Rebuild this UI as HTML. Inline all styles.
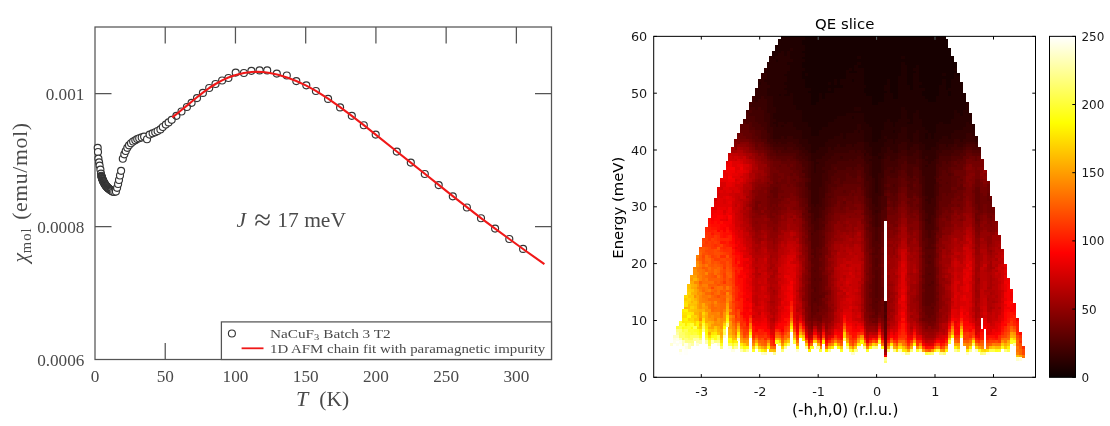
<!DOCTYPE html>
<html lang="en">
<head>
<meta charset="utf-8">
<title>Susceptibility fit and QE slice</title>
<style>
html,body{margin:0;padding:0;background:#fff;}
body{width:1110px;height:426px;overflow:hidden;}
svg{display:block;}
text{white-space:pre;}
</style>
</head>
<body>
<svg width="1110" height="426" viewBox="0 0 1110 426">
<rect width="1110" height="426" fill="#fff"/>
<g id="chi-plot">
<rect x="95.0" y="27.0" width="456.5" height="332.5" fill="#fff" stroke="#555" stroke-width="1.25"/>
<path d="M165.23 359.5v-16.5M165.23 27.0v16.5M235.46 359.5v-16.5M235.46 27.0v16.5M305.69 359.5v-16.5M305.69 27.0v16.5M375.92 359.5v-16.5M375.92 27.0v16.5M446.15 359.5v-16.5M446.15 27.0v16.5M516.38 359.5v-16.5M516.38 27.0v16.5M95.0 226.5h16.5M551.5 226.5h-16.5M95.0 93.5h16.5M551.5 93.5h-16.5" stroke="#555" stroke-width="1.25" fill="none"/>
<g fill="#fff" stroke="#333" stroke-width="1.15">
<circle cx="97.7" cy="147.8" r="3.5"/>
<circle cx="98" cy="152" r="3.5"/>
<circle cx="98.4" cy="158.6" r="3.5"/>
<circle cx="99.1" cy="162.4" r="3.5"/>
<circle cx="99.6" cy="165.6" r="3.5"/>
<circle cx="100.4" cy="169.6" r="3.5"/>
<circle cx="101" cy="173.6" r="3.5"/>
<circle cx="101.3" cy="175.8" r="3.5"/>
<circle cx="101.48" cy="176.36" r="3.5"/>
<circle cx="101.66" cy="176.92" r="3.5"/>
<circle cx="101.84" cy="177.48" r="3.5"/>
<circle cx="102.02" cy="178.04" r="3.5"/>
<circle cx="102.2" cy="178.6" r="3.5"/>
<circle cx="102.42" cy="179.16" r="3.5"/>
<circle cx="102.64" cy="179.72" r="3.5"/>
<circle cx="102.86" cy="180.28" r="3.5"/>
<circle cx="103.08" cy="180.84" r="3.5"/>
<circle cx="103.3" cy="181.4" r="3.5"/>
<circle cx="103.56" cy="181.88" r="3.5"/>
<circle cx="103.82" cy="182.36" r="3.5"/>
<circle cx="104.08" cy="182.84" r="3.5"/>
<circle cx="104.34" cy="183.32" r="3.5"/>
<circle cx="104.6" cy="183.8" r="3.5"/>
<circle cx="104.88" cy="184.22" r="3.5"/>
<circle cx="105.16" cy="184.64" r="3.5"/>
<circle cx="105.44" cy="185.06" r="3.5"/>
<circle cx="105.72" cy="185.48" r="3.5"/>
<circle cx="106" cy="185.9" r="3.5"/>
<circle cx="106.32" cy="186.26" r="3.5"/>
<circle cx="106.64" cy="186.62" r="3.5"/>
<circle cx="106.96" cy="186.98" r="3.5"/>
<circle cx="107.28" cy="187.34" r="3.5"/>
<circle cx="107.6" cy="187.7" r="3.5"/>
<circle cx="107.92" cy="187.98" r="3.5"/>
<circle cx="108.24" cy="188.26" r="3.5"/>
<circle cx="108.56" cy="188.54" r="3.5"/>
<circle cx="108.88" cy="188.82" r="3.5"/>
<circle cx="109.2" cy="189.1" r="3.5"/>
<circle cx="109.73" cy="189.5" r="3.5"/>
<circle cx="110.27" cy="189.9" r="3.5"/>
<circle cx="110.8" cy="190.3" r="3.5"/>
<circle cx="111.4" cy="190.63" r="3.5"/>
<circle cx="112" cy="190.97" r="3.5"/>
<circle cx="112.8" cy="191.8" r="3.5"/>
<circle cx="114.3" cy="192" r="3.5"/>
<circle cx="115.9" cy="191.5" r="3.5"/>
<circle cx="117.1" cy="187.8" r="3.5"/>
<circle cx="118.1" cy="184" r="3.5"/>
<circle cx="119" cy="180" r="3.5"/>
<circle cx="120" cy="175.5" r="3.5"/>
<circle cx="121.1" cy="170.8" r="3.5"/>
<circle cx="122.8" cy="158.7" r="3.5"/>
<circle cx="124.3" cy="154.3" r="3.5"/>
<circle cx="125.7" cy="151" r="3.5"/>
<circle cx="127.3" cy="147.8" r="3.5"/>
<circle cx="129" cy="145.3" r="3.5"/>
<circle cx="131" cy="143.2" r="3.5"/>
<circle cx="133.1" cy="141.5" r="3.5"/>
<circle cx="135.3" cy="140.2" r="3.5"/>
<circle cx="137.2" cy="139.1" r="3.5"/>
<circle cx="139.2" cy="138.2" r="3.5"/>
<circle cx="141.7" cy="137.4" r="3.5"/>
<circle cx="144.1" cy="136.6" r="3.5"/>
<circle cx="147" cy="139.2" r="3.5"/>
<circle cx="149.6" cy="134.6" r="3.5"/>
<circle cx="152.6" cy="133.3" r="3.5"/>
<circle cx="155.2" cy="132.2" r="3.5"/>
<circle cx="157.6" cy="131" r="3.5"/>
<circle cx="160.4" cy="129.4" r="3.5"/>
<circle cx="162.8" cy="127" r="3.5"/>
<circle cx="165.8" cy="124.6" r="3.5"/>
<circle cx="168.6" cy="122.4" r="3.5"/>
<circle cx="171.7" cy="119.8" r="3.5"/>
</g>
<g fill="none" stroke="#333" stroke-width="1.15">
<circle cx="176.4" cy="115.8" r="3.5"/>
<circle cx="181.5" cy="111.5" r="3.5"/>
<circle cx="186.9" cy="107" r="3.5"/>
<circle cx="191.6" cy="102.8" r="3.5"/>
<circle cx="197" cy="98.1" r="3.5"/>
<circle cx="202.9" cy="92.9" r="3.5"/>
<circle cx="209.2" cy="88" r="3.5"/>
<circle cx="215.5" cy="84" r="3.5"/>
<circle cx="222.1" cy="80.5" r="3.5"/>
<circle cx="228.4" cy="78" r="3.5"/>
<circle cx="235.7" cy="72.6" r="3.5"/>
<circle cx="243.9" cy="73" r="3.5"/>
<circle cx="251.4" cy="70.8" r="3.5"/>
<circle cx="259.6" cy="70.4" r="3.5"/>
<circle cx="267.2" cy="70.4" r="3.5"/>
<circle cx="276.8" cy="73.6" r="3.5"/>
<circle cx="286.8" cy="75.5" r="3.5"/>
<circle cx="296.3" cy="81.1" r="3.5"/>
<circle cx="306.3" cy="85.3" r="3.5"/>
<circle cx="315.9" cy="91" r="3.5"/>
<circle cx="328.1" cy="98.9" r="3.5"/>
<circle cx="340.1" cy="107.4" r="3.5"/>
<circle cx="351.8" cy="115.8" r="3.5"/>
<circle cx="363.8" cy="125.2" r="3.5"/>
<circle cx="375.7" cy="134.6" r="3.5"/>
<circle cx="396.8" cy="151.6" r="3.5"/>
<circle cx="410.8" cy="162.6" r="3.5"/>
<circle cx="424.8" cy="174" r="3.5"/>
<circle cx="438.7" cy="185.1" r="3.5"/>
<circle cx="452.8" cy="196.3" r="3.5"/>
<circle cx="466.9" cy="207.5" r="3.5"/>
<circle cx="481" cy="218.2" r="3.5"/>
<circle cx="495.1" cy="228.6" r="3.5"/>
<circle cx="509.3" cy="239" r="3.5"/>
<circle cx="523.1" cy="248.9" r="3.5"/>
</g>
<polyline fill="none" stroke="#f01818" stroke-width="2.1" stroke-linejoin="round" points="172.3,117.4 176.4,114.2 181.5,110 186.9,105.6 191.6,101.7 197,97.3 202.9,92.6 209.2,88 215.5,84 222.1,80.4 228.4,77.5 235.7,75 243.9,73 251.4,72 257.5,71.7 263,72 270,73 278,74.8 287,77.5 296.3,81 306.3,85.6 315.9,90.9 328.1,98.6 340.1,107.1 351.8,115.9 363.8,125.2 375.7,134.6 396.8,151.5 410.8,162.6 424.8,173.8 438.7,184.9 452.8,196.1 466.9,207.2 481,218.1 495.1,228.6 509.3,239 523.1,249 544.4,264.2"/>
<rect x="221.4" y="321.9" width="330.1" height="37.60000000000002" fill="#fff" stroke="#555" stroke-width="1.25"/>
<circle cx="231.9" cy="333.5" r="3.5" fill="#fff" stroke="#333" stroke-width="1.1"/>
<path d="M241.6 348.3h21.9" stroke="#f01818" stroke-width="1.8"/>
<g font-family="'Liberation Serif', serif" fill="#4a4a4a">
<text transform="translate(270 338.4) scale(1.175 1)" font-size="13">NaCuF<tspan font-size="9" dy="2">3</tspan><tspan dy="-2"> Batch 3 T2</tspan></text>
<text transform="translate(270 353.1) scale(1.146 1)" font-size="13">1D AFM chain fit with paramagnetic impurity</text>
<text x="95" y="381.5" font-size="17.2" text-anchor="middle">0</text>
<text x="165.23" y="381.5" font-size="17.2" text-anchor="middle">50</text>
<text x="235.46" y="381.5" font-size="17.2" text-anchor="middle">100</text>
<text x="305.69" y="381.5" font-size="17.2" text-anchor="middle">150</text>
<text x="375.92" y="381.5" font-size="17.2" text-anchor="middle">200</text>
<text x="446.15" y="381.5" font-size="17.2" text-anchor="middle">250</text>
<text x="516.38" y="381.5" font-size="17.2" text-anchor="middle">300</text>
<text x="84.4" y="365.8" font-size="17.2" text-anchor="end">0.0006</text>
<text x="84.4" y="232.8" font-size="17.2" text-anchor="end">0.0008</text>
<text x="84.4" y="99.8" font-size="17.2" text-anchor="end">0.001</text>
<text y="406" font-size="21.5"><tspan x="296" font-size="22" font-style="italic">T</tspan><tspan x="313.9"> (K)</tspan></text>
<text transform="translate(27.2 0) rotate(-90)" font-size="21.8"><tspan x="-262.6" font-size="21.5" font-style="italic">χ</tspan><tspan x="-253.2" dy="3.6" font-size="14.5" letter-spacing="1.1">mol</tspan><tspan x="-225.9" dy="-3.6" letter-spacing="0.6"> (emu/mol)</tspan></text>
<text y="226.5" font-size="21.5"><tspan x="236.4" font-style="italic">J</tspan><tspan x="246.6" dy="3.6" font-size="30.5"> ≈</tspan><tspan x="271.9" dy="-3.6"> 17 meV</tspan></text>
</g>
</g>
<g id="qe-slice">
<rect x="653.7" y="36.35" width="381.8" height="340.95" fill="#fff"/>
<g shape-rendering="crispEdges">
<path fill="#170000" d="M810.4 101.7H816.6V104.8H810.4zM872.0 101.7H878.1V104.8H872.0zM810.4 98.9H819.5V102.0H810.4zM872.0 98.9H884.0V102.0H872.0zM927.6 98.9H936.7V102.0H927.6zM810.4 96.0H819.5V99.2H810.4zM822.1 96.0H825.4V99.2H822.1zM872.0 96.0H884.0V99.2H872.0zM892.5 96.0H898.6V99.2H892.5zM924.7 96.0H936.7V99.2H924.7zM810.4 93.2H819.5V96.3H810.4zM822.1 93.2H825.4V96.3H822.1zM866.1 93.2H884.0V96.3H866.1zM892.5 93.2H898.6V96.3H892.5zM921.8 93.2H939.6V96.3H921.8zM948.1 93.2H951.4V96.3H948.1zM807.5 90.3H834.2V93.5H807.5zM863.2 90.3H886.9V93.5H863.2zM889.5 90.3H898.6V93.5H889.5zM921.8 90.3H939.6V93.5H921.8zM948.1 90.3H951.4V93.5H948.1zM810.4 87.5H828.3V90.6H810.4zM830.9 87.5H834.2V90.6H830.9zM863.2 87.5H884.0V90.6H863.2zM889.5 87.5H898.6V90.6H889.5zM910.0 87.5H913.3V90.6H910.0zM924.7 87.5H939.6V90.6H924.7zM945.2 87.5H948.4V90.6H945.2zM804.6 84.7H843.0V87.8H804.6zM866.1 84.7H884.0V87.8H866.1zM889.5 84.7H898.6V87.8H889.5zM910.0 84.7H913.3V87.8H910.0zM918.8 84.7H939.6V87.8H918.8zM945.2 84.7H951.4V87.8H945.2zM804.6 81.8H828.3V85.0H804.6zM830.9 81.8H834.2V85.0H830.9zM836.8 81.8H840.0V85.0H836.8zM863.2 81.8H886.9V85.0H863.2zM889.5 81.8H898.6V85.0H889.5zM907.1 81.8H913.3V85.0H907.1zM921.8 81.8H942.6V85.0H921.8zM945.2 81.8H951.4V85.0H945.2zM804.6 79.0H834.2V82.1H804.6zM836.8 79.0H840.0V82.1H836.8zM851.4 79.0H854.7V82.1H851.4zM863.2 79.0H886.9V82.1H863.2zM889.5 79.0H898.6V82.1H889.5zM907.1 79.0H913.3V82.1H907.1zM918.8 79.0H942.6V82.1H918.8zM945.2 79.0H951.4V82.1H945.2zM801.6 76.1H845.9V79.3H801.6zM863.2 76.1H898.6V79.3H863.2zM907.1 76.1H913.3V79.3H907.1zM918.8 76.1H954.3V79.3H918.8zM801.6 73.3H804.9V76.4H801.6zM807.5 73.3H845.9V76.4H807.5zM863.2 73.3H901.5V76.4H863.2zM907.1 73.3H913.3V76.4H907.1zM918.8 73.3H942.6V76.4H918.8zM945.2 73.3H954.3V76.4H945.2zM956.9 73.3H960.2V76.4H956.9zM801.6 70.4H845.9V73.6H801.6zM848.5 70.4H857.6V73.6H848.5zM863.2 70.4H901.5V73.6H863.2zM907.1 70.4H916.2V73.6H907.1zM918.8 70.4H957.2V73.6H918.8zM804.6 67.6H848.8V70.7H804.6zM851.4 67.6H854.7V70.7H851.4zM863.2 67.6H901.5V70.7H863.2zM907.1 67.6H913.3V70.7H907.1zM918.8 67.6H954.3V70.7H918.8zM801.6 64.8H854.7V67.9H801.6zM857.3 64.8H901.5V67.9H857.3zM907.1 64.8H916.2V67.9H907.1zM918.8 64.8H957.2V67.9H918.8zM801.6 61.9H857.6V65.1H801.6zM860.2 61.9H901.5V65.1H860.2zM904.2 61.9H957.2V65.1H904.2zM804.6 59.1H954.3V62.2H804.6zM801.6 56.2H857.6V59.4H801.6zM860.2 56.2H901.5V59.4H860.2zM904.2 56.2H954.3V59.4H904.2zM804.6 53.4H951.4V56.5H804.6zM801.6 50.6H951.4V53.7H801.6zM804.6 47.7H951.4V50.9H804.6zM804.6 44.9H948.4V48.0H804.6zM801.6 42.0H948.4V45.2H801.6zM801.6 39.2H948.4V42.3H801.6zM804.6 36.4H945.5V39.5H804.6z"/>
<path fill="#200000" d="M872.0 138.6H878.1V141.8H872.0zM872.0 135.8H881.0V138.9H872.0zM924.7 135.8H927.9V138.9H924.7zM930.6 135.8H933.8V138.9H930.6zM810.4 133.0H819.5V136.1H810.4zM872.0 133.0H881.0V136.1H872.0zM924.7 133.0H927.9V136.1H924.7zM930.6 133.0H933.8V136.1H930.6zM810.4 130.1H819.5V133.3H810.4zM872.0 130.1H881.0V133.3H872.0zM892.5 130.1H895.7V133.3H892.5zM927.6 130.1H936.7V133.3H927.6zM810.4 127.3H822.4V130.4H810.4zM872.0 127.3H884.0V130.4H872.0zM924.7 127.3H936.7V130.4H924.7zM807.5 124.4H828.3V127.6H807.5zM869.0 124.4H884.0V127.6H869.0zM892.5 124.4H895.7V127.6H892.5zM921.8 124.4H936.7V127.6H921.8zM807.5 121.6H828.3V124.7H807.5zM866.1 121.6H884.0V124.7H866.1zM892.5 121.6H895.7V124.7H892.5zM907.1 121.6H913.3V124.7H907.1zM921.8 121.6H939.6V124.7H921.8zM942.3 121.6H951.4V124.7H942.3zM801.6 118.7H834.2V121.9H801.6zM863.2 118.7H886.9V121.9H863.2zM889.5 118.7H898.6V121.9H889.5zM910.0 118.7H913.3V121.9H910.0zM921.8 118.7H951.4V121.9H921.8zM801.6 115.9H837.1V119.0H801.6zM851.4 115.9H854.7V119.0H851.4zM863.2 115.9H901.5V119.0H863.2zM907.1 115.9H913.3V119.0H907.1zM918.8 115.9H954.3V119.0H918.8zM801.6 113.1H845.9V116.2H801.6zM863.2 113.1H901.5V116.2H863.2zM907.1 113.1H913.3V116.2H907.1zM918.8 113.1H954.3V116.2H918.8zM959.9 113.1H963.1V116.2H959.9zM801.6 110.2H901.5V113.4H801.6zM907.1 110.2H916.2V113.4H907.1zM918.8 110.2H954.3V113.4H918.8zM956.9 110.2H963.1V113.4H956.9zM795.8 107.4H854.7V110.5H795.8zM860.2 107.4H901.5V110.5H860.2zM904.2 107.4H966.0V110.5H904.2zM795.8 104.5H966.0V107.7H795.8zM792.8 101.7H810.7V104.8H792.8zM816.3 101.7H872.2V104.8H816.3zM877.8 101.7H966.0V104.8H877.8zM792.8 98.9H810.7V102.0H792.8zM819.2 98.9H872.2V102.0H819.2zM883.7 98.9H927.9V102.0H883.7zM936.4 98.9H966.0V102.0H936.4zM792.8 96.0H810.7V99.2H792.8zM819.2 96.0H822.4V99.2H819.2zM825.1 96.0H872.2V99.2H825.1zM883.7 96.0H892.8V99.2H883.7zM898.3 96.0H925.0V99.2H898.3zM936.4 96.0H966.0V99.2H936.4zM778.2 93.2H781.4V96.3H778.2zM784.1 93.2H790.2V96.3H784.1zM792.8 93.2H810.7V96.3H792.8zM819.2 93.2H822.4V96.3H819.2zM825.1 93.2H866.4V96.3H825.1zM883.7 93.2H892.8V96.3H883.7zM898.3 93.2H922.1V96.3H898.3zM939.3 93.2H948.4V96.3H939.3zM951.1 93.2H966.0V96.3H951.1zM787.0 90.3H807.8V93.5H787.0zM833.9 90.3H863.5V93.5H833.9zM886.6 90.3H889.8V93.5H886.6zM898.3 90.3H922.1V93.5H898.3zM939.3 90.3H948.4V93.5H939.3zM951.1 90.3H963.1V93.5H951.1zM784.1 87.5H810.7V90.6H784.1zM828.0 87.5H831.2V90.6H828.0zM833.9 87.5H863.5V90.6H833.9zM883.7 87.5H889.8V90.6H883.7zM898.3 87.5H910.3V90.6H898.3zM913.0 87.5H925.0V90.6H913.0zM939.3 87.5H945.5V90.6H939.3zM948.1 87.5H963.1V90.6H948.1zM787.0 84.7H804.9V87.8H787.0zM842.7 84.7H866.4V87.8H842.7zM883.7 84.7H889.8V87.8H883.7zM898.3 84.7H910.3V87.8H898.3zM913.0 84.7H919.1V87.8H913.0zM939.3 84.7H945.5V87.8H939.3zM951.1 84.7H963.1V87.8H951.1zM784.1 81.8H804.9V85.0H784.1zM828.0 81.8H831.2V85.0H828.0zM833.9 81.8H837.1V85.0H833.9zM839.7 81.8H863.5V85.0H839.7zM886.6 81.8H889.8V85.0H886.6zM898.3 81.8H907.4V85.0H898.3zM913.0 81.8H922.1V85.0H913.0zM942.3 81.8H945.5V85.0H942.3zM951.1 81.8H963.1V85.0H951.1zM787.0 79.0H804.9V82.1H787.0zM833.9 79.0H837.1V82.1H833.9zM839.7 79.0H851.7V82.1H839.7zM854.4 79.0H863.5V82.1H854.4zM886.6 79.0H889.8V82.1H886.6zM898.3 79.0H907.4V82.1H898.3zM913.0 79.0H919.1V82.1H913.0zM942.3 79.0H945.5V82.1H942.3zM951.1 79.0H960.2V82.1H951.1zM787.0 76.1H801.9V79.3H787.0zM845.6 76.1H863.5V79.3H845.6zM898.3 76.1H907.4V79.3H898.3zM913.0 76.1H919.1V79.3H913.0zM954.0 76.1H960.2V79.3H954.0zM784.1 73.3H801.9V76.4H784.1zM804.6 73.3H807.8V76.4H804.6zM845.6 73.3H863.5V76.4H845.6zM901.2 73.3H907.4V76.4H901.2zM913.0 73.3H919.1V76.4H913.0zM942.3 73.3H945.5V76.4H942.3zM954.0 73.3H957.2V76.4H954.0zM787.0 70.4H801.9V73.6H787.0zM845.6 70.4H848.8V73.6H845.6zM857.3 70.4H863.5V73.6H857.3zM901.2 70.4H907.4V73.6H901.2zM915.9 70.4H919.1V73.6H915.9zM789.9 67.6H804.9V70.7H789.9zM848.5 67.6H851.7V70.7H848.5zM854.4 67.6H863.5V70.7H854.4zM901.2 67.6H907.4V70.7H901.2zM913.0 67.6H919.1V70.7H913.0zM954.0 67.6H957.2V70.7H954.0zM789.9 64.8H801.9V67.9H789.9zM854.4 64.8H857.6V67.9H854.4zM901.2 64.8H907.4V67.9H901.2zM915.9 64.8H919.1V67.9H915.9zM787.0 61.9H801.9V65.1H787.0zM857.3 61.9H860.5V65.1H857.3zM901.2 61.9H904.5V65.1H901.2zM775.3 59.1H778.5V62.2H775.3zM792.8 59.1H804.9V62.2H792.8zM772.3 56.2H775.6V59.4H772.3zM789.9 56.2H801.9V59.4H789.9zM857.3 56.2H860.5V59.4H857.3zM901.2 56.2H904.5V59.4H901.2zM772.3 53.4H778.5V56.5H772.3zM784.1 53.4H787.3V56.5H784.1zM789.9 53.4H804.9V56.5H789.9zM772.3 50.6H781.4V53.7H772.3zM784.1 50.6H787.3V53.7H784.1zM789.9 50.6H801.9V53.7H789.9zM775.3 47.7H790.2V50.9H775.3zM792.8 47.7H804.9V50.9H792.8zM775.3 44.9H804.9V48.0H775.3zM778.2 42.0H801.9V45.2H778.2zM778.2 39.2H801.9V42.3H778.2zM781.1 36.4H804.9V39.5H781.1z"/>
<path fill="#280000" d="M877.8 155.7H881.0V158.8H877.8zM872.0 152.8H878.1V156.0H872.0zM810.4 150.0H816.6V153.1H810.4zM872.0 150.0H881.0V153.1H872.0zM810.4 147.2H819.5V150.3H810.4zM872.0 147.2H881.0V150.3H872.0zM924.7 147.2H930.9V150.3H924.7zM810.4 144.3H825.4V147.5H810.4zM869.0 144.3H884.0V147.5H869.0zM924.7 144.3H936.7V147.5H924.7zM807.5 141.5H825.4V144.6H807.5zM869.0 141.5H884.0V144.6H869.0zM892.5 141.5H895.7V144.6H892.5zM921.8 141.5H936.7V144.6H921.8zM807.5 138.6H828.3V141.8H807.5zM863.2 138.6H872.2V141.8H863.2zM877.8 138.6H886.9V141.8H877.8zM892.5 138.6H895.7V141.8H892.5zM910.0 138.6H913.3V141.8H910.0zM918.8 138.6H939.6V141.8H918.8zM801.6 135.8H834.2V138.9H801.6zM842.7 135.8H845.9V138.9H842.7zM863.2 135.8H872.2V138.9H863.2zM880.7 135.8H884.0V138.9H880.7zM886.6 135.8H898.6V138.9H886.6zM907.1 135.8H913.3V138.9H907.1zM918.8 135.8H925.0V138.9H918.8zM927.6 135.8H930.9V138.9H927.6zM933.5 135.8H942.6V138.9H933.5zM948.1 135.8H951.4V138.9H948.1zM801.6 133.0H810.7V136.1H801.6zM819.2 133.0H840.0V136.1H819.2zM842.7 133.0H845.9V136.1H842.7zM863.2 133.0H872.2V136.1H863.2zM880.7 133.0H898.6V136.1H880.7zM907.1 133.0H913.3V136.1H907.1zM918.8 133.0H925.0V136.1H918.8zM927.6 133.0H930.9V136.1H927.6zM933.5 133.0H951.4V136.1H933.5zM801.6 130.1H810.7V133.3H801.6zM819.2 130.1H854.7V133.3H819.2zM857.3 130.1H860.5V133.3H857.3zM863.2 130.1H872.2V133.3H863.2zM880.7 130.1H892.8V133.3H880.7zM895.4 130.1H901.5V133.3H895.4zM907.1 130.1H916.2V133.3H907.1zM918.8 130.1H927.9V133.3H918.8zM936.4 130.1H954.3V133.3H936.4zM795.8 127.3H810.7V130.4H795.8zM822.1 127.3H857.6V130.4H822.1zM860.2 127.3H872.2V130.4H860.2zM883.7 127.3H901.5V130.4H883.7zM907.1 127.3H925.0V130.4H907.1zM936.4 127.3H963.1V130.4H936.4zM971.6 127.3H974.8V130.4H971.6zM775.3 124.4H778.5V127.6H775.3zM781.1 124.4H784.4V127.6H781.1zM792.8 124.4H807.8V127.6H792.8zM828.0 124.4H857.6V127.6H828.0zM860.2 124.4H869.3V127.6H860.2zM883.7 124.4H892.8V127.6H883.7zM895.4 124.4H922.1V127.6H895.4zM936.4 124.4H966.0V127.6H936.4zM971.6 124.4H974.8V127.6H971.6zM772.3 121.6H778.5V124.7H772.3zM784.1 121.6H787.3V124.7H784.1zM792.8 121.6H807.8V124.7H792.8zM828.0 121.6H866.4V124.7H828.0zM883.7 121.6H892.8V124.7H883.7zM895.4 121.6H907.4V124.7H895.4zM913.0 121.6H922.1V124.7H913.0zM939.3 121.6H942.6V124.7H939.3zM951.1 121.6H966.0V124.7H951.1zM968.6 121.6H971.9V124.7H968.6zM775.3 118.7H801.9V121.9H775.3zM833.9 118.7H863.5V121.9H833.9zM886.6 118.7H889.8V121.9H886.6zM898.3 118.7H910.3V121.9H898.3zM913.0 118.7H922.1V121.9H913.0zM951.1 118.7H971.9V121.9H951.1zM772.3 115.9H801.9V119.0H772.3zM836.8 115.9H851.7V119.0H836.8zM854.4 115.9H863.5V119.0H854.4zM901.2 115.9H907.4V119.0H901.2zM913.0 115.9H919.1V119.0H913.0zM954.0 115.9H971.9V119.0H954.0zM772.3 113.1H801.9V116.2H772.3zM845.6 113.1H863.5V116.2H845.6zM901.2 113.1H907.4V116.2H901.2zM913.0 113.1H919.1V116.2H913.0zM954.0 113.1H960.2V116.2H954.0zM962.8 113.1H971.9V116.2H962.8zM775.3 110.2H801.9V113.4H775.3zM901.2 110.2H907.4V113.4H901.2zM915.9 110.2H919.1V113.4H915.9zM954.0 110.2H957.2V113.4H954.0zM962.8 110.2H968.9V113.4H962.8zM775.3 107.4H796.1V110.5H775.3zM854.4 107.4H860.5V110.5H854.4zM901.2 107.4H904.5V110.5H901.2zM965.7 107.4H968.9V110.5H965.7zM772.3 104.5H796.1V107.7H772.3zM965.7 104.5H968.9V107.7H965.7zM772.3 101.7H793.1V104.8H772.3zM965.7 101.7H968.9V104.8H965.7zM772.3 98.9H793.1V102.0H772.3zM772.3 96.0H793.1V99.2H772.3zM766.5 93.2H778.5V96.3H766.5zM781.1 93.2H784.4V96.3H781.1zM789.9 93.2H793.1V96.3H789.9zM766.5 90.3H787.3V93.5H766.5zM766.5 87.5H784.4V90.6H766.5zM769.4 84.7H787.3V87.8H769.4zM757.7 81.8H760.9V85.0H757.7zM766.5 81.8H784.4V85.0H766.5zM763.5 79.0H787.3V82.1H763.5zM766.5 76.1H787.3V79.3H766.5zM766.5 73.3H784.4V76.4H766.5zM763.5 70.4H787.3V73.6H763.5zM766.5 67.6H790.2V70.7H766.5zM766.5 64.8H790.2V67.9H766.5zM766.5 61.9H787.3V65.1H766.5zM769.4 59.1H775.6V62.2H769.4zM778.2 59.1H793.1V62.2H778.2zM769.4 56.2H772.6V59.4H769.4zM775.3 56.2H790.2V59.4H775.3zM778.2 53.4H784.4V56.5H778.2zM787.0 53.4H790.2V56.5H787.0zM781.1 50.6H784.4V53.7H781.1zM787.0 50.6H790.2V53.7H787.0zM789.9 47.7H793.1V50.9H789.9z"/>
<path fill="#300000" d="M874.9 189.8H878.1V192.9H874.9zM874.9 186.9H878.1V190.1H874.9zM874.9 184.1H878.1V187.2H874.9zM874.9 181.3H878.1V184.4H874.9zM874.9 178.4H878.1V181.6H874.9zM872.0 175.6H878.1V178.7H872.0zM872.0 172.7H878.1V175.9H872.0zM813.4 169.9H816.6V173.0H813.4zM872.0 169.9H881.0V173.0H872.0zM813.4 167.0H816.6V170.2H813.4zM872.0 167.0H881.0V170.2H872.0zM813.4 164.2H816.6V167.3H813.4zM872.0 164.2H881.0V167.3H872.0zM924.7 164.2H927.9V167.3H924.7zM813.4 161.4H819.5V164.5H813.4zM872.0 161.4H881.0V164.5H872.0zM927.6 161.4H930.9V164.5H927.6zM810.4 158.5H816.6V161.7H810.4zM869.0 158.5H881.0V161.7H869.0zM924.7 158.5H933.8V161.7H924.7zM810.4 155.7H822.4V158.8H810.4zM872.0 155.7H878.1V158.8H872.0zM880.7 155.7H884.0V158.8H880.7zM921.8 155.7H925.0V158.8H921.8zM927.6 155.7H936.7V158.8H927.6zM810.4 152.8H825.4V156.0H810.4zM863.2 152.8H866.4V156.0H863.2zM869.0 152.8H872.2V156.0H869.0zM877.8 152.8H884.0V156.0H877.8zM921.8 152.8H936.7V156.0H921.8zM807.5 150.0H810.7V153.1H807.5zM816.3 150.0H828.3V153.1H816.3zM866.1 150.0H872.2V153.1H866.1zM880.7 150.0H886.9V153.1H880.7zM892.5 150.0H898.6V153.1H892.5zM921.8 150.0H936.7V153.1H921.8zM804.6 147.2H810.7V150.3H804.6zM819.2 147.2H828.3V150.3H819.2zM830.9 147.2H834.2V150.3H830.9zM863.2 147.2H872.2V150.3H863.2zM880.7 147.2H886.9V150.3H880.7zM889.5 147.2H898.6V150.3H889.5zM907.1 147.2H910.3V150.3H907.1zM918.8 147.2H925.0V150.3H918.8zM930.6 147.2H939.6V150.3H930.6zM801.6 144.3H810.7V147.5H801.6zM825.1 144.3H837.1V147.5H825.1zM839.7 144.3H845.9V147.5H839.7zM851.4 144.3H854.7V147.5H851.4zM863.2 144.3H869.3V147.5H863.2zM883.7 144.3H898.6V147.5H883.7zM907.1 144.3H913.3V147.5H907.1zM918.8 144.3H925.0V147.5H918.8zM936.4 144.3H939.6V147.5H936.4zM945.2 144.3H948.4V147.5H945.2zM798.7 141.5H807.8V144.6H798.7zM825.1 141.5H857.6V144.6H825.1zM863.2 141.5H869.3V144.6H863.2zM883.7 141.5H892.8V144.6H883.7zM895.4 141.5H901.5V144.6H895.4zM907.1 141.5H922.1V144.6H907.1zM936.4 141.5H954.3V144.6H936.4zM798.7 138.6H807.8V141.8H798.7zM828.0 138.6H863.5V141.8H828.0zM886.6 138.6H892.8V141.8H886.6zM895.4 138.6H910.3V141.8H895.4zM913.0 138.6H919.1V141.8H913.0zM939.3 138.6H954.3V141.8H939.3zM959.9 138.6H963.1V141.8H959.9zM974.5 138.6H977.7V141.8H974.5zM772.3 135.8H781.4V138.9H772.3zM784.1 135.8H787.3V138.9H784.1zM792.8 135.8H801.9V138.9H792.8zM833.9 135.8H843.0V138.9H833.9zM845.6 135.8H863.5V138.9H845.6zM883.7 135.8H886.9V138.9H883.7zM898.3 135.8H907.4V138.9H898.3zM913.0 135.8H919.1V138.9H913.0zM942.3 135.8H948.4V138.9H942.3zM951.1 135.8H966.0V138.9H951.1zM974.5 135.8H977.7V138.9H974.5zM772.3 133.0H801.9V136.1H772.3zM839.7 133.0H843.0V136.1H839.7zM845.6 133.0H863.5V136.1H845.6zM898.3 133.0H907.4V136.1H898.3zM913.0 133.0H919.1V136.1H913.0zM951.1 133.0H966.0V136.1H951.1zM971.6 133.0H974.8V136.1H971.6zM772.3 130.1H801.9V133.3H772.3zM854.4 130.1H857.6V133.3H854.4zM860.2 130.1H863.5V133.3H860.2zM901.2 130.1H907.4V133.3H901.2zM915.9 130.1H919.1V133.3H915.9zM954.0 130.1H974.8V133.3H954.0zM772.3 127.3H796.1V130.4H772.3zM857.3 127.3H860.5V130.4H857.3zM901.2 127.3H907.4V130.4H901.2zM962.8 127.3H971.9V130.4H962.8zM769.4 124.4H775.6V127.6H769.4zM778.2 124.4H781.4V127.6H778.2zM784.1 124.4H793.1V127.6H784.1zM857.3 124.4H860.5V127.6H857.3zM965.7 124.4H971.9V127.6H965.7zM769.4 121.6H772.6V124.7H769.4zM778.2 121.6H784.4V124.7H778.2zM787.0 121.6H793.1V124.7H787.0zM965.7 121.6H968.9V124.7H965.7zM769.4 118.7H775.6V121.9H769.4zM769.4 115.9H772.6V119.0H769.4zM769.4 113.1H772.6V116.2H769.4zM766.5 110.2H775.6V113.4H766.5zM766.5 107.4H775.6V110.5H766.5zM766.5 104.5H772.6V107.7H766.5zM766.5 101.7H772.6V104.8H766.5zM754.8 98.9H758.0V102.0H754.8zM766.5 98.9H772.6V102.0H766.5zM754.8 96.0H760.9V99.2H754.8zM763.5 96.0H772.6V99.2H763.5zM754.8 93.2H766.8V96.3H754.8zM754.8 90.3H766.8V93.5H754.8zM754.8 87.5H766.8V90.6H754.8zM757.7 84.7H769.7V87.8H757.7zM760.6 81.8H766.8V85.0H760.6zM757.7 79.0H763.8V82.1H757.7zM760.6 76.1H766.8V79.3H760.6zM760.6 73.3H766.8V76.4H760.6zM763.5 67.6H766.8V70.7H763.5z"/>
<path fill="#390000" d="M874.9 209.7H878.1V212.8H874.9zM813.4 204.0H816.6V207.1H813.4zM874.9 204.0H878.1V207.1H874.9zM810.4 201.1H819.5V204.3H810.4zM872.0 201.1H878.1V204.3H872.0zM927.6 201.1H930.9V204.3H927.6zM810.4 198.3H819.5V201.4H810.4zM872.0 198.3H878.1V201.4H872.0zM924.7 198.3H930.9V201.4H924.7zM810.4 195.5H819.5V198.6H810.4zM872.0 195.5H878.1V198.6H872.0zM927.6 195.5H933.8V198.6H927.6zM810.4 192.6H819.5V195.8H810.4zM872.0 192.6H881.0V195.8H872.0zM924.7 192.6H933.8V195.8H924.7zM810.4 189.8H819.5V192.9H810.4zM872.0 189.8H875.2V192.9H872.0zM877.8 189.8H881.0V192.9H877.8zM924.7 189.8H933.8V192.9H924.7zM810.4 186.9H819.5V190.1H810.4zM872.0 186.9H875.2V190.1H872.0zM877.8 186.9H881.0V190.1H877.8zM924.7 186.9H933.8V190.1H924.7zM810.4 184.1H822.4V187.2H810.4zM872.0 184.1H875.2V187.2H872.0zM877.8 184.1H881.0V187.2H877.8zM924.7 184.1H933.8V187.2H924.7zM810.4 181.3H822.4V184.4H810.4zM872.0 181.3H875.2V184.4H872.0zM877.8 181.3H881.0V184.4H877.8zM924.7 181.3H936.7V184.4H924.7zM810.4 178.4H822.4V181.6H810.4zM872.0 178.4H875.2V181.6H872.0zM877.8 178.4H881.0V181.6H877.8zM924.7 178.4H936.7V181.6H924.7zM810.4 175.6H822.4V178.7H810.4zM877.8 175.6H884.0V178.7H877.8zM924.7 175.6H933.8V178.7H924.7zM810.4 172.7H822.4V175.9H810.4zM869.0 172.7H872.2V175.9H869.0zM877.8 172.7H884.0V175.9H877.8zM921.8 172.7H936.7V175.9H921.8zM810.4 169.9H813.6V173.0H810.4zM816.3 169.9H825.4V173.0H816.3zM869.0 169.9H872.2V173.0H869.0zM880.7 169.9H884.0V173.0H880.7zM921.8 169.9H936.7V173.0H921.8zM810.4 167.0H813.6V170.2H810.4zM816.3 167.0H822.4V170.2H816.3zM869.0 167.0H872.2V170.2H869.0zM880.7 167.0H884.0V170.2H880.7zM921.8 167.0H936.7V170.2H921.8zM810.4 164.2H813.6V167.3H810.4zM816.3 164.2H825.4V167.3H816.3zM869.0 164.2H872.2V167.3H869.0zM880.7 164.2H884.0V167.3H880.7zM921.8 164.2H925.0V167.3H921.8zM927.6 164.2H936.7V167.3H927.6zM810.4 161.4H813.6V164.5H810.4zM819.2 161.4H825.4V164.5H819.2zM866.1 161.4H872.2V164.5H866.1zM880.7 161.4H884.0V164.5H880.7zM921.8 161.4H927.9V164.5H921.8zM930.6 161.4H936.7V164.5H930.6zM807.5 158.5H810.7V161.7H807.5zM816.3 158.5H828.3V161.7H816.3zM863.2 158.5H869.3V161.7H863.2zM880.7 158.5H884.0V161.7H880.7zM889.5 158.5H895.7V161.7H889.5zM921.8 158.5H925.0V161.7H921.8zM933.5 158.5H936.7V161.7H933.5zM807.5 155.7H810.7V158.8H807.5zM822.1 155.7H831.2V158.8H822.1zM839.7 155.7H843.0V158.8H839.7zM863.2 155.7H872.2V158.8H863.2zM883.7 155.7H886.9V158.8H883.7zM889.5 155.7H898.6V158.8H889.5zM918.8 155.7H922.1V158.8H918.8zM924.7 155.7H927.9V158.8H924.7zM936.4 155.7H939.6V158.8H936.4zM804.6 152.8H810.7V156.0H804.6zM825.1 152.8H834.2V156.0H825.1zM866.1 152.8H869.3V156.0H866.1zM883.7 152.8H898.6V156.0H883.7zM907.1 152.8H913.3V156.0H907.1zM918.8 152.8H922.1V156.0H918.8zM936.4 152.8H939.6V156.0H936.4zM801.6 150.0H807.8V153.1H801.6zM828.0 150.0H848.8V153.1H828.0zM854.4 150.0H857.6V153.1H854.4zM860.2 150.0H866.4V153.1H860.2zM886.6 150.0H892.8V153.1H886.6zM898.3 150.0H901.5V153.1H898.3zM907.1 150.0H916.2V153.1H907.1zM918.8 150.0H922.1V153.1H918.8zM936.4 150.0H942.6V153.1H936.4zM798.7 147.2H804.9V150.3H798.7zM828.0 147.2H831.2V150.3H828.0zM833.9 147.2H863.5V150.3H833.9zM886.6 147.2H889.8V150.3H886.6zM898.3 147.2H907.4V150.3H898.3zM910.0 147.2H919.1V150.3H910.0zM939.3 147.2H951.4V150.3H939.3zM795.8 144.3H801.9V147.5H795.8zM836.8 144.3H840.0V147.5H836.8zM845.6 144.3H851.7V147.5H845.6zM854.4 144.3H863.5V147.5H854.4zM898.3 144.3H907.4V147.5H898.3zM913.0 144.3H919.1V147.5H913.0zM939.3 144.3H945.5V147.5H939.3zM948.1 144.3H954.3V147.5H948.1zM956.9 144.3H963.1V147.5H956.9zM775.3 141.5H778.5V144.6H775.3zM781.1 141.5H787.3V144.6H781.1zM792.8 141.5H799.0V144.6H792.8zM857.3 141.5H863.5V144.6H857.3zM901.2 141.5H907.4V144.6H901.2zM954.0 141.5H966.0V144.6H954.0zM974.5 141.5H977.7V144.6H974.5zM772.3 138.6H799.0V141.8H772.3zM954.0 138.6H960.2V141.8H954.0zM962.8 138.6H974.8V141.8H962.8zM769.4 135.8H772.6V138.9H769.4zM781.1 135.8H784.4V138.9H781.1zM787.0 135.8H793.1V138.9H787.0zM965.7 135.8H974.8V138.9H965.7zM769.4 133.0H772.6V136.1H769.4zM965.7 133.0H971.9V136.1H965.7zM766.5 130.1H772.6V133.3H766.5zM766.5 127.3H772.6V130.4H766.5zM766.5 124.4H769.7V127.6H766.5zM766.5 121.6H769.7V124.7H766.5zM763.5 118.7H769.7V121.9H763.5zM763.5 115.9H769.7V119.0H763.5zM763.5 113.1H769.7V116.2H763.5zM763.5 110.2H766.8V113.4H763.5zM754.8 107.4H758.0V110.5H754.8zM760.6 107.4H766.8V110.5H760.6zM748.9 104.5H766.8V107.7H748.9zM751.8 101.7H766.8V104.8H751.8zM751.8 98.9H755.0V102.0H751.8zM757.7 98.9H766.8V102.0H757.7zM751.8 96.0H755.0V99.2H751.8zM760.6 96.0H763.8V99.2H760.6z"/>
<path fill="#410000" d="M874.9 223.9H878.1V227.0H874.9zM874.9 221.0H878.1V224.2H874.9zM927.6 221.0H930.9V224.2H927.6zM813.4 218.2H816.6V221.3H813.4zM874.9 218.2H878.1V221.3H874.9zM924.7 218.2H930.9V221.3H924.7zM813.4 215.3H819.5V218.5H813.4zM874.9 215.3H878.1V218.5H874.9zM927.6 215.3H930.9V218.5H927.6zM813.4 212.5H819.5V215.6H813.4zM872.0 212.5H878.1V215.6H872.0zM927.6 212.5H933.8V215.6H927.6zM810.4 209.7H819.5V212.8H810.4zM872.0 209.7H875.2V212.8H872.0zM877.8 209.7H881.0V212.8H877.8zM924.7 209.7H933.8V212.8H924.7zM810.4 206.8H819.5V210.0H810.4zM872.0 206.8H881.0V210.0H872.0zM924.7 206.8H933.8V210.0H924.7zM810.4 204.0H813.6V207.1H810.4zM816.3 204.0H822.4V207.1H816.3zM872.0 204.0H875.2V207.1H872.0zM877.8 204.0H881.0V207.1H877.8zM924.7 204.0H936.7V207.1H924.7zM819.2 201.1H822.4V204.3H819.2zM877.8 201.1H881.0V204.3H877.8zM924.7 201.1H927.9V204.3H924.7zM930.6 201.1H936.7V204.3H930.6zM819.2 198.3H822.4V201.4H819.2zM877.8 198.3H881.0V201.4H877.8zM930.6 198.3H936.7V201.4H930.6zM819.2 195.5H825.4V198.6H819.2zM869.0 195.5H872.2V198.6H869.0zM877.8 195.5H881.0V198.6H877.8zM924.7 195.5H927.9V198.6H924.7zM933.5 195.5H936.7V198.6H933.5zM819.2 192.6H825.4V195.8H819.2zM869.0 192.6H872.2V195.8H869.0zM880.7 192.6H884.0V195.8H880.7zM921.8 192.6H925.0V195.8H921.8zM933.5 192.6H936.7V195.8H933.5zM819.2 189.8H825.4V192.9H819.2zM869.0 189.8H872.2V192.9H869.0zM880.7 189.8H884.0V192.9H880.7zM921.8 189.8H925.0V192.9H921.8zM933.5 189.8H936.7V192.9H933.5zM807.5 186.9H810.7V190.1H807.5zM819.2 186.9H825.4V190.1H819.2zM869.0 186.9H872.2V190.1H869.0zM880.7 186.9H884.0V190.1H880.7zM921.8 186.9H925.0V190.1H921.8zM933.5 186.9H936.7V190.1H933.5zM807.5 184.1H810.7V187.2H807.5zM822.1 184.1H825.4V187.2H822.1zM869.0 184.1H872.2V187.2H869.0zM880.7 184.1H884.0V187.2H880.7zM921.8 184.1H925.0V187.2H921.8zM933.5 184.1H936.7V187.2H933.5zM807.5 181.3H810.7V184.4H807.5zM822.1 181.3H825.4V184.4H822.1zM869.0 181.3H872.2V184.4H869.0zM880.7 181.3H884.0V184.4H880.7zM921.8 181.3H925.0V184.4H921.8zM822.1 178.4H828.3V181.6H822.1zM866.1 178.4H872.2V181.6H866.1zM880.7 178.4H884.0V181.6H880.7zM921.8 178.4H925.0V181.6H921.8zM807.5 175.6H810.7V178.7H807.5zM822.1 175.6H828.3V178.7H822.1zM866.1 175.6H872.2V178.7H866.1zM921.8 175.6H925.0V178.7H921.8zM933.5 175.6H936.7V178.7H933.5zM807.5 172.7H810.7V175.9H807.5zM822.1 172.7H828.3V175.9H822.1zM866.1 172.7H869.3V175.9H866.1zM807.5 169.9H810.7V173.0H807.5zM825.1 169.9H828.3V173.0H825.1zM863.2 169.9H869.3V173.0H863.2zM889.5 169.9H895.7V173.0H889.5zM807.5 167.0H810.7V170.2H807.5zM822.1 167.0H831.2V170.2H822.1zM863.2 167.0H869.3V170.2H863.2zM883.7 167.0H886.9V170.2H883.7zM892.5 167.0H895.7V170.2H892.5zM918.8 167.0H922.1V170.2H918.8zM807.5 164.2H810.7V167.3H807.5zM825.1 164.2H831.2V167.3H825.1zM863.2 164.2H869.3V167.3H863.2zM883.7 164.2H898.6V167.3H883.7zM918.8 164.2H922.1V167.3H918.8zM807.5 161.4H810.7V164.5H807.5zM825.1 161.4H837.1V164.5H825.1zM863.2 161.4H866.4V164.5H863.2zM883.7 161.4H898.6V164.5H883.7zM907.1 161.4H916.2V164.5H907.1zM918.8 161.4H922.1V164.5H918.8zM936.4 161.4H939.6V164.5H936.4zM804.6 158.5H807.8V161.7H804.6zM828.0 158.5H848.8V161.7H828.0zM851.4 158.5H854.7V161.7H851.4zM883.7 158.5H889.8V161.7H883.7zM895.4 158.5H898.6V161.7H895.4zM907.1 158.5H916.2V161.7H907.1zM918.8 158.5H922.1V161.7H918.8zM936.4 158.5H939.6V161.7H936.4zM801.6 155.7H807.8V158.8H801.6zM830.9 155.7H840.0V158.8H830.9zM842.7 155.7H857.6V158.8H842.7zM860.2 155.7H863.5V158.8H860.2zM886.6 155.7H889.8V158.8H886.6zM898.3 155.7H901.5V158.8H898.3zM907.1 155.7H919.1V158.8H907.1zM798.7 152.8H804.9V156.0H798.7zM833.9 152.8H863.5V156.0H833.9zM898.3 152.8H907.4V156.0H898.3zM913.0 152.8H919.1V156.0H913.0zM939.3 152.8H951.4V156.0H939.3zM798.7 150.0H801.9V153.1H798.7zM848.5 150.0H854.7V153.1H848.5zM857.3 150.0H860.5V153.1H857.3zM901.2 150.0H907.4V153.1H901.2zM915.9 150.0H919.1V153.1H915.9zM942.3 150.0H954.3V153.1H942.3zM784.1 147.2H787.3V150.3H784.1zM792.8 147.2H799.0V150.3H792.8zM951.1 147.2H963.1V150.3H951.1zM772.3 144.3H796.1V147.5H772.3zM954.0 144.3H957.2V147.5H954.0zM962.8 144.3H966.0V147.5H962.8zM974.5 144.3H977.7V147.5H974.5zM769.4 141.5H775.6V144.6H769.4zM778.2 141.5H781.4V144.6H778.2zM787.0 141.5H793.1V144.6H787.0zM965.7 141.5H974.8V144.6H965.7zM766.5 138.6H772.6V141.8H766.5zM766.5 135.8H769.7V138.9H766.5zM766.5 133.0H769.7V136.1H766.5zM763.5 127.3H766.8V130.4H763.5zM760.6 124.4H766.8V127.6H760.6zM757.7 121.6H766.8V124.7H757.7zM754.8 118.7H763.8V121.9H754.8zM754.8 115.9H763.8V119.0H754.8zM748.9 113.1H763.8V116.2H748.9zM746.0 110.2H749.2V113.4H746.0zM751.8 110.2H763.8V113.4H751.8zM748.9 107.4H755.0V110.5H748.9zM757.7 107.4H760.9V110.5H757.7zM748.9 101.7H752.1V104.8H748.9z"/>
<path fill="#490000" d="M883.7 314.8H886.9V317.9H883.7zM883.7 309.1H886.9V312.3H883.7zM883.7 306.3H886.9V309.4H883.7zM883.7 303.4H886.9V306.6H883.7zM883.7 300.6H886.9V303.7H883.7zM874.9 238.1H878.1V241.2H874.9zM874.9 235.2H878.1V238.4H874.9zM927.6 235.2H930.9V238.4H927.6zM810.4 232.4H813.6V235.5H810.4zM874.9 232.4H878.1V235.5H874.9zM927.6 232.4H930.9V235.5H927.6zM813.4 229.6H816.6V232.7H813.4zM874.9 229.6H878.1V232.7H874.9zM927.6 229.6H930.9V232.7H927.6zM813.4 226.7H819.5V229.9H813.4zM874.9 226.7H878.1V229.9H874.9zM924.7 226.7H933.8V229.9H924.7zM813.4 223.9H819.5V227.0H813.4zM872.0 223.9H875.2V227.0H872.0zM877.8 223.9H881.0V227.0H877.8zM924.7 223.9H933.8V227.0H924.7zM810.4 221.0H819.5V224.2H810.4zM872.0 221.0H875.2V224.2H872.0zM877.8 221.0H881.0V224.2H877.8zM924.7 221.0H927.9V224.2H924.7zM930.6 221.0H933.8V224.2H930.6zM810.4 218.2H813.6V221.3H810.4zM816.3 218.2H819.5V221.3H816.3zM872.0 218.2H875.2V221.3H872.0zM877.8 218.2H881.0V221.3H877.8zM930.6 218.2H933.8V221.3H930.6zM810.4 215.3H813.6V218.5H810.4zM819.2 215.3H822.4V218.5H819.2zM872.0 215.3H875.2V218.5H872.0zM877.8 215.3H881.0V218.5H877.8zM924.7 215.3H927.9V218.5H924.7zM930.6 215.3H936.7V218.5H930.6zM810.4 212.5H813.6V215.6H810.4zM819.2 212.5H822.4V215.6H819.2zM877.8 212.5H881.0V215.6H877.8zM924.7 212.5H927.9V215.6H924.7zM933.5 212.5H936.7V215.6H933.5zM807.5 209.7H810.7V212.8H807.5zM819.2 209.7H822.4V212.8H819.2zM933.5 209.7H936.7V212.8H933.5zM819.2 206.8H825.4V210.0H819.2zM869.0 206.8H872.2V210.0H869.0zM880.7 206.8H884.0V210.0H880.7zM921.8 206.8H925.0V210.0H921.8zM933.5 206.8H936.7V210.0H933.5zM807.5 204.0H810.7V207.1H807.5zM822.1 204.0H825.4V207.1H822.1zM869.0 204.0H872.2V207.1H869.0zM880.7 204.0H886.9V207.1H880.7zM921.8 204.0H925.0V207.1H921.8zM807.5 201.1H810.7V204.3H807.5zM822.1 201.1H825.4V204.3H822.1zM869.0 201.1H872.2V204.3H869.0zM880.7 201.1H886.9V204.3H880.7zM921.8 201.1H925.0V204.3H921.8zM807.5 198.3H810.7V201.4H807.5zM822.1 198.3H825.4V201.4H822.1zM869.0 198.3H872.2V201.4H869.0zM880.7 198.3H886.9V201.4H880.7zM921.8 198.3H925.0V201.4H921.8zM807.5 195.5H810.7V198.6H807.5zM866.1 195.5H869.3V198.6H866.1zM880.7 195.5H886.9V198.6H880.7zM921.8 195.5H925.0V198.6H921.8zM807.5 192.6H810.7V195.8H807.5zM866.1 192.6H869.3V195.8H866.1zM936.4 192.6H939.6V195.8H936.4zM807.5 189.8H810.7V192.9H807.5zM825.1 189.8H828.3V192.9H825.1zM866.1 189.8H869.3V192.9H866.1zM936.4 189.8H939.6V192.9H936.4zM825.1 186.9H828.3V190.1H825.1zM866.1 186.9H869.3V190.1H866.1zM883.7 186.9H886.9V190.1H883.7zM936.4 186.9H939.6V190.1H936.4zM804.6 184.1H807.8V187.2H804.6zM825.1 184.1H828.3V187.2H825.1zM863.2 184.1H869.3V187.2H863.2zM892.5 184.1H895.7V187.2H892.5zM936.4 184.1H939.6V187.2H936.4zM804.6 181.3H807.8V184.4H804.6zM825.1 181.3H831.2V184.4H825.1zM863.2 181.3H869.3V184.4H863.2zM883.7 181.3H886.9V184.4H883.7zM918.8 181.3H922.1V184.4H918.8zM936.4 181.3H939.6V184.4H936.4zM807.5 178.4H810.7V181.6H807.5zM828.0 178.4H831.2V181.6H828.0zM863.2 178.4H866.4V181.6H863.2zM883.7 178.4H886.9V181.6H883.7zM918.8 178.4H922.1V181.6H918.8zM804.6 175.6H807.8V178.7H804.6zM828.0 175.6H831.2V178.7H828.0zM863.2 175.6H866.4V178.7H863.2zM883.7 175.6H886.9V178.7H883.7zM889.5 175.6H898.6V178.7H889.5zM910.0 175.6H913.3V178.7H910.0zM918.8 175.6H922.1V178.7H918.8zM936.4 175.6H939.6V178.7H936.4zM804.6 172.7H807.8V175.9H804.6zM828.0 172.7H834.2V175.9H828.0zM863.2 172.7H866.4V175.9H863.2zM883.7 172.7H898.6V175.9H883.7zM907.1 172.7H913.3V175.9H907.1zM918.8 172.7H922.1V175.9H918.8zM936.4 172.7H939.6V175.9H936.4zM801.6 169.9H807.8V173.0H801.6zM828.0 169.9H837.1V173.0H828.0zM883.7 169.9H889.8V173.0H883.7zM895.4 169.9H898.6V173.0H895.4zM907.1 169.9H913.3V173.0H907.1zM918.8 169.9H922.1V173.0H918.8zM936.4 169.9H939.6V173.0H936.4zM804.6 167.0H807.8V170.2H804.6zM830.9 167.0H834.2V170.2H830.9zM836.8 167.0H845.9V170.2H836.8zM851.4 167.0H854.7V170.2H851.4zM886.6 167.0H892.8V170.2H886.6zM895.4 167.0H901.5V170.2H895.4zM907.1 167.0H913.3V170.2H907.1zM936.4 167.0H939.6V170.2H936.4zM801.6 164.2H807.8V167.3H801.6zM830.9 164.2H857.6V167.3H830.9zM860.2 164.2H863.5V167.3H860.2zM898.3 164.2H901.5V167.3H898.3zM907.1 164.2H919.1V167.3H907.1zM936.4 164.2H942.6V167.3H936.4zM801.6 161.4H807.8V164.5H801.6zM836.8 161.4H863.5V164.5H836.8zM898.3 161.4H904.5V164.5H898.3zM915.9 161.4H919.1V164.5H915.9zM939.3 161.4H942.6V164.5H939.3zM945.2 161.4H948.4V164.5H945.2zM798.7 158.5H804.9V161.7H798.7zM848.5 158.5H851.7V161.7H848.5zM854.4 158.5H863.5V161.7H854.4zM898.3 158.5H907.4V161.7H898.3zM915.9 158.5H919.1V161.7H915.9zM939.3 158.5H951.4V161.7H939.3zM795.8 155.7H801.9V158.8H795.8zM857.3 155.7H860.5V158.8H857.3zM901.2 155.7H907.4V158.8H901.2zM939.3 155.7H951.4V158.8H939.3zM795.8 152.8H799.0V156.0H795.8zM951.1 152.8H960.2V156.0H951.1zM775.3 150.0H778.5V153.1H775.3zM781.1 150.0H799.0V153.1H781.1zM954.0 150.0H963.1V153.1H954.0zM772.3 147.2H784.4V150.3H772.3zM787.0 147.2H793.1V150.3H787.0zM962.8 147.2H966.0V150.3H962.8zM971.6 147.2H980.7V150.3H971.6zM769.4 144.3H772.6V147.5H769.4zM965.7 144.3H974.8V147.5H965.7zM766.5 141.5H769.7V144.6H766.5zM760.6 135.8H766.8V138.9H760.6zM760.6 133.0H766.8V136.1H760.6zM760.6 130.1H766.8V133.3H760.6zM754.8 127.3H763.8V130.4H754.8zM751.8 124.4H760.9V127.6H751.8zM746.0 121.6H749.2V124.7H746.0zM751.8 121.6H758.0V124.7H751.8zM743.0 118.7H755.0V121.9H743.0zM746.0 115.9H755.0V119.0H746.0zM746.0 113.1H749.2V116.2H746.0zM748.9 110.2H752.1V113.4H748.9z"/>
<path fill="#520000" d="M883.7 317.6H886.9V320.8H883.7zM883.7 312.0H886.9V315.1H883.7zM874.9 300.6H878.1V303.7H874.9zM813.4 297.7H816.6V300.9H813.4zM874.9 294.9H878.1V298.0H874.9zM874.9 292.1H878.1V295.2H874.9zM813.4 289.2H816.6V292.4H813.4zM874.9 289.2H878.1V292.4H874.9zM813.4 286.4H816.6V289.5H813.4zM874.9 286.4H878.1V289.5H874.9zM874.9 283.5H878.1V286.7H874.9zM927.6 283.5H930.9V286.7H927.6zM874.9 280.7H878.1V283.8H874.9zM930.6 280.7H933.8V283.8H930.6zM813.4 277.9H816.6V281.0H813.4zM874.9 277.9H878.1V281.0H874.9zM874.9 275.0H878.1V278.2H874.9zM874.9 272.2H878.1V275.3H874.9zM927.6 272.2H930.9V275.3H927.6zM813.4 269.3H816.6V272.5H813.4zM874.9 269.3H878.1V272.5H874.9zM874.9 263.6H878.1V266.8H874.9zM874.9 260.8H878.1V263.9H874.9zM927.6 260.8H930.9V263.9H927.6zM874.9 258.0H878.1V261.1H874.9zM813.4 255.1H816.6V258.3H813.4zM927.6 255.1H930.9V258.3H927.6zM810.4 252.3H816.6V255.4H810.4zM872.0 252.3H878.1V255.4H872.0zM813.4 249.4H816.6V252.6H813.4zM874.9 249.4H878.1V252.6H874.9zM810.4 246.6H816.6V249.7H810.4zM874.9 246.6H881.0V249.7H874.9zM924.7 246.6H933.8V249.7H924.7zM810.4 243.8H819.5V246.9H810.4zM872.0 243.8H878.1V246.9H872.0zM927.6 243.8H930.9V246.9H927.6zM810.4 240.9H819.5V244.1H810.4zM872.0 240.9H881.0V244.1H872.0zM927.6 240.9H933.8V244.1H927.6zM810.4 238.1H819.5V241.2H810.4zM872.0 238.1H875.2V241.2H872.0zM877.8 238.1H881.0V241.2H877.8zM927.6 238.1H933.8V241.2H927.6zM810.4 235.2H819.5V238.4H810.4zM872.0 235.2H875.2V238.4H872.0zM877.8 235.2H881.0V238.4H877.8zM924.7 235.2H927.9V238.4H924.7zM930.6 235.2H933.8V238.4H930.6zM813.4 232.4H819.5V235.5H813.4zM872.0 232.4H875.2V235.5H872.0zM877.8 232.4H881.0V235.5H877.8zM924.7 232.4H927.9V235.5H924.7zM930.6 232.4H936.7V235.5H930.6zM810.4 229.6H813.6V232.7H810.4zM816.3 229.6H819.5V232.7H816.3zM872.0 229.6H875.2V232.7H872.0zM877.8 229.6H881.0V232.7H877.8zM924.7 229.6H927.9V232.7H924.7zM930.6 229.6H933.8V232.7H930.6zM810.4 226.7H813.6V229.9H810.4zM819.2 226.7H822.4V229.9H819.2zM872.0 226.7H875.2V229.9H872.0zM877.8 226.7H881.0V229.9H877.8zM933.5 226.7H936.7V229.9H933.5zM810.4 223.9H813.6V227.0H810.4zM819.2 223.9H825.4V227.0H819.2zM933.5 223.9H936.7V227.0H933.5zM819.2 221.0H822.4V224.2H819.2zM869.0 221.0H872.2V224.2H869.0zM933.5 221.0H936.7V224.2H933.5zM819.2 218.2H825.4V221.3H819.2zM880.7 218.2H884.0V221.3H880.7zM921.8 218.2H925.0V221.3H921.8zM933.5 218.2H936.7V221.3H933.5zM807.5 215.3H810.7V218.5H807.5zM822.1 215.3H825.4V218.5H822.1zM869.0 215.3H872.2V218.5H869.0zM880.7 215.3H886.9V218.5H880.7zM921.8 215.3H925.0V218.5H921.8zM822.1 212.5H825.4V215.6H822.1zM869.0 212.5H872.2V215.6H869.0zM880.7 212.5H886.9V215.6H880.7zM921.8 212.5H925.0V215.6H921.8zM822.1 209.7H825.4V212.8H822.1zM869.0 209.7H872.2V212.8H869.0zM880.7 209.7H886.9V212.8H880.7zM921.8 209.7H925.0V212.8H921.8zM807.5 206.8H810.7V210.0H807.5zM883.7 206.8H886.9V210.0H883.7zM936.4 206.8H939.6V210.0H936.4zM825.1 204.0H828.3V207.1H825.1zM866.1 204.0H869.3V207.1H866.1zM936.4 204.0H939.6V207.1H936.4zM825.1 201.1H828.3V204.3H825.1zM866.1 201.1H869.3V204.3H866.1zM936.4 201.1H939.6V204.3H936.4zM825.1 198.3H828.3V201.4H825.1zM866.1 198.3H869.3V201.4H866.1zM936.4 198.3H939.6V201.4H936.4zM804.6 195.5H807.8V198.6H804.6zM825.1 195.5H831.2V198.6H825.1zM918.8 195.5H922.1V198.6H918.8zM936.4 195.5H939.6V198.6H936.4zM804.6 192.6H807.8V195.8H804.6zM825.1 192.6H828.3V195.8H825.1zM863.2 192.6H866.4V195.8H863.2zM892.5 192.6H895.7V195.8H892.5zM918.8 192.6H922.1V195.8H918.8zM804.6 189.8H807.8V192.9H804.6zM828.0 189.8H831.2V192.9H828.0zM863.2 189.8H866.4V192.9H863.2zM883.7 189.8H886.9V192.9H883.7zM889.5 189.8H898.6V192.9H889.5zM918.8 189.8H922.1V192.9H918.8zM804.6 186.9H807.8V190.1H804.6zM828.0 186.9H831.2V190.1H828.0zM863.2 186.9H866.4V190.1H863.2zM886.6 186.9H898.6V190.1H886.6zM910.0 186.9H913.3V190.1H910.0zM918.8 186.9H922.1V190.1H918.8zM828.0 184.1H837.1V187.2H828.0zM883.7 184.1H886.9V187.2H883.7zM889.5 184.1H892.8V187.2H889.5zM895.4 184.1H898.6V187.2H895.4zM907.1 184.1H913.3V187.2H907.1zM918.8 184.1H922.1V187.2H918.8zM939.3 184.1H942.6V187.2H939.3zM830.9 181.3H834.2V184.4H830.9zM839.7 181.3H843.0V184.4H839.7zM886.6 181.3H898.6V184.4H886.6zM910.0 181.3H913.3V184.4H910.0zM945.2 181.3H948.4V184.4H945.2zM804.6 178.4H807.8V181.6H804.6zM830.9 178.4H837.1V181.6H830.9zM839.7 178.4H845.9V181.6H839.7zM886.6 178.4H898.6V181.6H886.6zM907.1 178.4H916.2V181.6H907.1zM936.4 178.4H942.6V181.6H936.4zM801.6 175.6H804.9V178.7H801.6zM830.9 175.6H845.9V178.7H830.9zM851.4 175.6H857.6V178.7H851.4zM860.2 175.6H863.5V178.7H860.2zM886.6 175.6H889.8V178.7H886.6zM907.1 175.6H910.3V178.7H907.1zM915.9 175.6H919.1V178.7H915.9zM833.9 172.7H845.9V175.9H833.9zM848.5 172.7H857.6V175.9H848.5zM860.2 172.7H863.5V175.9H860.2zM898.3 172.7H901.5V175.9H898.3zM913.0 172.7H919.1V175.9H913.0zM939.3 172.7H942.6V175.9H939.3zM948.1 172.7H951.4V175.9H948.1zM836.8 169.9H857.6V173.0H836.8zM860.2 169.9H863.5V173.0H860.2zM898.3 169.9H901.5V173.0H898.3zM904.2 169.9H907.4V173.0H904.2zM913.0 169.9H919.1V173.0H913.0zM939.3 169.9H942.6V173.0H939.3zM945.2 169.9H948.4V173.0H945.2zM801.6 167.0H804.9V170.2H801.6zM833.9 167.0H837.1V170.2H833.9zM845.6 167.0H851.7V170.2H845.6zM854.4 167.0H863.5V170.2H854.4zM901.2 167.0H907.4V170.2H901.2zM913.0 167.0H919.1V170.2H913.0zM939.3 167.0H948.4V170.2H939.3zM857.3 164.2H860.5V167.3H857.3zM901.2 164.2H907.4V167.3H901.2zM942.3 164.2H951.4V167.3H942.3zM798.7 161.4H801.9V164.5H798.7zM904.2 161.4H907.4V164.5H904.2zM942.3 161.4H945.5V164.5H942.3zM948.1 161.4H951.4V164.5H948.1zM795.8 158.5H799.0V161.7H795.8zM951.1 158.5H957.2V161.7H951.1zM792.8 155.7H796.1V158.8H792.8zM951.1 155.7H963.1V158.8H951.1zM775.3 152.8H796.1V156.0H775.3zM959.9 152.8H966.0V156.0H959.9zM772.3 150.0H775.6V153.1H772.3zM778.2 150.0H781.4V153.1H778.2zM962.8 150.0H966.0V153.1H962.8zM971.6 150.0H980.7V153.1H971.6zM769.4 147.2H772.6V150.3H769.4zM965.7 147.2H971.9V150.3H965.7zM766.5 144.3H769.7V147.5H766.5zM763.5 141.5H766.8V144.6H763.5zM760.6 138.6H766.8V141.8H760.6zM757.7 135.8H760.9V138.9H757.7zM754.8 133.0H760.9V136.1H754.8zM754.8 130.1H760.9V133.3H754.8zM748.9 127.3H755.0V130.4H748.9zM748.9 124.4H752.1V127.6H748.9zM743.0 121.6H746.3V124.7H743.0zM748.9 121.6H752.1V124.7H748.9z"/>
<path fill="#5a0000" d="M883.7 326.2H886.9V329.3H883.7zM883.7 323.3H886.9V326.5H883.7zM883.7 320.5H886.9V323.6H883.7zM874.9 312.0H878.1V315.1H874.9zM810.4 309.1H813.6V312.3H810.4zM816.3 309.1H819.5V312.3H816.3zM874.9 309.1H878.1V312.3H874.9zM810.4 306.3H813.6V309.4H810.4zM872.0 306.3H878.1V309.4H872.0zM930.6 306.3H933.8V309.4H930.6zM810.4 303.4H813.6V306.6H810.4zM816.3 303.4H819.5V306.6H816.3zM872.0 303.4H878.1V306.6H872.0zM924.7 303.4H930.9V306.6H924.7zM810.4 300.6H819.5V303.7H810.4zM872.0 300.6H875.2V303.7H872.0zM924.7 300.6H933.8V303.7H924.7zM810.4 297.7H813.6V300.9H810.4zM816.3 297.7H819.5V300.9H816.3zM872.0 297.7H881.0V300.9H872.0zM924.7 297.7H933.8V300.9H924.7zM810.4 294.9H822.4V298.0H810.4zM872.0 294.9H875.2V298.0H872.0zM877.8 294.9H881.0V298.0H877.8zM924.7 294.9H933.8V298.0H924.7zM810.4 292.1H819.5V295.2H810.4zM872.0 292.1H875.2V295.2H872.0zM877.8 292.1H881.0V295.2H877.8zM924.7 292.1H933.8V295.2H924.7zM816.3 289.2H819.5V292.4H816.3zM872.0 289.2H875.2V292.4H872.0zM877.8 289.2H881.0V292.4H877.8zM924.7 289.2H933.8V292.4H924.7zM810.4 286.4H813.6V289.5H810.4zM816.3 286.4H819.5V289.5H816.3zM872.0 286.4H875.2V289.5H872.0zM877.8 286.4H881.0V289.5H877.8zM924.7 286.4H933.8V289.5H924.7zM810.4 283.5H819.5V286.7H810.4zM872.0 283.5H875.2V286.7H872.0zM877.8 283.5H881.0V286.7H877.8zM924.7 283.5H927.9V286.7H924.7zM930.6 283.5H933.8V286.7H930.6zM810.4 280.7H819.5V283.8H810.4zM872.0 280.7H875.2V283.8H872.0zM877.8 280.7H881.0V283.8H877.8zM924.7 280.7H930.9V283.8H924.7zM810.4 277.9H813.6V281.0H810.4zM816.3 277.9H822.4V281.0H816.3zM872.0 277.9H875.2V281.0H872.0zM877.8 277.9H881.0V281.0H877.8zM924.7 277.9H933.8V281.0H924.7zM810.4 275.0H819.5V278.2H810.4zM877.8 275.0H881.0V278.2H877.8zM924.7 275.0H933.8V278.2H924.7zM810.4 272.2H819.5V275.3H810.4zM872.0 272.2H875.2V275.3H872.0zM877.8 272.2H881.0V275.3H877.8zM924.7 272.2H927.9V275.3H924.7zM930.6 272.2H933.8V275.3H930.6zM810.4 269.3H813.6V272.5H810.4zM816.3 269.3H819.5V272.5H816.3zM872.0 269.3H875.2V272.5H872.0zM877.8 269.3H881.0V272.5H877.8zM924.7 269.3H933.8V272.5H924.7zM810.4 266.5H819.5V269.6H810.4zM872.0 266.5H881.0V269.6H872.0zM924.7 266.5H933.8V269.6H924.7zM813.4 263.6H819.5V266.8H813.4zM872.0 263.6H875.2V266.8H872.0zM927.6 263.6H933.8V266.8H927.6zM810.4 260.8H819.5V263.9H810.4zM872.0 260.8H875.2V263.9H872.0zM877.8 260.8H881.0V263.9H877.8zM924.7 260.8H927.9V263.9H924.7zM930.6 260.8H933.8V263.9H930.6zM810.4 258.0H819.5V261.1H810.4zM872.0 258.0H875.2V261.1H872.0zM877.8 258.0H881.0V261.1H877.8zM924.7 258.0H933.8V261.1H924.7zM816.3 255.1H819.5V258.3H816.3zM872.0 255.1H881.0V258.3H872.0zM924.7 255.1H927.9V258.3H924.7zM930.6 255.1H933.8V258.3H930.6zM816.3 252.3H822.4V255.4H816.3zM877.8 252.3H881.0V255.4H877.8zM924.7 252.3H933.8V255.4H924.7zM810.4 249.4H813.6V252.6H810.4zM816.3 249.4H819.5V252.6H816.3zM872.0 249.4H875.2V252.6H872.0zM877.8 249.4H881.0V252.6H877.8zM924.7 249.4H933.8V252.6H924.7zM816.3 246.6H822.4V249.7H816.3zM872.0 246.6H875.2V249.7H872.0zM933.5 246.6H936.7V249.7H933.5zM819.2 243.8H822.4V246.9H819.2zM877.8 243.8H881.0V246.9H877.8zM924.7 243.8H927.9V246.9H924.7zM930.6 243.8H933.8V246.9H930.6zM819.2 240.9H822.4V244.1H819.2zM924.7 240.9H927.9V244.1H924.7zM933.5 240.9H936.7V244.1H933.5zM819.2 238.1H822.4V241.2H819.2zM921.8 238.1H927.9V241.2H921.8zM933.5 238.1H936.7V241.2H933.5zM819.2 235.2H825.4V238.4H819.2zM921.8 235.2H925.0V238.4H921.8zM933.5 235.2H936.7V238.4H933.5zM819.2 232.4H822.4V235.5H819.2zM921.8 232.4H925.0V235.5H921.8zM807.5 229.6H810.7V232.7H807.5zM819.2 229.6H822.4V232.7H819.2zM869.0 229.6H872.2V232.7H869.0zM880.7 229.6H884.0V232.7H880.7zM921.8 229.6H925.0V232.7H921.8zM933.5 229.6H936.7V232.7H933.5zM822.1 226.7H825.4V229.9H822.1zM869.0 226.7H872.2V229.9H869.0zM880.7 226.7H884.0V229.9H880.7zM921.8 226.7H925.0V229.9H921.8zM936.4 226.7H939.6V229.9H936.4zM807.5 223.9H810.7V227.0H807.5zM869.0 223.9H872.2V227.0H869.0zM880.7 223.9H884.0V227.0H880.7zM921.8 223.9H925.0V227.0H921.8zM807.5 221.0H810.7V224.2H807.5zM822.1 221.0H825.4V224.2H822.1zM880.7 221.0H884.0V224.2H880.7zM921.8 221.0H925.0V224.2H921.8zM807.5 218.2H810.7V221.3H807.5zM869.0 218.2H872.2V221.3H869.0zM883.7 218.2H886.9V221.3H883.7zM936.4 215.3H939.6V218.5H936.4zM807.5 212.5H810.7V215.6H807.5zM825.1 212.5H828.3V215.6H825.1zM866.1 212.5H869.3V215.6H866.1zM936.4 212.5H939.6V215.6H936.4zM825.1 209.7H828.3V212.8H825.1zM866.1 209.7H869.3V212.8H866.1zM918.8 209.7H922.1V212.8H918.8zM936.4 209.7H939.6V212.8H936.4zM804.6 206.8H807.8V210.0H804.6zM825.1 206.8H828.3V210.0H825.1zM866.1 206.8H869.3V210.0H866.1zM918.8 206.8H922.1V210.0H918.8zM828.0 204.0H831.2V207.1H828.0zM892.5 204.0H895.7V207.1H892.5zM918.8 204.0H922.1V207.1H918.8zM804.6 201.1H807.8V204.3H804.6zM828.0 201.1H831.2V204.3H828.0zM863.2 201.1H866.4V204.3H863.2zM892.5 201.1H895.7V204.3H892.5zM918.8 201.1H922.1V204.3H918.8zM804.6 198.3H807.8V201.4H804.6zM828.0 198.3H831.2V201.4H828.0zM863.2 198.3H866.4V201.4H863.2zM889.5 198.3H898.6V201.4H889.5zM918.8 198.3H922.1V201.4H918.8zM939.3 198.3H942.6V201.4H939.3zM801.6 195.5H804.9V198.6H801.6zM830.9 195.5H834.2V198.6H830.9zM863.2 195.5H866.4V198.6H863.2zM886.6 195.5H898.6V198.6H886.6zM907.1 195.5H913.3V198.6H907.1zM939.3 195.5H942.6V198.6H939.3zM801.6 192.6H804.9V195.8H801.6zM828.0 192.6H834.2V195.8H828.0zM883.7 192.6H886.9V195.8H883.7zM889.5 192.6H892.8V195.8H889.5zM895.4 192.6H898.6V195.8H895.4zM907.1 192.6H913.3V195.8H907.1zM915.9 192.6H919.1V195.8H915.9zM939.3 192.6H942.6V195.8H939.3zM945.2 192.6H948.4V195.8H945.2zM801.6 189.8H804.9V192.9H801.6zM830.9 189.8H834.2V192.9H830.9zM842.7 189.8H845.9V192.9H842.7zM886.6 189.8H889.8V192.9H886.6zM907.1 189.8H919.1V192.9H907.1zM939.3 189.8H951.4V192.9H939.3zM801.6 186.9H804.9V190.1H801.6zM830.9 186.9H837.1V190.1H830.9zM860.2 186.9H863.5V190.1H860.2zM907.1 186.9H910.3V190.1H907.1zM913.0 186.9H919.1V190.1H913.0zM939.3 186.9H951.4V190.1H939.3zM798.7 184.1H804.9V187.2H798.7zM836.8 184.1H843.0V187.2H836.8zM860.2 184.1H863.5V187.2H860.2zM886.6 184.1H889.8V187.2H886.6zM898.3 184.1H901.5V187.2H898.3zM915.9 184.1H919.1V187.2H915.9zM942.3 184.1H951.4V187.2H942.3zM798.7 181.3H804.9V184.4H798.7zM833.9 181.3H840.0V184.4H833.9zM842.7 181.3H863.5V184.4H842.7zM898.3 181.3H901.5V184.4H898.3zM907.1 181.3H910.3V184.4H907.1zM913.0 181.3H919.1V184.4H913.0zM939.3 181.3H945.5V184.4H939.3zM948.1 181.3H951.4V184.4H948.1zM801.6 178.4H804.9V181.6H801.6zM836.8 178.4H840.0V181.6H836.8zM845.6 178.4H857.6V181.6H845.6zM860.2 178.4H863.5V181.6H860.2zM898.3 178.4H901.5V181.6H898.3zM904.2 178.4H907.4V181.6H904.2zM915.9 178.4H919.1V181.6H915.9zM942.3 178.4H951.4V181.6H942.3zM798.7 175.6H801.9V178.7H798.7zM845.6 175.6H851.7V178.7H845.6zM898.3 175.6H907.4V178.7H898.3zM913.0 175.6H916.2V178.7H913.0zM939.3 175.6H951.4V178.7H939.3zM798.7 172.7H804.9V175.9H798.7zM845.6 172.7H848.8V175.9H845.6zM857.3 172.7H860.5V175.9H857.3zM901.2 172.7H907.4V175.9H901.2zM942.3 172.7H948.4V175.9H942.3zM951.1 172.7H954.3V175.9H951.1zM798.7 169.9H801.9V173.0H798.7zM857.3 169.9H860.5V173.0H857.3zM901.2 169.9H904.5V173.0H901.2zM942.3 169.9H945.5V173.0H942.3zM948.1 169.9H951.4V173.0H948.1zM795.8 167.0H801.9V170.2H795.8zM948.1 167.0H951.4V170.2H948.1zM795.8 164.2H801.9V167.3H795.8zM951.1 164.2H957.2V167.3H951.1zM795.8 161.4H799.0V164.5H795.8zM951.1 161.4H954.3V164.5H951.1zM956.9 161.4H960.2V164.5H956.9zM781.1 158.5H787.3V161.7H781.1zM789.9 158.5H796.1V161.7H789.9zM956.9 158.5H963.1V161.7H956.9zM775.3 155.7H793.1V158.8H775.3zM769.4 152.8H775.6V156.0H769.4zM971.6 152.8H980.7V156.0H971.6zM769.4 150.0H772.6V153.1H769.4zM965.7 150.0H971.9V153.1H965.7zM766.5 147.2H769.7V150.3H766.5zM763.5 144.3H766.8V147.5H763.5zM754.8 138.6H760.9V141.8H754.8zM751.8 135.8H758.0V138.9H751.8zM751.8 133.0H755.0V136.1H751.8zM748.9 130.1H755.0V133.3H748.9zM740.1 127.3H749.2V130.4H740.1zM740.1 124.4H749.2V127.6H740.1z"/>
<path fill="#620000" d="M883.7 331.8H886.9V335.0H883.7zM883.7 329.0H886.9V332.1H883.7zM810.4 314.8H813.6V317.9H810.4zM872.0 314.8H878.1V317.9H872.0zM927.6 314.8H930.9V317.9H927.6zM810.4 312.0H816.6V315.1H810.4zM924.7 312.0H933.8V315.1H924.7zM813.4 309.1H816.6V312.3H813.4zM872.0 309.1H875.2V312.3H872.0zM877.8 309.1H881.0V312.3H877.8zM924.7 309.1H933.8V312.3H924.7zM813.4 306.3H819.5V309.4H813.4zM877.8 306.3H881.0V309.4H877.8zM924.7 306.3H930.9V309.4H924.7zM813.4 303.4H816.6V306.6H813.4zM819.2 303.4H822.4V306.6H819.2zM869.0 303.4H872.2V306.6H869.0zM877.8 303.4H884.0V306.6H877.8zM921.8 303.4H925.0V306.6H921.8zM930.6 303.4H936.7V306.6H930.6zM819.2 300.6H822.4V303.7H819.2zM877.8 300.6H881.0V303.7H877.8zM921.8 300.6H925.0V303.7H921.8zM933.5 300.6H936.7V303.7H933.5zM819.2 297.7H822.4V300.9H819.2zM921.8 297.7H925.0V300.9H921.8zM933.5 297.7H936.7V300.9H933.5zM822.1 294.9H825.4V298.0H822.1zM869.0 294.9H872.2V298.0H869.0zM880.7 294.9H884.0V298.0H880.7zM921.8 294.9H925.0V298.0H921.8zM933.5 294.9H936.7V298.0H933.5zM819.2 292.1H825.4V295.2H819.2zM869.0 292.1H872.2V295.2H869.0zM880.7 292.1H884.0V295.2H880.7zM921.8 292.1H925.0V295.2H921.8zM933.5 292.1H936.7V295.2H933.5zM810.4 289.2H813.6V292.4H810.4zM819.2 289.2H822.4V292.4H819.2zM880.7 289.2H884.0V292.4H880.7zM933.5 289.2H936.7V292.4H933.5zM819.2 286.4H822.4V289.5H819.2zM869.0 286.4H872.2V289.5H869.0zM880.7 286.4H884.0V289.5H880.7zM921.8 286.4H925.0V289.5H921.8zM933.5 286.4H936.7V289.5H933.5zM819.2 283.5H822.4V286.7H819.2zM869.0 283.5H872.2V286.7H869.0zM921.8 283.5H925.0V286.7H921.8zM933.5 283.5H936.7V286.7H933.5zM819.2 280.7H822.4V283.8H819.2zM933.5 280.7H936.7V283.8H933.5zM933.5 277.9H936.7V281.0H933.5zM819.2 275.0H822.4V278.2H819.2zM872.0 275.0H875.2V278.2H872.0zM921.8 275.0H925.0V278.2H921.8zM933.5 275.0H936.7V278.2H933.5zM819.2 272.2H822.4V275.3H819.2zM933.5 272.2H936.7V275.3H933.5zM819.2 269.3H822.4V272.5H819.2zM933.5 269.3H936.7V272.5H933.5zM933.5 266.5H936.7V269.6H933.5zM810.4 263.6H813.6V266.8H810.4zM819.2 263.6H822.4V266.8H819.2zM877.8 263.6H881.0V266.8H877.8zM924.7 263.6H927.9V266.8H924.7zM819.2 260.8H822.4V263.9H819.2zM810.4 255.1H813.6V258.3H810.4zM819.2 255.1H822.4V258.3H819.2zM921.8 255.1H925.0V258.3H921.8zM933.5 255.1H936.7V258.3H933.5zM869.0 252.3H872.2V255.4H869.0zM880.7 252.3H884.0V255.4H880.7zM933.5 252.3H936.7V255.4H933.5zM819.2 249.4H822.4V252.6H819.2zM921.8 249.4H925.0V252.6H921.8zM933.5 249.4H936.7V252.6H933.5zM869.0 246.6H872.2V249.7H869.0zM921.8 246.6H925.0V249.7H921.8zM822.1 243.8H825.4V246.9H822.1zM869.0 243.8H872.2V246.9H869.0zM880.7 243.8H884.0V246.9H880.7zM921.8 243.8H925.0V246.9H921.8zM933.5 243.8H936.7V246.9H933.5zM822.1 240.9H825.4V244.1H822.1zM869.0 240.9H872.2V244.1H869.0zM880.7 240.9H884.0V244.1H880.7zM921.8 240.9H925.0V244.1H921.8zM807.5 238.1H810.7V241.2H807.5zM822.1 238.1H825.4V241.2H822.1zM869.0 238.1H872.2V241.2H869.0zM880.7 238.1H884.0V241.2H880.7zM807.5 235.2H810.7V238.4H807.5zM869.0 235.2H872.2V238.4H869.0zM880.7 235.2H884.0V238.4H880.7zM807.5 232.4H810.7V235.5H807.5zM822.1 232.4H825.4V235.5H822.1zM869.0 232.4H872.2V235.5H869.0zM880.7 232.4H884.0V235.5H880.7zM822.1 229.6H825.4V232.7H822.1zM936.4 229.6H939.6V232.7H936.4zM807.5 226.7H810.7V229.9H807.5zM866.1 226.7H869.3V229.9H866.1zM936.4 223.9H939.6V227.0H936.4zM825.1 221.0H828.3V224.2H825.1zM866.1 221.0H869.3V224.2H866.1zM936.4 221.0H939.6V224.2H936.4zM804.6 218.2H807.8V221.3H804.6zM825.1 218.2H828.3V221.3H825.1zM866.1 218.2H869.3V221.3H866.1zM918.8 218.2H922.1V221.3H918.8zM936.4 218.2H939.6V221.3H936.4zM804.6 215.3H807.8V218.5H804.6zM825.1 215.3H828.3V218.5H825.1zM866.1 215.3H869.3V218.5H866.1zM918.8 215.3H922.1V218.5H918.8zM801.6 212.5H807.8V215.6H801.6zM863.2 212.5H866.4V215.6H863.2zM918.8 212.5H922.1V215.6H918.8zM939.3 212.5H942.6V215.6H939.3zM804.6 209.7H807.8V212.8H804.6zM828.0 209.7H831.2V212.8H828.0zM863.2 209.7H866.4V212.8H863.2zM939.3 209.7H942.6V212.8H939.3zM828.0 206.8H831.2V210.0H828.0zM863.2 206.8H866.4V210.0H863.2zM892.5 206.8H895.7V210.0H892.5zM939.3 206.8H942.6V210.0H939.3zM977.4 206.8H980.7V210.0H977.4zM801.6 204.0H807.8V207.1H801.6zM830.9 204.0H834.2V207.1H830.9zM863.2 204.0H866.4V207.1H863.2zM886.6 204.0H892.8V207.1H886.6zM895.4 204.0H898.6V207.1H895.4zM910.0 204.0H913.3V207.1H910.0zM915.9 204.0H919.1V207.1H915.9zM939.3 204.0H948.4V207.1H939.3zM977.4 204.0H980.7V207.1H977.4zM801.6 201.1H804.9V204.3H801.6zM830.9 201.1H837.1V204.3H830.9zM842.7 201.1H845.9V204.3H842.7zM889.5 201.1H892.8V204.3H889.5zM895.4 201.1H898.6V204.3H895.4zM907.1 201.1H913.3V204.3H907.1zM939.3 201.1H951.4V204.3H939.3zM974.5 201.1H980.7V204.3H974.5zM989.2 201.1H992.4V204.3H989.2zM801.6 198.3H804.9V201.4H801.6zM830.9 198.3H837.1V201.4H830.9zM886.6 198.3H889.8V201.4H886.6zM910.0 198.3H916.2V201.4H910.0zM942.3 198.3H951.4V201.4H942.3zM974.5 198.3H980.7V201.4H974.5zM986.2 198.3H992.4V201.4H986.2zM772.3 195.5H778.5V198.6H772.3zM798.7 195.5H801.9V198.6H798.7zM833.9 195.5H837.1V198.6H833.9zM915.9 195.5H919.1V198.6H915.9zM942.3 195.5H954.3V198.6H942.3zM974.5 195.5H980.7V198.6H974.5zM986.2 195.5H989.5V198.6H986.2zM772.3 192.6H778.5V195.8H772.3zM798.7 192.6H801.9V195.8H798.7zM833.9 192.6H848.8V195.8H833.9zM851.4 192.6H854.7V195.8H851.4zM860.2 192.6H863.5V195.8H860.2zM886.6 192.6H889.8V195.8H886.6zM913.0 192.6H916.2V195.8H913.0zM942.3 192.6H945.5V195.8H942.3zM948.1 192.6H954.3V195.8H948.1zM974.5 192.6H980.7V195.8H974.5zM986.2 192.6H989.5V195.8H986.2zM769.4 189.8H778.5V192.9H769.4zM798.7 189.8H801.9V192.9H798.7zM833.9 189.8H843.0V192.9H833.9zM845.6 189.8H851.7V192.9H845.6zM854.4 189.8H857.6V192.9H854.4zM860.2 189.8H863.5V192.9H860.2zM898.3 189.8H901.5V192.9H898.3zM951.1 189.8H957.2V192.9H951.1zM974.5 189.8H980.7V192.9H974.5zM772.3 186.9H778.5V190.1H772.3zM798.7 186.9H801.9V190.1H798.7zM836.8 186.9H857.6V190.1H836.8zM898.3 186.9H901.5V190.1H898.3zM956.9 186.9H963.1V190.1H956.9zM974.5 186.9H980.7V190.1H974.5zM795.8 184.1H799.0V187.2H795.8zM842.7 184.1H860.5V187.2H842.7zM901.2 184.1H907.4V187.2H901.2zM913.0 184.1H916.2V187.2H913.0zM951.1 184.1H957.2V187.2H951.1zM959.9 184.1H963.1V187.2H959.9zM775.3 181.3H778.5V184.4H775.3zM795.8 181.3H799.0V184.4H795.8zM901.2 181.3H907.4V184.4H901.2zM951.1 181.3H957.2V184.4H951.1zM792.8 178.4H796.1V181.6H792.8zM798.7 178.4H801.9V181.6H798.7zM857.3 178.4H860.5V181.6H857.3zM901.2 178.4H904.5V181.6H901.2zM951.1 178.4H957.2V181.6H951.1zM959.9 178.4H963.1V181.6H959.9zM857.3 175.6H860.5V178.7H857.3zM951.1 175.6H960.2V178.7H951.1zM789.9 172.7H793.1V175.9H789.9zM795.8 172.7H799.0V175.9H795.8zM792.8 169.9H799.0V173.0H792.8zM951.1 169.9H954.3V173.0H951.1zM789.9 167.0H796.1V170.2H789.9zM951.1 167.0H963.1V170.2H951.1zM778.2 164.2H781.4V167.3H778.2zM787.0 164.2H790.2V167.3H787.0zM792.8 164.2H796.1V167.3H792.8zM956.9 164.2H963.1V167.3H956.9zM781.1 161.4H796.1V164.5H781.1zM954.0 161.4H957.2V164.5H954.0zM959.9 161.4H966.0V164.5H959.9zM772.3 158.5H781.4V161.7H772.3zM787.0 158.5H790.2V161.7H787.0zM962.8 158.5H966.0V161.7H962.8zM974.5 158.5H977.7V161.7H974.5zM769.4 155.7H775.6V158.8H769.4zM962.8 155.7H968.9V158.8H962.8zM974.5 155.7H977.7V158.8H974.5zM766.5 152.8H769.7V156.0H766.5zM965.7 152.8H971.9V156.0H965.7zM766.5 150.0H769.7V153.1H766.5zM763.5 147.2H766.8V150.3H763.5zM754.8 144.3H758.0V147.5H754.8zM760.6 144.3H763.8V147.5H760.6zM754.8 141.5H763.8V144.6H754.8zM751.8 138.6H755.0V141.8H751.8zM746.0 135.8H752.1V138.9H746.0zM743.0 133.0H752.1V136.1H743.0zM740.1 130.1H749.2V133.3H740.1z"/>
<path fill="#6b0000" d="M883.7 334.7H886.9V337.8H883.7zM872.0 320.5H878.1V323.6H872.0zM927.6 320.5H930.9V323.6H927.6zM810.4 317.6H813.6V320.8H810.4zM816.3 317.6H822.4V320.8H816.3zM874.9 317.6H878.1V320.8H874.9zM921.8 317.6H936.7V320.8H921.8zM813.4 314.8H822.4V317.9H813.4zM869.0 314.8H872.2V317.9H869.0zM880.7 314.8H884.0V317.9H880.7zM924.7 314.8H927.9V317.9H924.7zM930.6 314.8H936.7V317.9H930.6zM816.3 312.0H819.5V315.1H816.3zM872.0 312.0H875.2V315.1H872.0zM877.8 312.0H884.0V315.1H877.8zM933.5 312.0H936.7V315.1H933.5zM819.2 309.1H822.4V312.3H819.2zM869.0 309.1H872.2V312.3H869.0zM880.7 309.1H884.0V312.3H880.7zM921.8 309.1H925.0V312.3H921.8zM933.5 309.1H936.7V312.3H933.5zM819.2 306.3H825.4V309.4H819.2zM869.0 306.3H872.2V309.4H869.0zM880.7 306.3H884.0V309.4H880.7zM921.8 306.3H925.0V309.4H921.8zM933.5 306.3H936.7V309.4H933.5zM807.5 303.4H810.7V306.6H807.5zM822.1 303.4H825.4V306.6H822.1zM807.5 300.6H810.7V303.7H807.5zM822.1 300.6H825.4V303.7H822.1zM869.0 300.6H872.2V303.7H869.0zM880.7 300.6H884.0V303.7H880.7zM807.5 297.7H810.7V300.9H807.5zM869.0 297.7H872.2V300.9H869.0zM880.7 297.7H884.0V300.9H880.7zM936.4 297.7H939.6V300.9H936.4zM807.5 294.9H810.7V298.0H807.5zM807.5 292.1H810.7V295.2H807.5zM825.1 292.1H828.3V295.2H825.1zM936.4 292.1H939.6V295.2H936.4zM807.5 289.2H810.7V292.4H807.5zM822.1 289.2H825.4V292.4H822.1zM869.0 289.2H872.2V292.4H869.0zM921.8 289.2H925.0V292.4H921.8zM807.5 286.4H810.7V289.5H807.5zM822.1 286.4H825.4V289.5H822.1zM807.5 283.5H810.7V286.7H807.5zM822.1 283.5H825.4V286.7H822.1zM880.7 283.5H884.0V286.7H880.7zM936.4 283.5H939.6V286.7H936.4zM822.1 280.7H825.4V283.8H822.1zM869.0 280.7H872.2V283.8H869.0zM880.7 280.7H884.0V283.8H880.7zM921.8 280.7H925.0V283.8H921.8zM807.5 277.9H810.7V281.0H807.5zM822.1 277.9H825.4V281.0H822.1zM869.0 277.9H872.2V281.0H869.0zM880.7 277.9H884.0V281.0H880.7zM921.8 277.9H925.0V281.0H921.8zM822.1 275.0H825.4V278.2H822.1zM869.0 275.0H872.2V278.2H869.0zM869.0 272.2H872.2V275.3H869.0zM880.7 272.2H884.0V275.3H880.7zM921.8 272.2H925.0V275.3H921.8zM807.5 269.3H810.7V272.5H807.5zM822.1 269.3H825.4V272.5H822.1zM869.0 269.3H872.2V272.5H869.0zM880.7 269.3H884.0V272.5H880.7zM921.8 269.3H925.0V272.5H921.8zM819.2 266.5H825.4V269.6H819.2zM869.0 266.5H872.2V269.6H869.0zM880.7 266.5H884.0V269.6H880.7zM921.8 266.5H925.0V269.6H921.8zM822.1 263.6H825.4V266.8H822.1zM921.8 263.6H925.0V266.8H921.8zM933.5 263.6H936.7V266.8H933.5zM822.1 260.8H825.4V263.9H822.1zM869.0 260.8H872.2V263.9H869.0zM880.7 260.8H884.0V263.9H880.7zM921.8 260.8H925.0V263.9H921.8zM933.5 260.8H936.7V263.9H933.5zM807.5 258.0H810.7V261.1H807.5zM819.2 258.0H825.4V261.1H819.2zM869.0 258.0H872.2V261.1H869.0zM880.7 258.0H884.0V261.1H880.7zM921.8 258.0H925.0V261.1H921.8zM933.5 258.0H936.7V261.1H933.5zM807.5 255.1H810.7V258.3H807.5zM822.1 255.1H825.4V258.3H822.1zM869.0 255.1H872.2V258.3H869.0zM880.7 255.1H884.0V258.3H880.7zM807.5 252.3H810.7V255.4H807.5zM822.1 252.3H825.4V255.4H822.1zM921.8 252.3H925.0V255.4H921.8zM807.5 249.4H810.7V252.6H807.5zM822.1 249.4H825.4V252.6H822.1zM869.0 249.4H872.2V252.6H869.0zM880.7 249.4H884.0V252.6H880.7zM807.5 246.6H810.7V249.7H807.5zM822.1 246.6H825.4V249.7H822.1zM880.7 246.6H884.0V249.7H880.7zM807.5 243.8H810.7V246.9H807.5zM807.5 240.9H810.7V244.1H807.5zM936.4 238.1H939.6V241.2H936.4zM866.1 235.2H869.3V238.4H866.1zM866.1 232.4H869.3V235.5H866.1zM936.4 232.4H939.6V235.5H936.4zM825.1 229.6H828.3V232.7H825.1zM866.1 229.6H869.3V232.7H866.1zM804.6 226.7H807.8V229.9H804.6zM825.1 226.7H828.3V229.9H825.1zM918.8 226.7H922.1V229.9H918.8zM804.6 223.9H807.8V227.0H804.6zM825.1 223.9H828.3V227.0H825.1zM866.1 223.9H869.3V227.0H866.1zM918.8 223.9H922.1V227.0H918.8zM804.6 221.0H807.8V224.2H804.6zM918.8 221.0H922.1V224.2H918.8zM828.0 218.2H831.2V221.3H828.0zM863.2 218.2H866.4V221.3H863.2zM974.5 218.2H980.7V221.3H974.5zM801.6 215.3H804.9V218.5H801.6zM828.0 215.3H831.2V218.5H828.0zM863.2 215.3H866.4V218.5H863.2zM939.3 215.3H942.6V218.5H939.3zM945.2 215.3H948.4V218.5H945.2zM974.5 215.3H977.7V218.5H974.5zM989.2 215.3H992.4V218.5H989.2zM828.0 212.5H834.2V215.6H828.0zM886.6 212.5H895.7V215.6H886.6zM974.5 212.5H980.7V215.6H974.5zM801.6 209.7H804.9V212.8H801.6zM830.9 209.7H834.2V212.8H830.9zM886.6 209.7H898.6V212.8H886.6zM910.0 209.7H913.3V212.8H910.0zM942.3 209.7H945.5V212.8H942.3zM948.1 209.7H951.4V212.8H948.1zM977.4 209.7H983.6V212.8H977.4zM986.2 209.7H995.3V212.8H986.2zM772.3 206.8H775.6V210.0H772.3zM801.6 206.8H804.9V210.0H801.6zM830.9 206.8H834.2V210.0H830.9zM839.7 206.8H843.0V210.0H839.7zM889.5 206.8H892.8V210.0H889.5zM895.4 206.8H898.6V210.0H895.4zM910.0 206.8H919.1V210.0H910.0zM942.3 206.8H951.4V210.0H942.3zM974.5 206.8H977.7V210.0H974.5zM980.4 206.8H983.6V210.0H980.4zM986.2 206.8H992.4V210.0H986.2zM769.4 204.0H772.6V207.1H769.4zM775.3 204.0H778.5V207.1H775.3zM798.7 204.0H801.9V207.1H798.7zM833.9 204.0H837.1V207.1H833.9zM839.7 204.0H845.9V207.1H839.7zM907.1 204.0H910.3V207.1H907.1zM913.0 204.0H916.2V207.1H913.0zM948.1 204.0H954.3V207.1H948.1zM956.9 204.0H960.2V207.1H956.9zM974.5 204.0H977.7V207.1H974.5zM980.4 204.0H983.6V207.1H980.4zM986.2 204.0H992.4V207.1H986.2zM769.4 201.1H778.5V204.3H769.4zM798.7 201.1H801.9V204.3H798.7zM839.7 201.1H843.0V204.3H839.7zM851.4 201.1H854.7V204.3H851.4zM860.2 201.1H863.5V204.3H860.2zM886.6 201.1H889.8V204.3H886.6zM898.3 201.1H901.5V204.3H898.3zM913.0 201.1H919.1V204.3H913.0zM980.4 201.1H989.5V204.3H980.4zM769.4 198.3H781.4V201.4H769.4zM798.7 198.3H801.9V201.4H798.7zM836.8 198.3H843.0V201.4H836.8zM845.6 198.3H854.7V201.4H845.6zM857.3 198.3H863.5V201.4H857.3zM898.3 198.3H901.5V201.4H898.3zM907.1 198.3H910.3V201.4H907.1zM915.9 198.3H919.1V201.4H915.9zM951.1 198.3H954.3V201.4H951.1zM956.9 198.3H963.1V201.4H956.9zM980.4 198.3H986.5V201.4H980.4zM766.5 195.5H772.6V198.6H766.5zM781.1 195.5H784.4V198.6H781.1zM836.8 195.5H854.7V198.6H836.8zM857.3 195.5H863.5V198.6H857.3zM898.3 195.5H901.5V198.6H898.3zM913.0 195.5H916.2V198.6H913.0zM954.0 195.5H957.2V198.6H954.0zM959.9 195.5H963.1V198.6H959.9zM980.4 195.5H986.5V198.6H980.4zM989.2 195.5H992.4V198.6H989.2zM769.4 192.6H772.6V195.8H769.4zM795.8 192.6H799.0V195.8H795.8zM848.5 192.6H851.7V195.8H848.5zM854.4 192.6H860.5V195.8H854.4zM898.3 192.6H901.5V195.8H898.3zM904.2 192.6H907.4V195.8H904.2zM954.0 192.6H963.1V195.8H954.0zM980.4 192.6H983.6V195.8H980.4zM778.2 189.8H784.4V192.9H778.2zM795.8 189.8H799.0V192.9H795.8zM851.4 189.8H854.7V192.9H851.4zM857.3 189.8H860.5V192.9H857.3zM901.2 189.8H907.4V192.9H901.2zM956.9 189.8H963.1V192.9H956.9zM971.6 189.8H974.8V192.9H971.6zM986.2 189.8H989.5V192.9H986.2zM769.4 186.9H772.6V190.1H769.4zM778.2 186.9H781.4V190.1H778.2zM795.8 186.9H799.0V190.1H795.8zM857.3 186.9H860.5V190.1H857.3zM901.2 186.9H907.4V190.1H901.2zM951.1 186.9H957.2V190.1H951.1zM962.8 186.9H966.0V190.1H962.8zM986.2 186.9H989.5V190.1H986.2zM769.4 184.1H781.4V187.2H769.4zM787.0 184.1H790.2V187.2H787.0zM792.8 184.1H796.1V187.2H792.8zM956.9 184.1H960.2V187.2H956.9zM974.5 184.1H980.7V187.2H974.5zM986.2 184.1H989.5V187.2H986.2zM772.3 181.3H775.6V184.4H772.3zM778.2 181.3H787.3V184.4H778.2zM789.9 181.3H796.1V184.4H789.9zM956.9 181.3H963.1V184.4H956.9zM974.5 181.3H980.7V184.4H974.5zM772.3 178.4H778.5V181.6H772.3zM781.1 178.4H787.3V181.6H781.1zM789.9 178.4H793.1V181.6H789.9zM795.8 178.4H799.0V181.6H795.8zM956.9 178.4H960.2V181.6H956.9zM974.5 178.4H980.7V181.6H974.5zM772.3 175.6H781.4V178.7H772.3zM784.1 175.6H787.3V178.7H784.1zM789.9 175.6H799.0V178.7H789.9zM959.9 175.6H963.1V178.7H959.9zM772.3 172.7H778.5V175.9H772.3zM784.1 172.7H790.2V175.9H784.1zM792.8 172.7H796.1V175.9H792.8zM954.0 172.7H966.0V175.9H954.0zM778.2 169.9H793.1V173.0H778.2zM954.0 169.9H966.0V173.0H954.0zM775.3 167.0H790.2V170.2H775.3zM772.3 164.2H778.5V167.3H772.3zM781.1 164.2H787.3V167.3H781.1zM789.9 164.2H793.1V167.3H789.9zM962.8 164.2H966.0V167.3H962.8zM772.3 161.4H781.4V164.5H772.3zM769.4 158.5H772.6V161.7H769.4zM971.6 158.5H974.8V161.7H971.6zM977.4 158.5H980.7V161.7H977.4zM766.5 155.7H769.7V158.8H766.5zM968.6 155.7H974.8V158.8H968.6zM977.4 155.7H980.7V158.8H977.4zM763.5 150.0H766.8V153.1H763.5zM754.8 147.2H763.8V150.3H754.8zM757.7 144.3H760.9V147.5H757.7zM751.8 141.5H755.0V144.6H751.8zM748.9 138.6H752.1V141.8H748.9zM740.1 135.8H746.3V138.9H740.1zM737.2 133.0H743.3V136.1H737.2z"/>
<path fill="#730000" d="M883.7 337.5H886.9V340.7H883.7zM810.4 323.3H813.6V326.5H810.4zM927.6 323.3H933.8V326.5H927.6zM810.4 320.5H813.6V323.6H810.4zM819.2 320.5H822.4V323.6H819.2zM924.7 320.5H927.9V323.6H924.7zM930.6 320.5H936.7V323.6H930.6zM807.5 317.6H810.7V320.8H807.5zM813.4 317.6H816.6V320.8H813.4zM869.0 317.6H875.2V320.8H869.0zM880.7 317.6H884.0V320.8H880.7zM807.5 314.8H810.7V317.9H807.5zM877.8 314.8H881.0V317.9H877.8zM921.8 314.8H925.0V317.9H921.8zM807.5 312.0H810.7V315.1H807.5zM819.2 312.0H825.4V315.1H819.2zM869.0 312.0H872.2V315.1H869.0zM921.8 312.0H925.0V315.1H921.8zM807.5 309.1H810.7V312.3H807.5zM822.1 309.1H828.3V312.3H822.1zM866.1 309.1H869.3V312.3H866.1zM936.4 309.1H939.6V312.3H936.4zM807.5 306.3H810.7V309.4H807.5zM825.1 306.3H828.3V309.4H825.1zM866.1 306.3H869.3V309.4H866.1zM936.4 306.3H939.6V309.4H936.4zM825.1 303.4H828.3V306.6H825.1zM866.1 303.4H869.3V306.6H866.1zM936.4 303.4H939.6V306.6H936.4zM866.1 300.6H869.3V303.7H866.1zM936.4 300.6H939.6V303.7H936.4zM822.1 297.7H828.3V300.9H822.1zM866.1 297.7H869.3V300.9H866.1zM866.1 294.9H869.3V298.0H866.1zM936.4 294.9H939.6V298.0H936.4zM866.1 292.1H869.3V295.2H866.1zM825.1 289.2H828.3V292.4H825.1zM866.1 289.2H869.3V292.4H866.1zM936.4 289.2H939.6V292.4H936.4zM866.1 286.4H869.3V289.5H866.1zM936.4 286.4H939.6V289.5H936.4zM825.1 283.5H828.3V286.7H825.1zM866.1 283.5H869.3V286.7H866.1zM807.5 280.7H810.7V283.8H807.5zM825.1 280.7H828.3V283.8H825.1zM866.1 280.7H869.3V283.8H866.1zM936.4 280.7H939.6V283.8H936.4zM825.1 277.9H828.3V281.0H825.1zM936.4 277.9H939.6V281.0H936.4zM807.5 275.0H810.7V278.2H807.5zM825.1 275.0H828.3V278.2H825.1zM880.7 275.0H884.0V278.2H880.7zM807.5 272.2H810.7V275.3H807.5zM822.1 272.2H825.4V275.3H822.1zM866.1 272.2H869.3V275.3H866.1zM936.4 272.2H939.6V275.3H936.4zM936.4 269.3H939.6V272.5H936.4zM807.5 266.5H810.7V269.6H807.5zM936.4 266.5H939.6V269.6H936.4zM807.5 263.6H810.7V266.8H807.5zM869.0 263.6H872.2V266.8H869.0zM880.7 263.6H884.0V266.8H880.7zM807.5 260.8H810.7V263.9H807.5zM936.4 255.1H939.6V258.3H936.4zM825.1 252.3H828.3V255.4H825.1zM936.4 252.3H939.6V255.4H936.4zM825.1 249.4H828.3V252.6H825.1zM866.1 249.4H869.3V252.6H866.1zM825.1 246.6H828.3V249.7H825.1zM866.1 246.6H869.3V249.7H866.1zM936.4 246.6H939.6V249.7H936.4zM866.1 243.8H869.3V246.9H866.1zM918.8 243.8H922.1V246.9H918.8zM804.6 240.9H807.8V244.1H804.6zM825.1 240.9H828.3V244.1H825.1zM866.1 240.9H869.3V244.1H866.1zM918.8 240.9H922.1V244.1H918.8zM936.4 240.9H939.6V244.1H936.4zM804.6 238.1H807.8V241.2H804.6zM825.1 238.1H828.3V241.2H825.1zM866.1 238.1H869.3V241.2H866.1zM918.8 238.1H922.1V241.2H918.8zM825.1 235.2H828.3V238.4H825.1zM918.8 235.2H922.1V238.4H918.8zM936.4 235.2H942.6V238.4H936.4zM804.6 232.4H807.8V235.5H804.6zM825.1 232.4H828.3V235.5H825.1zM918.8 232.4H922.1V235.5H918.8zM939.3 232.4H942.6V235.5H939.3zM804.6 229.6H807.8V232.7H804.6zM828.0 229.6H831.2V232.7H828.0zM918.8 229.6H922.1V232.7H918.8zM939.3 229.6H942.6V232.7H939.3zM828.0 226.7H831.2V229.9H828.0zM863.2 226.7H866.4V229.9H863.2zM939.3 226.7H942.6V229.9H939.3zM801.6 223.9H804.9V227.0H801.6zM828.0 223.9H831.2V227.0H828.0zM863.2 223.9H866.4V227.0H863.2zM892.5 223.9H898.6V227.0H892.5zM939.3 223.9H945.5V227.0H939.3zM977.4 223.9H980.7V227.0H977.4zM828.0 221.0H831.2V224.2H828.0zM863.2 221.0H866.4V224.2H863.2zM889.5 221.0H895.7V224.2H889.5zM939.3 221.0H945.5V224.2H939.3zM974.5 221.0H980.7V224.2H974.5zM801.6 218.2H804.9V221.3H801.6zM830.9 218.2H834.2V221.3H830.9zM886.6 218.2H898.6V221.3H886.6zM939.3 218.2H942.6V221.3H939.3zM945.2 218.2H951.4V221.3H945.2zM989.2 218.2H992.4V221.3H989.2zM769.4 215.3H775.6V218.5H769.4zM830.9 215.3H834.2V218.5H830.9zM886.6 215.3H898.6V218.5H886.6zM910.0 215.3H916.2V218.5H910.0zM942.3 215.3H945.5V218.5H942.3zM948.1 215.3H951.4V218.5H948.1zM977.4 215.3H980.7V218.5H977.4zM986.2 215.3H989.5V218.5H986.2zM769.4 212.5H772.6V215.6H769.4zM775.3 212.5H778.5V215.6H775.3zM860.2 212.5H863.5V215.6H860.2zM895.4 212.5H898.6V215.6H895.4zM907.1 212.5H913.3V215.6H907.1zM915.9 212.5H919.1V215.6H915.9zM942.3 212.5H951.4V215.6H942.3zM980.4 212.5H983.6V215.6H980.4zM986.2 212.5H995.3V215.6H986.2zM769.4 209.7H778.5V212.8H769.4zM833.9 209.7H845.9V212.8H833.9zM907.1 209.7H910.3V212.8H907.1zM913.0 209.7H919.1V212.8H913.0zM945.2 209.7H948.4V212.8H945.2zM951.1 209.7H954.3V212.8H951.1zM974.5 209.7H977.7V212.8H974.5zM983.3 209.7H986.5V212.8H983.3zM754.8 206.8H758.0V210.0H754.8zM766.5 206.8H772.6V210.0H766.5zM775.3 206.8H781.4V210.0H775.3zM798.7 206.8H801.9V210.0H798.7zM833.9 206.8H840.0V210.0H833.9zM842.7 206.8H845.9V210.0H842.7zM848.5 206.8H857.6V210.0H848.5zM860.2 206.8H863.5V210.0H860.2zM886.6 206.8H889.8V210.0H886.6zM907.1 206.8H910.3V210.0H907.1zM959.9 206.8H963.1V210.0H959.9zM983.3 206.8H986.5V210.0H983.3zM992.1 206.8H995.3V210.0H992.1zM754.8 204.0H758.0V207.1H754.8zM766.5 204.0H769.7V207.1H766.5zM772.3 204.0H775.6V207.1H772.3zM836.8 204.0H840.0V207.1H836.8zM845.6 204.0H854.7V207.1H845.6zM860.2 204.0H863.5V207.1H860.2zM898.3 204.0H901.5V207.1H898.3zM954.0 204.0H957.2V207.1H954.0zM959.9 204.0H963.1V207.1H959.9zM971.6 204.0H974.8V207.1H971.6zM983.3 204.0H986.5V207.1H983.3zM754.8 201.1H760.9V204.3H754.8zM766.5 201.1H769.7V204.3H766.5zM778.2 201.1H781.4V204.3H778.2zM836.8 201.1H840.0V204.3H836.8zM845.6 201.1H851.7V204.3H845.6zM854.4 201.1H860.5V204.3H854.4zM904.2 201.1H907.4V204.3H904.2zM951.1 201.1H963.1V204.3H951.1zM971.6 201.1H974.8V204.3H971.6zM766.5 198.3H769.7V201.4H766.5zM781.1 198.3H784.4V201.4H781.1zM795.8 198.3H799.0V201.4H795.8zM842.7 198.3H845.9V201.4H842.7zM854.4 198.3H857.6V201.4H854.4zM901.2 198.3H907.4V201.4H901.2zM954.0 198.3H957.2V201.4H954.0zM971.6 198.3H974.8V201.4H971.6zM778.2 195.5H781.4V198.6H778.2zM784.1 195.5H790.2V198.6H784.1zM795.8 195.5H799.0V198.6H795.8zM854.4 195.5H857.6V198.6H854.4zM901.2 195.5H907.4V198.6H901.2zM956.9 195.5H960.2V198.6H956.9zM962.8 195.5H966.0V198.6H962.8zM971.6 195.5H974.8V198.6H971.6zM766.5 192.6H769.7V195.8H766.5zM778.2 192.6H790.2V195.8H778.2zM792.8 192.6H796.1V195.8H792.8zM901.2 192.6H904.5V195.8H901.2zM971.6 192.6H974.8V195.8H971.6zM983.3 192.6H986.5V195.8H983.3zM766.5 189.8H769.7V192.9H766.5zM784.1 189.8H796.1V192.9H784.1zM962.8 189.8H966.0V192.9H962.8zM980.4 189.8H986.5V192.9H980.4zM766.5 186.9H769.7V190.1H766.5zM781.1 186.9H796.1V190.1H781.1zM971.6 186.9H974.8V190.1H971.6zM980.4 186.9H986.5V190.1H980.4zM781.1 184.1H787.3V187.2H781.1zM789.9 184.1H793.1V187.2H789.9zM971.6 184.1H974.8V187.2H971.6zM980.4 184.1H983.6V187.2H980.4zM766.5 181.3H769.7V184.4H766.5zM787.0 181.3H790.2V184.4H787.0zM962.8 181.3H966.0V184.4H962.8zM980.4 181.3H983.6V184.4H980.4zM769.4 178.4H772.6V181.6H769.4zM778.2 178.4H781.4V181.6H778.2zM787.0 178.4H790.2V181.6H787.0zM962.8 178.4H966.0V181.6H962.8zM769.4 175.6H772.6V178.7H769.4zM781.1 175.6H784.4V178.7H781.1zM787.0 175.6H790.2V178.7H787.0zM962.8 175.6H966.0V178.7H962.8zM974.5 175.6H980.7V178.7H974.5zM769.4 172.7H772.6V175.9H769.4zM778.2 172.7H784.4V175.9H778.2zM974.5 172.7H980.7V175.9H974.5zM769.4 169.9H778.5V173.0H769.4zM974.5 169.9H980.7V173.0H974.5zM769.4 167.0H775.6V170.2H769.4zM962.8 167.0H966.0V170.2H962.8zM974.5 167.0H977.7V170.2H974.5zM769.4 164.2H772.6V167.3H769.4zM971.6 164.2H980.7V167.3H971.6zM769.4 161.4H772.6V164.5H769.4zM965.7 161.4H980.7V164.5H965.7zM766.5 158.5H769.7V161.7H766.5zM965.7 158.5H971.9V161.7H965.7zM763.5 152.8H766.8V156.0H763.5zM757.7 150.0H763.8V153.1H757.7zM751.8 144.3H755.0V147.5H751.8zM748.9 141.5H752.1V144.6H748.9zM740.1 138.6H749.2V141.8H740.1zM737.2 135.8H740.4V138.9H737.2z"/>
<path fill="#7c0000" d="M883.7 340.4H886.9V343.5H883.7zM810.4 326.2H813.6V329.3H810.4zM924.7 326.2H927.9V329.3H924.7zM930.6 326.2H933.8V329.3H930.6zM816.3 323.3H819.5V326.5H816.3zM874.9 323.3H878.1V326.5H874.9zM924.7 323.3H927.9V326.5H924.7zM933.5 323.3H936.7V326.5H933.5zM816.3 320.5H819.5V323.6H816.3zM869.0 320.5H872.2V323.6H869.0zM880.7 320.5H884.0V323.6H880.7zM921.8 320.5H925.0V323.6H921.8zM918.8 317.6H922.1V320.8H918.8zM822.1 314.8H828.3V317.9H822.1zM866.1 314.8H869.3V317.9H866.1zM936.4 314.8H939.6V317.9H936.4zM825.1 312.0H828.3V315.1H825.1zM866.1 312.0H869.3V315.1H866.1zM918.8 312.0H922.1V315.1H918.8zM936.4 312.0H939.6V315.1H936.4zM804.6 309.1H807.8V312.3H804.6zM804.6 306.3H807.8V309.4H804.6zM918.8 306.3H922.1V309.4H918.8zM918.8 303.4H922.1V306.6H918.8zM825.1 300.6H828.3V303.7H825.1zM918.8 300.6H922.1V303.7H918.8zM804.6 297.7H807.8V300.9H804.6zM918.8 297.7H922.1V300.9H918.8zM804.6 294.9H807.8V298.0H804.6zM825.1 294.9H828.3V298.0H825.1zM918.8 294.9H922.1V298.0H918.8zM804.6 292.1H807.8V295.2H804.6zM828.0 292.1H831.2V295.2H828.0zM918.8 292.1H922.1V295.2H918.8zM804.6 289.2H807.8V292.4H804.6zM828.0 289.2H831.2V292.4H828.0zM918.8 289.2H922.1V292.4H918.8zM804.6 286.4H807.8V289.5H804.6zM825.1 286.4H828.3V289.5H825.1zM918.8 286.4H922.1V289.5H918.8zM804.6 283.5H807.8V286.7H804.6zM918.8 283.5H922.1V286.7H918.8zM918.8 280.7H922.1V283.8H918.8zM804.6 277.9H807.8V281.0H804.6zM866.1 277.9H869.3V281.0H866.1zM804.6 275.0H807.8V278.2H804.6zM866.1 275.0H869.3V278.2H866.1zM918.8 275.0H922.1V278.2H918.8zM936.4 275.0H939.6V278.2H936.4zM825.1 272.2H828.3V275.3H825.1zM825.1 269.3H828.3V272.5H825.1zM866.1 269.3H869.3V272.5H866.1zM918.8 269.3H922.1V272.5H918.8zM804.6 266.5H807.8V269.6H804.6zM866.1 266.5H869.3V269.6H866.1zM825.1 263.6H828.3V266.8H825.1zM866.1 263.6H869.3V266.8H866.1zM936.4 263.6H939.6V266.8H936.4zM825.1 260.8H828.3V263.9H825.1zM866.1 260.8H869.3V263.9H866.1zM936.4 260.8H939.6V263.9H936.4zM825.1 258.0H828.3V261.1H825.1zM866.1 258.0H869.3V261.1H866.1zM936.4 258.0H939.6V261.1H936.4zM866.1 255.1H869.3V258.3H866.1zM918.8 255.1H922.1V258.3H918.8zM866.1 252.3H869.3V255.4H866.1zM804.6 249.4H807.8V252.6H804.6zM918.8 249.4H922.1V252.6H918.8zM936.4 249.4H939.6V252.6H936.4zM804.6 243.8H807.8V246.9H804.6zM825.1 243.8H828.3V246.9H825.1zM936.4 243.8H939.6V246.9H936.4zM828.0 238.1H831.2V241.2H828.0zM863.2 238.1H866.4V241.2H863.2zM801.6 235.2H807.8V238.4H801.6zM828.0 235.2H831.2V238.4H828.0zM863.2 235.2H866.4V238.4H863.2zM828.0 232.4H831.2V235.5H828.0zM863.2 232.4H866.4V235.5H863.2zM892.5 232.4H895.7V235.5H892.5zM942.3 232.4H945.5V235.5H942.3zM977.4 232.4H980.7V235.5H977.4zM801.6 229.6H804.9V232.7H801.6zM830.9 229.6H834.2V232.7H830.9zM863.2 229.6H866.4V232.7H863.2zM892.5 229.6H898.6V232.7H892.5zM974.5 229.6H980.7V232.7H974.5zM989.2 229.6H992.4V232.7H989.2zM772.3 226.7H775.6V229.9H772.3zM801.6 226.7H804.9V229.9H801.6zM830.9 226.7H834.2V229.9H830.9zM886.6 226.7H895.7V229.9H886.6zM910.0 226.7H913.3V229.9H910.0zM942.3 226.7H945.5V229.9H942.3zM974.5 226.7H980.7V229.9H974.5zM830.9 223.9H834.2V227.0H830.9zM889.5 223.9H892.8V227.0H889.5zM945.2 223.9H951.4V227.0H945.2zM974.5 223.9H977.7V227.0H974.5zM989.2 223.9H992.4V227.0H989.2zM772.3 221.0H778.5V224.2H772.3zM801.6 221.0H804.9V224.2H801.6zM830.9 221.0H837.1V224.2H830.9zM860.2 221.0H863.5V224.2H860.2zM886.6 221.0H889.8V224.2H886.6zM895.4 221.0H898.6V224.2H895.4zM907.1 221.0H913.3V224.2H907.1zM945.2 221.0H951.4V224.2H945.2zM986.2 221.0H992.4V224.2H986.2zM769.4 218.2H778.5V221.3H769.4zM833.9 218.2H840.0V221.3H833.9zM860.2 218.2H863.5V221.3H860.2zM907.1 218.2H919.1V221.3H907.1zM942.3 218.2H945.5V221.3H942.3zM959.9 218.2H963.1V221.3H959.9zM980.4 218.2H983.6V221.3H980.4zM986.2 218.2H989.5V221.3H986.2zM992.1 218.2H995.3V221.3H992.1zM766.5 215.3H769.7V218.5H766.5zM775.3 215.3H778.5V218.5H775.3zM798.7 215.3H801.9V218.5H798.7zM833.9 215.3H840.0V218.5H833.9zM848.5 215.3H851.7V218.5H848.5zM898.3 215.3H901.5V218.5H898.3zM907.1 215.3H910.3V218.5H907.1zM915.9 215.3H919.1V218.5H915.9zM980.4 215.3H983.6V218.5H980.4zM992.1 215.3H995.3V218.5H992.1zM757.7 212.5H763.8V215.6H757.7zM766.5 212.5H769.7V215.6H766.5zM772.3 212.5H775.6V215.6H772.3zM778.2 212.5H781.4V215.6H778.2zM833.9 212.5H845.9V215.6H833.9zM854.4 212.5H857.6V215.6H854.4zM898.3 212.5H901.5V215.6H898.3zM913.0 212.5H916.2V215.6H913.0zM951.1 212.5H954.3V215.6H951.1zM956.9 212.5H960.2V215.6H956.9zM983.3 212.5H986.5V215.6H983.3zM754.8 209.7H760.9V212.8H754.8zM763.5 209.7H769.7V212.8H763.5zM778.2 209.7H781.4V212.8H778.2zM798.7 209.7H801.9V212.8H798.7zM845.6 209.7H854.7V212.8H845.6zM860.2 209.7H863.5V212.8H860.2zM898.3 209.7H901.5V212.8H898.3zM956.9 209.7H963.1V212.8H956.9zM971.6 209.7H974.8V212.8H971.6zM751.8 206.8H755.0V210.0H751.8zM757.7 206.8H763.8V210.0H757.7zM781.1 206.8H787.3V210.0H781.1zM792.8 206.8H799.0V210.0H792.8zM845.6 206.8H848.8V210.0H845.6zM857.3 206.8H860.5V210.0H857.3zM898.3 206.8H901.5V210.0H898.3zM904.2 206.8H907.4V210.0H904.2zM951.1 206.8H960.2V210.0H951.1zM971.6 206.8H974.8V210.0H971.6zM760.6 204.0H766.8V207.1H760.6zM778.2 204.0H784.4V207.1H778.2zM795.8 204.0H799.0V207.1H795.8zM854.4 204.0H860.5V207.1H854.4zM901.2 204.0H907.4V207.1H901.2zM962.8 204.0H966.0V207.1H962.8zM760.6 201.1H766.8V204.3H760.6zM781.1 201.1H790.2V204.3H781.1zM795.8 201.1H799.0V204.3H795.8zM901.2 201.1H904.5V204.3H901.2zM962.8 201.1H966.0V204.3H962.8zM754.8 198.3H766.8V201.4H754.8zM784.1 198.3H787.3V201.4H784.1zM789.9 198.3H796.1V201.4H789.9zM962.8 198.3H966.0V201.4H962.8zM968.6 198.3H971.9V201.4H968.6zM754.8 195.5H766.8V198.6H754.8zM789.9 195.5H796.1V198.6H789.9zM968.6 195.5H971.9V198.6H968.6zM757.7 192.6H766.8V195.8H757.7zM789.9 192.6H793.1V195.8H789.9zM962.8 192.6H971.9V195.8H962.8zM757.7 189.8H763.8V192.9H757.7zM965.7 189.8H971.9V192.9H965.7zM760.6 186.9H766.8V190.1H760.6zM965.7 186.9H971.9V190.1H965.7zM766.5 184.1H769.7V187.2H766.5zM962.8 184.1H968.9V187.2H962.8zM983.3 184.1H986.5V187.2H983.3zM769.4 181.3H772.6V184.4H769.4zM965.7 181.3H968.9V184.4H965.7zM971.6 181.3H974.8V184.4H971.6zM986.2 181.3H989.5V184.4H986.2zM968.6 178.4H974.8V181.6H968.6zM980.4 178.4H983.6V181.6H980.4zM766.5 175.6H769.7V178.7H766.5zM971.6 175.6H974.8V178.7H971.6zM965.7 172.7H968.9V175.9H965.7zM965.7 169.9H974.8V173.0H965.7zM971.6 167.0H974.8V170.2H971.6zM977.4 167.0H980.7V170.2H977.4zM766.5 164.2H769.7V167.3H766.5zM965.7 164.2H968.9V167.3H965.7zM980.4 164.2H983.6V167.3H980.4zM766.5 161.4H769.7V164.5H766.5zM980.4 161.4H983.6V164.5H980.4zM980.4 158.5H983.6V161.7H980.4zM763.5 155.7H766.8V158.8H763.5zM757.7 152.8H760.9V156.0H757.7zM754.8 150.0H758.0V153.1H754.8zM751.8 147.2H755.0V150.3H751.8zM748.9 144.3H752.1V147.5H748.9zM737.2 141.5H740.4V144.6H737.2zM734.2 138.6H740.4V141.8H734.2z"/>
<path fill="#840000" d="M883.7 343.2H886.9V346.3H883.7zM933.5 326.2H936.7V329.3H933.5zM807.5 323.3H810.7V326.5H807.5zM819.2 323.3H822.4V326.5H819.2zM869.0 323.3H875.2V326.5H869.0zM880.7 323.3H884.0V326.5H880.7zM921.8 323.3H925.0V326.5H921.8zM807.5 320.5H810.7V323.6H807.5zM813.4 320.5H816.6V323.6H813.4zM825.1 320.5H828.3V323.6H825.1zM866.1 320.5H869.3V323.6H866.1zM936.4 320.5H939.6V323.6H936.4zM804.6 317.6H807.8V320.8H804.6zM822.1 317.6H828.3V320.8H822.1zM866.1 317.6H869.3V320.8H866.1zM877.8 317.6H881.0V320.8H877.8zM936.4 317.6H939.6V320.8H936.4zM804.6 314.8H807.8V317.9H804.6zM863.2 314.8H866.4V317.9H863.2zM918.8 314.8H922.1V317.9H918.8zM804.6 312.0H807.8V315.1H804.6zM863.2 312.0H866.4V315.1H863.2zM828.0 309.1H831.2V312.3H828.0zM918.8 309.1H922.1V312.3H918.8zM828.0 306.3H831.2V309.4H828.0zM863.2 306.3H866.4V309.4H863.2zM939.3 306.3H942.6V309.4H939.3zM804.6 303.4H807.8V306.6H804.6zM863.2 303.4H866.4V306.6H863.2zM939.3 303.4H942.6V306.6H939.3zM804.6 300.6H807.8V303.7H804.6zM863.2 300.6H866.4V303.7H863.2zM939.3 300.6H942.6V303.7H939.3zM801.6 297.7H804.9V300.9H801.6zM828.0 297.7H831.2V300.9H828.0zM863.2 297.7H866.4V300.9H863.2zM939.3 297.7H942.6V300.9H939.3zM828.0 294.9H831.2V298.0H828.0zM863.2 294.9H866.4V298.0H863.2zM939.3 294.9H942.6V298.0H939.3zM863.2 292.1H866.4V295.2H863.2zM939.3 292.1H942.6V295.2H939.3zM863.2 289.2H866.4V292.4H863.2zM939.3 289.2H942.6V292.4H939.3zM828.0 286.4H831.2V289.5H828.0zM863.2 286.4H866.4V289.5H863.2zM939.3 286.4H942.6V289.5H939.3zM863.2 283.5H866.4V286.7H863.2zM939.3 283.5H942.6V286.7H939.3zM804.6 280.7H807.8V283.8H804.6zM863.2 280.7H866.4V283.8H863.2zM918.8 277.9H922.1V281.0H918.8zM804.6 272.2H807.8V275.3H804.6zM828.0 272.2H831.2V275.3H828.0zM918.8 272.2H922.1V275.3H918.8zM804.6 269.3H807.8V272.5H804.6zM863.2 269.3H866.4V272.5H863.2zM825.1 266.5H828.3V269.6H825.1zM918.8 266.5H922.1V269.6H918.8zM804.6 263.6H807.8V266.8H804.6zM918.8 263.6H922.1V266.8H918.8zM804.6 260.8H807.8V263.9H804.6zM918.8 260.8H922.1V263.9H918.8zM804.6 258.0H807.8V261.1H804.6zM918.8 258.0H922.1V261.1H918.8zM804.6 255.1H807.8V258.3H804.6zM825.1 255.1H831.2V258.3H825.1zM804.6 252.3H807.8V255.4H804.6zM828.0 252.3H831.2V255.4H828.0zM863.2 252.3H866.4V255.4H863.2zM918.8 252.3H922.1V255.4H918.8zM828.0 249.4H831.2V252.6H828.0zM863.2 249.4H866.4V252.6H863.2zM939.3 249.4H942.6V252.6H939.3zM804.6 246.6H807.8V249.7H804.6zM863.2 246.6H866.4V249.7H863.2zM918.8 246.6H922.1V249.7H918.8zM942.3 246.6H945.5V249.7H942.3zM828.0 243.8H831.2V246.9H828.0zM863.2 243.8H866.4V246.9H863.2zM939.3 243.8H942.6V246.9H939.3zM801.6 240.9H804.9V244.1H801.6zM828.0 240.9H831.2V244.1H828.0zM863.2 240.9H866.4V244.1H863.2zM939.3 240.9H942.6V244.1H939.3zM801.6 238.1H804.9V241.2H801.6zM939.3 238.1H942.6V241.2H939.3zM830.9 235.2H834.2V238.4H830.9zM886.6 235.2H895.7V238.4H886.6zM974.5 235.2H980.7V238.4H974.5zM801.6 232.4H804.9V235.5H801.6zM830.9 232.4H834.2V235.5H830.9zM886.6 232.4H892.8V235.5H886.6zM895.4 232.4H898.6V235.5H895.4zM910.0 232.4H913.3V235.5H910.0zM945.2 232.4H951.4V235.5H945.2zM974.5 232.4H977.7V235.5H974.5zM772.3 229.6H778.5V232.7H772.3zM886.6 229.6H892.8V232.7H886.6zM907.1 229.6H913.3V232.7H907.1zM942.3 229.6H951.4V232.7H942.3zM986.2 229.6H989.5V232.7H986.2zM992.1 229.6H995.3V232.7H992.1zM775.3 226.7H778.5V229.9H775.3zM895.4 226.7H898.6V229.9H895.4zM907.1 226.7H910.3V229.9H907.1zM913.0 226.7H919.1V229.9H913.0zM945.2 226.7H951.4V229.9H945.2zM980.4 226.7H983.6V229.9H980.4zM986.2 226.7H995.3V229.9H986.2zM766.5 223.9H778.5V227.0H766.5zM842.7 223.9H845.9V227.0H842.7zM886.6 223.9H889.8V227.0H886.6zM907.1 223.9H919.1V227.0H907.1zM951.1 223.9H954.3V227.0H951.1zM983.3 223.9H989.5V227.0H983.3zM992.1 223.9H995.3V227.0H992.1zM754.8 221.0H758.0V224.2H754.8zM766.5 221.0H772.6V224.2H766.5zM839.7 221.0H843.0V224.2H839.7zM898.3 221.0H901.5V224.2H898.3zM913.0 221.0H919.1V224.2H913.0zM980.4 221.0H983.6V224.2H980.4zM992.1 221.0H998.2V224.2H992.1zM778.2 218.2H781.4V221.3H778.2zM839.7 218.2H845.9V221.3H839.7zM898.3 218.2H901.5V221.3H898.3zM951.1 218.2H954.3V221.3H951.1zM956.9 218.2H960.2V221.3H956.9zM983.3 218.2H986.5V221.3H983.3zM751.8 215.3H760.9V218.5H751.8zM778.2 215.3H781.4V218.5H778.2zM839.7 215.3H848.8V218.5H839.7zM851.4 215.3H863.5V218.5H851.4zM904.2 215.3H907.4V218.5H904.2zM951.1 215.3H957.2V218.5H951.1zM959.9 215.3H963.1V218.5H959.9zM971.6 215.3H974.8V218.5H971.6zM983.3 215.3H986.5V218.5H983.3zM754.8 212.5H758.0V215.6H754.8zM763.5 212.5H766.8V215.6H763.5zM781.1 212.5H784.4V215.6H781.1zM795.8 212.5H801.9V215.6H795.8zM845.6 212.5H854.7V215.6H845.6zM857.3 212.5H860.5V215.6H857.3zM904.2 212.5H907.4V215.6H904.2zM959.9 212.5H963.1V215.6H959.9zM971.6 212.5H974.8V215.6H971.6zM751.8 209.7H755.0V212.8H751.8zM781.1 209.7H787.3V212.8H781.1zM795.8 209.7H799.0V212.8H795.8zM854.4 209.7H860.5V212.8H854.4zM901.2 209.7H907.4V212.8H901.2zM954.0 209.7H957.2V212.8H954.0zM962.8 209.7H966.0V212.8H962.8zM763.5 206.8H766.8V210.0H763.5zM789.9 206.8H793.1V210.0H789.9zM901.2 206.8H904.5V210.0H901.2zM962.8 206.8H966.0V210.0H962.8zM751.8 204.0H755.0V207.1H751.8zM757.7 204.0H760.9V207.1H757.7zM784.1 204.0H796.1V207.1H784.1zM968.6 204.0H971.9V207.1H968.6zM751.8 201.1H755.0V204.3H751.8zM789.9 201.1H796.1V204.3H789.9zM968.6 201.1H971.9V204.3H968.6zM751.8 198.3H755.0V201.4H751.8zM787.0 198.3H790.2V201.4H787.0zM965.7 198.3H968.9V201.4H965.7zM965.7 195.5H968.9V198.6H965.7zM754.8 192.6H758.0V195.8H754.8zM751.8 189.8H758.0V192.9H751.8zM763.5 189.8H766.8V192.9H763.5zM754.8 186.9H760.9V190.1H754.8zM757.7 184.1H766.8V187.2H757.7zM968.6 184.1H971.9V187.2H968.6zM763.5 181.3H766.8V184.4H763.5zM968.6 181.3H971.9V184.4H968.6zM983.3 181.3H986.5V184.4H983.3zM766.5 178.4H769.7V181.6H766.5zM965.7 178.4H968.9V181.6H965.7zM983.3 178.4H986.5V181.6H983.3zM965.7 175.6H971.9V178.7H965.7zM980.4 175.6H983.6V178.7H980.4zM766.5 172.7H769.7V175.9H766.5zM968.6 172.7H974.8V175.9H968.6zM983.3 172.7H986.5V175.9H983.3zM766.5 169.9H769.7V173.0H766.5zM980.4 169.9H983.6V173.0H980.4zM766.5 167.0H769.7V170.2H766.5zM965.7 167.0H971.9V170.2H965.7zM980.4 167.0H983.6V170.2H980.4zM968.6 164.2H971.9V167.3H968.6zM763.5 161.4H766.8V164.5H763.5zM760.6 158.5H766.8V161.7H760.6zM760.6 155.7H763.8V158.8H760.6zM760.6 152.8H763.8V156.0H760.6zM751.8 150.0H755.0V153.1H751.8zM748.9 147.2H752.1V150.3H748.9zM734.2 144.3H737.5V147.5H734.2zM746.0 144.3H749.2V147.5H746.0zM734.2 141.5H737.5V144.6H734.2zM740.1 141.5H749.2V144.6H740.1z"/>
<path fill="#8c0000" d="M883.7 346.0H886.9V349.2H883.7zM810.4 329.0H813.6V332.1H810.4zM924.7 329.0H933.8V332.1H924.7zM807.5 326.2H810.7V329.3H807.5zM816.3 326.2H822.4V329.3H816.3zM825.1 326.2H828.3V329.3H825.1zM874.9 326.2H878.1V329.3H874.9zM880.7 326.2H884.0V329.3H880.7zM921.8 326.2H925.0V329.3H921.8zM927.6 326.2H930.9V329.3H927.6zM936.4 326.2H939.6V329.3H936.4zM813.4 323.3H816.6V326.5H813.4zM825.1 323.3H828.3V326.5H825.1zM866.1 323.3H869.3V326.5H866.1zM936.4 323.3H939.6V326.5H936.4zM804.6 320.5H807.8V323.6H804.6zM822.1 320.5H825.4V323.6H822.1zM828.0 320.5H831.2V323.6H828.0zM877.8 320.5H881.0V323.6H877.8zM918.8 320.5H922.1V323.6H918.8zM828.0 317.6H831.2V320.8H828.0zM863.2 317.6H866.4V320.8H863.2zM828.0 314.8H831.2V317.9H828.0zM939.3 314.8H942.6V317.9H939.3zM828.0 312.0H831.2V315.1H828.0zM939.3 312.0H942.6V315.1H939.3zM830.9 309.1H834.2V312.3H830.9zM863.2 309.1H866.4V312.3H863.2zM828.0 303.4H834.2V306.6H828.0zM942.3 303.4H945.5V306.6H942.3zM828.0 300.6H831.2V303.7H828.0zM886.6 300.6H889.8V303.7H886.6zM942.3 300.6H945.5V303.7H942.3zM915.9 297.7H919.1V300.9H915.9zM801.6 294.9H804.9V298.0H801.6zM886.6 294.9H889.8V298.0H886.6zM915.9 294.9H919.1V298.0H915.9zM886.6 292.1H889.8V295.2H886.6zM942.3 292.1H945.5V295.2H942.3zM801.6 289.2H804.9V292.4H801.6zM886.6 289.2H889.8V292.4H886.6zM942.3 289.2H945.5V292.4H942.3zM801.6 286.4H804.9V289.5H801.6zM942.3 286.4H945.5V289.5H942.3zM828.0 283.5H831.2V286.7H828.0zM801.6 280.7H804.9V283.8H801.6zM828.0 280.7H831.2V283.8H828.0zM939.3 280.7H942.6V283.8H939.3zM801.6 277.9H804.9V281.0H801.6zM828.0 277.9H831.2V281.0H828.0zM863.2 277.9H866.4V281.0H863.2zM939.3 277.9H945.5V281.0H939.3zM801.6 275.0H804.9V278.2H801.6zM828.0 275.0H831.2V278.2H828.0zM863.2 275.0H866.4V278.2H863.2zM939.3 275.0H942.6V278.2H939.3zM801.6 272.2H804.9V275.3H801.6zM863.2 272.2H866.4V275.3H863.2zM939.3 272.2H942.6V275.3H939.3zM828.0 269.3H834.2V272.5H828.0zM939.3 269.3H942.6V272.5H939.3zM863.2 266.5H866.4V269.6H863.2zM939.3 266.5H942.6V269.6H939.3zM828.0 263.6H831.2V266.8H828.0zM863.2 263.6H866.4V266.8H863.2zM939.3 263.6H942.6V266.8H939.3zM828.0 260.8H831.2V263.9H828.0zM863.2 260.8H866.4V263.9H863.2zM863.2 258.0H866.4V261.1H863.2zM939.3 258.0H942.6V261.1H939.3zM863.2 255.1H866.4V258.3H863.2zM939.3 255.1H942.6V258.3H939.3zM801.6 252.3H804.9V255.4H801.6zM892.5 252.3H895.7V255.4H892.5zM939.3 252.3H942.6V255.4H939.3zM801.6 249.4H804.9V252.6H801.6zM892.5 249.4H895.7V252.6H892.5zM989.2 249.4H992.4V252.6H989.2zM801.6 246.6H804.9V249.7H801.6zM828.0 246.6H831.2V249.7H828.0zM892.5 246.6H895.7V249.7H892.5zM939.3 246.6H942.6V249.7H939.3zM974.5 246.6H977.7V249.7H974.5zM801.6 243.8H804.9V246.9H801.6zM886.6 243.8H892.8V246.9H886.6zM895.4 243.8H898.6V246.9H895.4zM942.3 243.8H945.5V246.9H942.3zM977.4 243.8H980.7V246.9H977.4zM986.2 243.8H989.5V246.9H986.2zM772.3 240.9H775.6V244.1H772.3zM830.9 240.9H834.2V244.1H830.9zM892.5 240.9H895.7V244.1H892.5zM907.1 240.9H910.3V244.1H907.1zM974.5 240.9H980.7V244.1H974.5zM986.2 240.9H992.4V244.1H986.2zM772.3 238.1H775.6V241.2H772.3zM830.9 238.1H837.1V241.2H830.9zM886.6 238.1H898.6V241.2H886.6zM907.1 238.1H913.3V241.2H907.1zM915.9 238.1H919.1V241.2H915.9zM942.3 238.1H948.4V241.2H942.3zM974.5 238.1H980.7V241.2H974.5zM986.2 238.1H992.4V241.2H986.2zM769.4 235.2H778.5V238.4H769.4zM895.4 235.2H898.6V238.4H895.4zM910.0 235.2H919.1V238.4H910.0zM942.3 235.2H948.4V238.4H942.3zM986.2 235.2H992.4V238.4H986.2zM769.4 232.4H778.5V235.5H769.4zM833.9 232.4H837.1V235.5H833.9zM907.1 232.4H910.3V235.5H907.1zM915.9 232.4H919.1V235.5H915.9zM989.2 232.4H995.3V235.5H989.2zM754.8 229.6H758.0V232.7H754.8zM769.4 229.6H772.6V232.7H769.4zM798.7 229.6H801.9V232.7H798.7zM833.9 229.6H837.1V232.7H833.9zM839.7 229.6H848.8V232.7H839.7zM851.4 229.6H854.7V232.7H851.4zM898.3 229.6H901.5V232.7H898.3zM913.0 229.6H919.1V232.7H913.0zM951.1 229.6H954.3V232.7H951.1zM980.4 229.6H983.6V232.7H980.4zM995.0 229.6H998.2V232.7H995.0zM754.8 226.7H760.9V229.9H754.8zM766.5 226.7H772.6V229.9H766.5zM798.7 226.7H801.9V229.9H798.7zM833.9 226.7H845.9V229.9H833.9zM851.4 226.7H854.7V229.9H851.4zM860.2 226.7H863.5V229.9H860.2zM951.1 226.7H954.3V229.9H951.1zM983.3 226.7H986.5V229.9H983.3zM995.0 226.7H998.2V229.9H995.0zM751.8 223.9H760.9V227.0H751.8zM778.2 223.9H781.4V227.0H778.2zM798.7 223.9H801.9V227.0H798.7zM833.9 223.9H843.0V227.0H833.9zM845.6 223.9H848.8V227.0H845.6zM851.4 223.9H857.6V227.0H851.4zM860.2 223.9H863.5V227.0H860.2zM898.3 223.9H901.5V227.0H898.3zM956.9 223.9H963.1V227.0H956.9zM971.6 223.9H974.8V227.0H971.6zM980.4 223.9H983.6V227.0H980.4zM995.0 223.9H998.2V227.0H995.0zM751.8 221.0H755.0V224.2H751.8zM757.7 221.0H766.8V224.2H757.7zM778.2 221.0H781.4V224.2H778.2zM798.7 221.0H801.9V224.2H798.7zM836.8 221.0H840.0V224.2H836.8zM842.7 221.0H845.9V224.2H842.7zM848.5 221.0H857.6V224.2H848.5zM951.1 221.0H963.1V224.2H951.1zM971.6 221.0H974.8V224.2H971.6zM983.3 221.0H986.5V224.2H983.3zM751.8 218.2H763.8V221.3H751.8zM766.5 218.2H769.7V221.3H766.5zM781.1 218.2H787.3V221.3H781.1zM792.8 218.2H796.1V221.3H792.8zM798.7 218.2H801.9V221.3H798.7zM845.6 218.2H860.5V221.3H845.6zM954.0 218.2H957.2V221.3H954.0zM962.8 218.2H966.0V221.3H962.8zM971.6 218.2H974.8V221.3H971.6zM760.6 215.3H766.8V218.5H760.6zM784.1 215.3H787.3V218.5H784.1zM789.9 215.3H793.1V218.5H789.9zM795.8 215.3H799.0V218.5H795.8zM901.2 215.3H904.5V218.5H901.2zM956.9 215.3H960.2V218.5H956.9zM962.8 215.3H966.0V218.5H962.8zM751.8 212.5H755.0V215.6H751.8zM784.1 212.5H787.3V215.6H784.1zM792.8 212.5H796.1V215.6H792.8zM901.2 212.5H904.5V215.6H901.2zM954.0 212.5H957.2V215.6H954.0zM760.6 209.7H763.8V212.8H760.6zM787.0 209.7H796.1V212.8H787.0zM965.7 209.7H971.9V212.8H965.7zM787.0 206.8H790.2V210.0H787.0zM965.7 206.8H971.9V210.0H965.7zM748.9 204.0H752.1V207.1H748.9zM965.7 204.0H968.9V207.1H965.7zM965.7 201.1H968.9V204.3H965.7zM751.8 195.5H755.0V198.6H751.8zM751.8 192.6H755.0V195.8H751.8zM754.8 184.1H758.0V187.2H754.8zM754.8 181.3H763.8V184.4H754.8zM757.7 178.4H760.9V181.6H757.7zM763.5 178.4H766.8V181.6H763.5zM763.5 175.6H766.8V178.7H763.5zM983.3 175.6H986.5V178.7H983.3zM980.4 172.7H983.6V175.9H980.4zM763.5 169.9H766.8V173.0H763.5zM763.5 167.0H766.8V170.2H763.5zM760.6 161.4H763.8V164.5H760.6zM757.7 158.5H760.9V161.7H757.7zM754.8 155.7H760.9V158.8H754.8zM754.8 152.8H758.0V156.0H754.8zM748.9 150.0H752.1V153.1H748.9zM734.2 147.2H737.5V150.3H734.2zM740.1 144.3H746.3V147.5H740.1z"/>
<path fill="#950000" d="M883.7 348.9H886.9V352.0H883.7zM927.6 331.8H933.8V335.0H927.6zM819.2 329.0H822.4V332.1H819.2zM874.9 329.0H878.1V332.1H874.9zM921.8 329.0H925.0V332.1H921.8zM933.5 329.0H939.6V332.1H933.5zM866.1 326.2H875.2V329.3H866.1zM804.6 323.3H807.8V326.5H804.6zM918.8 323.3H922.1V326.5H918.8zM939.3 320.5H942.6V323.6H939.3zM830.9 317.6H834.2V320.8H830.9zM886.6 317.6H889.8V320.8H886.6zM939.3 317.6H942.6V320.8H939.3zM830.9 314.8H834.2V317.9H830.9zM945.2 314.8H948.4V317.9H945.2zM830.9 312.0H834.2V315.1H830.9zM886.6 312.0H889.8V315.1H886.6zM942.3 312.0H945.5V315.1H942.3zM886.6 309.1H892.8V312.3H886.6zM915.9 309.1H919.1V312.3H915.9zM939.3 309.1H948.4V312.3H939.3zM801.6 306.3H804.9V309.4H801.6zM830.9 306.3H834.2V309.4H830.9zM886.6 306.3H889.8V309.4H886.6zM915.9 306.3H919.1V309.4H915.9zM942.3 306.3H948.4V309.4H942.3zM801.6 303.4H804.9V306.6H801.6zM886.6 303.4H889.8V306.6H886.6zM915.9 303.4H919.1V306.6H915.9zM945.2 303.4H948.4V306.6H945.2zM801.6 300.6H804.9V303.7H801.6zM830.9 300.6H834.2V303.7H830.9zM889.5 300.6H892.8V303.7H889.5zM913.0 300.6H919.1V303.7H913.0zM830.9 297.7H834.2V300.9H830.9zM886.6 297.7H892.8V300.9H886.6zM913.0 297.7H916.2V300.9H913.0zM942.3 297.7H948.4V300.9H942.3zM830.9 294.9H834.2V298.0H830.9zM942.3 294.9H945.5V298.0H942.3zM801.6 292.1H804.9V295.2H801.6zM830.9 292.1H834.2V295.2H830.9zM889.5 292.1H892.8V295.2H889.5zM915.9 292.1H919.1V295.2H915.9zM830.9 289.2H834.2V292.4H830.9zM915.9 289.2H919.1V292.4H915.9zM974.5 289.2H977.7V292.4H974.5zM915.9 286.4H919.1V289.5H915.9zM801.6 283.5H804.9V286.7H801.6zM830.9 283.5H834.2V286.7H830.9zM886.6 283.5H892.8V286.7H886.6zM915.9 283.5H919.1V286.7H915.9zM942.3 283.5H945.5V286.7H942.3zM942.3 280.7H948.4V283.8H942.3zM830.9 277.9H834.2V281.0H830.9zM977.4 277.9H980.7V281.0H977.4zM886.6 275.0H889.8V278.2H886.6zM830.9 272.2H834.2V275.3H830.9zM942.3 272.2H945.5V275.3H942.3zM801.6 269.3H804.9V272.5H801.6zM828.0 266.5H834.2V269.6H828.0zM942.3 266.5H945.5V269.6H942.3zM801.6 263.6H804.9V266.8H801.6zM801.6 260.8H804.9V263.9H801.6zM830.9 260.8H834.2V263.9H830.9zM939.3 260.8H942.6V263.9H939.3zM828.0 258.0H831.2V261.1H828.0zM801.6 255.1H804.9V258.3H801.6zM830.9 255.1H834.2V258.3H830.9zM889.5 255.1H892.8V258.3H889.5zM895.4 255.1H898.6V258.3H895.4zM886.6 252.3H892.8V255.4H886.6zM945.2 252.3H948.4V255.4H945.2zM974.5 252.3H980.7V255.4H974.5zM989.2 252.3H992.4V255.4H989.2zM830.9 249.4H837.1V252.6H830.9zM886.6 249.4H892.8V252.6H886.6zM910.0 249.4H913.3V252.6H910.0zM915.9 249.4H919.1V252.6H915.9zM945.2 249.4H951.4V252.6H945.2zM974.5 249.4H980.7V252.6H974.5zM986.2 249.4H989.5V252.6H986.2zM772.3 246.6H775.6V249.7H772.3zM830.9 246.6H834.2V249.7H830.9zM886.6 246.6H892.8V249.7H886.6zM895.4 246.6H898.6V249.7H895.4zM910.0 246.6H913.3V249.7H910.0zM945.2 246.6H948.4V249.7H945.2zM977.4 246.6H980.7V249.7H977.4zM986.2 246.6H989.5V249.7H986.2zM772.3 243.8H775.6V246.9H772.3zM830.9 243.8H834.2V246.9H830.9zM892.5 243.8H895.7V246.9H892.5zM907.1 243.8H919.1V246.9H907.1zM945.2 243.8H948.4V246.9H945.2zM974.5 243.8H977.7V246.9H974.5zM989.2 243.8H992.4V246.9H989.2zM775.3 240.9H778.5V244.1H775.3zM798.7 240.9H801.9V244.1H798.7zM860.2 240.9H863.5V244.1H860.2zM886.6 240.9H892.8V244.1H886.6zM895.4 240.9H898.6V244.1H895.4zM910.0 240.9H913.3V244.1H910.0zM915.9 240.9H919.1V244.1H915.9zM942.3 240.9H951.4V244.1H942.3zM757.7 238.1H760.9V241.2H757.7zM766.5 238.1H772.6V241.2H766.5zM775.3 238.1H778.5V241.2H775.3zM798.7 238.1H801.9V241.2H798.7zM836.8 238.1H843.0V241.2H836.8zM898.3 238.1H901.5V241.2H898.3zM948.1 238.1H951.4V241.2H948.1zM983.3 238.1H986.5V241.2H983.3zM754.8 235.2H758.0V238.4H754.8zM766.5 235.2H769.7V238.4H766.5zM798.7 235.2H801.9V238.4H798.7zM833.9 235.2H840.0V238.4H833.9zM851.4 235.2H854.7V238.4H851.4zM860.2 235.2H863.5V238.4H860.2zM907.1 235.2H910.3V238.4H907.1zM948.1 235.2H951.4V238.4H948.1zM980.4 235.2H986.5V238.4H980.4zM754.8 232.4H760.9V235.5H754.8zM766.5 232.4H769.7V235.5H766.5zM778.2 232.4H781.4V235.5H778.2zM798.7 232.4H801.9V235.5H798.7zM836.8 232.4H843.0V235.5H836.8zM845.6 232.4H848.8V235.5H845.6zM851.4 232.4H854.7V235.5H851.4zM860.2 232.4H863.5V235.5H860.2zM898.3 232.4H901.5V235.5H898.3zM913.0 232.4H916.2V235.5H913.0zM951.1 232.4H954.3V235.5H951.1zM980.4 232.4H989.5V235.5H980.4zM757.7 229.6H760.9V232.7H757.7zM766.5 229.6H769.7V232.7H766.5zM778.2 229.6H781.4V232.7H778.2zM836.8 229.6H840.0V232.7H836.8zM848.5 229.6H851.7V232.7H848.5zM854.4 229.6H857.6V232.7H854.4zM860.2 229.6H863.5V232.7H860.2zM959.9 229.6H963.1V232.7H959.9zM983.3 229.6H986.5V232.7H983.3zM751.8 226.7H755.0V229.9H751.8zM760.6 226.7H766.8V229.9H760.6zM778.2 226.7H787.3V229.9H778.2zM845.6 226.7H851.7V229.9H845.6zM857.3 226.7H860.5V229.9H857.3zM898.3 226.7H901.5V229.9H898.3zM954.0 226.7H963.1V229.9H954.0zM971.6 226.7H974.8V229.9H971.6zM760.6 223.9H766.8V227.0H760.6zM781.1 223.9H787.3V227.0H781.1zM795.8 223.9H799.0V227.0H795.8zM848.5 223.9H851.7V227.0H848.5zM857.3 223.9H860.5V227.0H857.3zM904.2 223.9H907.4V227.0H904.2zM954.0 223.9H957.2V227.0H954.0zM781.1 221.0H787.3V224.2H781.1zM792.8 221.0H799.0V224.2H792.8zM845.6 221.0H848.8V224.2H845.6zM857.3 221.0H860.5V224.2H857.3zM901.2 221.0H907.4V224.2H901.2zM763.5 218.2H766.8V221.3H763.5zM795.8 218.2H799.0V221.3H795.8zM901.2 218.2H907.4V221.3H901.2zM748.9 215.3H752.1V218.5H748.9zM781.1 215.3H784.4V218.5H781.1zM787.0 215.3H790.2V218.5H787.0zM968.6 215.3H971.9V218.5H968.6zM748.9 212.5H752.1V215.6H748.9zM787.0 212.5H793.1V215.6H787.0zM962.8 212.5H971.9V215.6H962.8zM748.9 209.7H752.1V212.8H748.9zM748.9 201.1H752.1V204.3H748.9zM751.8 186.9H755.0V190.1H751.8zM751.8 184.1H755.0V187.2H751.8zM751.8 181.3H755.0V184.4H751.8zM754.8 178.4H758.0V181.6H754.8zM760.6 178.4H763.8V181.6H760.6zM757.7 175.6H763.8V178.7H757.7zM757.7 172.7H760.9V175.9H757.7zM763.5 172.7H766.8V175.9H763.5zM983.3 169.9H986.5V173.0H983.3zM757.7 167.0H763.8V170.2H757.7zM757.7 164.2H766.8V167.3H757.7zM757.7 161.4H760.9V164.5H757.7zM754.8 158.5H758.0V161.7H754.8zM751.8 152.8H755.0V156.0H751.8zM746.0 150.0H749.2V153.1H746.0zM743.0 147.2H749.2V150.3H743.0zM737.2 144.3H740.4V147.5H737.2z"/>
<path fill="#9d0000" d="M924.7 334.7H933.8V337.8H924.7zM921.8 331.8H927.9V335.0H921.8zM933.5 331.8H936.7V335.0H933.5zM807.5 329.0H810.7V332.1H807.5zM816.3 329.0H819.5V332.1H816.3zM825.1 329.0H828.3V332.1H825.1zM866.1 329.0H875.2V332.1H866.1zM880.7 329.0H884.0V332.1H880.7zM828.0 323.3H831.2V326.5H828.0zM863.2 323.3H866.4V326.5H863.2zM886.6 323.3H889.8V326.5H886.6zM863.2 320.5H866.4V323.6H863.2zM915.9 320.5H919.1V323.6H915.9zM942.3 320.5H945.5V323.6H942.3zM915.9 317.6H919.1V320.8H915.9zM942.3 317.6H948.4V320.8H942.3zM886.6 314.8H892.8V317.9H886.6zM910.0 314.8H913.3V317.9H910.0zM942.3 314.8H945.5V317.9H942.3zM801.6 312.0H804.9V315.1H801.6zM915.9 312.0H919.1V315.1H915.9zM945.2 312.0H948.4V315.1H945.2zM860.2 309.1H863.5V312.3H860.2zM892.5 309.1H895.7V312.3H892.5zM910.0 309.1H913.3V312.3H910.0zM833.9 306.3H837.1V309.4H833.9zM889.5 306.3H892.8V309.4H889.5zM910.0 306.3H916.2V309.4H910.0zM860.2 303.4H863.5V306.6H860.2zM889.5 303.4H895.7V306.6H889.5zM910.0 303.4H916.2V306.6H910.0zM974.5 303.4H977.7V306.6H974.5zM910.0 300.6H913.3V303.7H910.0zM945.2 300.6H948.4V303.7H945.2zM974.5 300.6H977.7V303.7H974.5zM892.5 297.7H895.7V300.9H892.5zM910.0 297.7H913.3V300.9H910.0zM948.1 297.7H951.4V300.9H948.1zM860.2 294.9H863.5V298.0H860.2zM889.5 294.9H895.7V298.0H889.5zM910.0 294.9H916.2V298.0H910.0zM945.2 294.9H948.4V298.0H945.2zM974.5 294.9H980.7V298.0H974.5zM860.2 292.1H863.5V295.2H860.2zM892.5 292.1H895.7V295.2H892.5zM945.2 292.1H948.4V295.2H945.2zM974.5 292.1H980.7V295.2H974.5zM772.3 289.2H775.6V292.4H772.3zM798.7 289.2H801.9V292.4H798.7zM860.2 289.2H863.5V292.4H860.2zM889.5 289.2H892.8V292.4H889.5zM910.0 289.2H913.3V292.4H910.0zM945.2 289.2H948.4V292.4H945.2zM977.4 289.2H980.7V292.4H977.4zM830.9 286.4H834.2V289.5H830.9zM860.2 286.4H863.5V289.5H860.2zM886.6 286.4H892.8V289.5H886.6zM910.0 286.4H916.2V289.5H910.0zM974.5 286.4H977.7V289.5H974.5zM860.2 283.5H863.5V286.7H860.2zM892.5 283.5H895.7V286.7H892.5zM910.0 283.5H916.2V286.7H910.0zM974.5 283.5H977.7V286.7H974.5zM830.9 280.7H834.2V283.8H830.9zM886.6 280.7H892.8V283.8H886.6zM915.9 280.7H919.1V283.8H915.9zM948.1 280.7H951.4V283.8H948.1zM974.5 280.7H980.7V283.8H974.5zM886.6 277.9H889.8V281.0H886.6zM915.9 277.9H919.1V281.0H915.9zM945.2 277.9H948.4V281.0H945.2zM974.5 277.9H977.7V281.0H974.5zM830.9 275.0H834.2V278.2H830.9zM915.9 275.0H919.1V278.2H915.9zM942.3 275.0H945.5V278.2H942.3zM974.5 275.0H977.7V278.2H974.5zM892.5 272.2H895.7V275.3H892.5zM910.0 272.2H913.3V275.3H910.0zM915.9 272.2H919.1V275.3H915.9zM945.2 272.2H948.4V275.3H945.2zM974.5 272.2H977.7V275.3H974.5zM886.6 269.3H889.8V272.5H886.6zM942.3 269.3H945.5V272.5H942.3zM974.5 269.3H980.7V272.5H974.5zM769.4 266.5H772.6V269.6H769.4zM801.6 266.5H804.9V269.6H801.6zM886.6 266.5H892.8V269.6H886.6zM915.9 266.5H919.1V269.6H915.9zM945.2 266.5H948.4V269.6H945.2zM974.5 266.5H980.7V269.6H974.5zM989.2 266.5H992.4V269.6H989.2zM830.9 263.6H834.2V266.8H830.9zM886.6 263.6H895.7V266.8H886.6zM915.9 263.6H919.1V266.8H915.9zM942.3 263.6H945.5V266.8H942.3zM977.4 263.6H980.7V266.8H977.4zM989.2 263.6H992.4V266.8H989.2zM889.5 260.8H895.7V263.9H889.5zM915.9 260.8H919.1V263.9H915.9zM942.3 260.8H951.4V263.9H942.3zM974.5 260.8H980.7V263.9H974.5zM989.2 260.8H992.4V263.9H989.2zM801.6 258.0H804.9V261.1H801.6zM830.9 258.0H834.2V261.1H830.9zM886.6 258.0H895.7V261.1H886.6zM910.0 258.0H913.3V261.1H910.0zM915.9 258.0H919.1V261.1H915.9zM942.3 258.0H951.4V261.1H942.3zM974.5 258.0H980.7V261.1H974.5zM769.4 255.1H772.6V258.3H769.4zM798.7 255.1H801.9V258.3H798.7zM886.6 255.1H889.8V258.3H886.6zM892.5 255.1H895.7V258.3H892.5zM913.0 255.1H919.1V258.3H913.0zM945.2 255.1H948.4V258.3H945.2zM974.5 255.1H980.7V258.3H974.5zM989.2 255.1H992.4V258.3H989.2zM830.9 252.3H837.1V255.4H830.9zM895.4 252.3H898.6V255.4H895.4zM910.0 252.3H913.3V255.4H910.0zM915.9 252.3H919.1V255.4H915.9zM942.3 252.3H945.5V255.4H942.3zM948.1 252.3H951.4V255.4H948.1zM986.2 252.3H989.5V255.4H986.2zM772.3 249.4H778.5V252.6H772.3zM798.7 249.4H801.9V252.6H798.7zM860.2 249.4H863.5V252.6H860.2zM895.4 249.4H898.6V252.6H895.4zM907.1 249.4H910.3V252.6H907.1zM913.0 249.4H916.2V252.6H913.0zM942.3 249.4H945.5V252.6H942.3zM992.1 249.4H995.3V252.6H992.1zM766.5 246.6H772.6V249.7H766.5zM775.3 246.6H778.5V249.7H775.3zM860.2 246.6H863.5V249.7H860.2zM913.0 246.6H919.1V249.7H913.0zM948.1 246.6H951.4V249.7H948.1zM989.2 246.6H992.4V249.7H989.2zM766.5 243.8H772.6V246.9H766.5zM775.3 243.8H778.5V246.9H775.3zM860.2 243.8H863.5V246.9H860.2zM948.1 243.8H951.4V246.9H948.1zM992.1 243.8H995.3V246.9H992.1zM754.8 240.9H760.9V244.1H754.8zM766.5 240.9H772.6V244.1H766.5zM833.9 240.9H843.0V244.1H833.9zM851.4 240.9H854.7V244.1H851.4zM898.3 240.9H901.5V244.1H898.3zM913.0 240.9H916.2V244.1H913.0zM980.4 240.9H986.5V244.1H980.4zM992.1 240.9H995.3V244.1H992.1zM754.8 238.1H758.0V241.2H754.8zM760.6 238.1H763.8V241.2H760.6zM778.2 238.1H781.4V241.2H778.2zM842.7 238.1H845.9V241.2H842.7zM860.2 238.1H863.5V241.2H860.2zM913.0 238.1H916.2V241.2H913.0zM959.9 238.1H963.1V241.2H959.9zM992.1 238.1H1001.2V241.2H992.1zM751.8 235.2H755.0V238.4H751.8zM757.7 235.2H760.9V238.4H757.7zM839.7 235.2H845.9V238.4H839.7zM848.5 235.2H851.7V238.4H848.5zM898.3 235.2H901.5V238.4H898.3zM951.1 235.2H963.1V238.4H951.1zM992.1 235.2H1001.2V238.4H992.1zM760.6 232.4H763.8V235.5H760.6zM781.1 232.4H784.4V235.5H781.1zM842.7 232.4H845.9V235.5H842.7zM848.5 232.4H851.7V235.5H848.5zM854.4 232.4H857.6V235.5H854.4zM954.0 232.4H966.0V235.5H954.0zM971.6 232.4H974.8V235.5H971.6zM995.0 232.4H998.2V235.5H995.0zM751.8 229.6H755.0V232.7H751.8zM763.5 229.6H766.8V232.7H763.5zM784.1 229.6H787.3V232.7H784.1zM795.8 229.6H799.0V232.7H795.8zM857.3 229.6H860.5V232.7H857.3zM904.2 229.6H907.4V232.7H904.2zM954.0 229.6H960.2V232.7H954.0zM971.6 229.6H974.8V232.7H971.6zM789.9 226.7H799.0V229.9H789.9zM854.4 226.7H857.6V229.9H854.4zM962.8 226.7H966.0V229.9H962.8zM789.9 223.9H796.1V227.0H789.9zM901.2 223.9H904.5V227.0H901.2zM962.8 223.9H968.9V227.0H962.8zM748.9 221.0H752.1V224.2H748.9zM787.0 221.0H793.1V224.2H787.0zM962.8 221.0H971.9V224.2H962.8zM748.9 218.2H752.1V221.3H748.9zM787.0 218.2H793.1V221.3H787.0zM965.7 218.2H971.9V221.3H965.7zM792.8 215.3H796.1V218.5H792.8zM965.7 215.3H968.9V218.5H965.7zM748.9 206.8H752.1V210.0H748.9zM746.0 204.0H749.2V207.1H746.0zM748.9 198.3H752.1V201.4H748.9zM746.0 195.5H752.1V198.6H746.0zM748.9 192.6H752.1V195.8H748.9zM748.9 189.8H752.1V192.9H748.9zM754.8 175.6H758.0V178.7H754.8zM754.8 172.7H758.0V175.9H754.8zM760.6 172.7H763.8V175.9H760.6zM757.7 169.9H763.8V173.0H757.7zM754.8 161.4H758.0V164.5H754.8zM748.9 155.7H755.0V158.8H748.9zM743.0 150.0H746.3V153.1H743.0zM740.1 147.2H743.3V150.3H740.1z"/>
<path fill="#a50000" d="M933.5 334.7H936.7V337.8H933.5zM807.5 331.8H813.6V335.0H807.5zM819.2 331.8H822.4V335.0H819.2zM828.0 326.2H831.2V329.3H828.0zM918.8 326.2H922.1V329.3H918.8zM939.3 326.2H942.6V329.3H939.3zM822.1 323.3H825.4V326.5H822.1zM830.9 323.3H834.2V326.5H830.9zM939.3 323.3H942.6V326.5H939.3zM830.9 320.5H834.2V323.6H830.9zM886.6 320.5H889.8V323.6H886.6zM945.2 320.5H948.4V323.6H945.2zM889.5 317.6H892.8V320.8H889.5zM913.0 317.6H916.2V320.8H913.0zM913.0 314.8H919.1V317.9H913.0zM974.5 314.8H977.7V317.9H974.5zM889.5 312.0H895.7V315.1H889.5zM913.0 312.0H916.2V315.1H913.0zM974.5 312.0H977.7V315.1H974.5zM801.6 309.1H804.9V312.3H801.6zM833.9 309.1H837.1V312.3H833.9zM913.0 309.1H916.2V312.3H913.0zM948.1 309.1H951.4V312.3H948.1zM974.5 309.1H980.7V312.3H974.5zM860.2 306.3H863.5V309.4H860.2zM892.5 306.3H895.7V309.4H892.5zM948.1 306.3H951.4V309.4H948.1zM974.5 306.3H980.7V309.4H974.5zM989.2 306.3H992.4V309.4H989.2zM833.9 303.4H837.1V306.6H833.9zM907.1 303.4H910.3V306.6H907.1zM948.1 303.4H951.4V306.6H948.1zM769.4 300.6H775.6V303.7H769.4zM833.9 300.6H837.1V303.7H833.9zM860.2 300.6H863.5V303.7H860.2zM892.5 300.6H895.7V303.7H892.5zM948.1 300.6H951.4V303.7H948.1zM977.4 300.6H980.7V303.7H977.4zM992.1 300.6H995.3V303.7H992.1zM833.9 297.7H837.1V300.9H833.9zM860.2 297.7H863.5V300.9H860.2zM974.5 297.7H980.7V300.9H974.5zM986.2 297.7H989.5V300.9H986.2zM798.7 294.9H801.9V298.0H798.7zM833.9 294.9H837.1V298.0H833.9zM948.1 294.9H951.4V298.0H948.1zM772.3 292.1H775.6V295.2H772.3zM798.7 292.1H801.9V295.2H798.7zM833.9 292.1H837.1V295.2H833.9zM895.4 292.1H898.6V295.2H895.4zM907.1 292.1H916.2V295.2H907.1zM948.1 292.1H951.4V295.2H948.1zM989.2 292.1H992.4V295.2H989.2zM833.9 289.2H837.1V292.4H833.9zM892.5 289.2H895.7V292.4H892.5zM913.0 289.2H916.2V292.4H913.0zM948.1 289.2H951.4V292.4H948.1zM769.4 286.4H772.6V289.5H769.4zM798.7 286.4H801.9V289.5H798.7zM833.9 286.4H837.1V289.5H833.9zM892.5 286.4H895.7V289.5H892.5zM945.2 286.4H948.4V289.5H945.2zM977.4 286.4H980.7V289.5H977.4zM986.2 286.4H992.4V289.5H986.2zM945.2 283.5H951.4V286.7H945.2zM977.4 283.5H980.7V286.7H977.4zM989.2 283.5H992.4V286.7H989.2zM892.5 280.7H895.7V283.8H892.5zM910.0 280.7H913.3V283.8H910.0zM989.2 280.7H992.4V283.8H989.2zM798.7 277.9H801.9V281.0H798.7zM833.9 277.9H837.1V281.0H833.9zM860.2 277.9H863.5V281.0H860.2zM889.5 277.9H895.7V281.0H889.5zM910.0 277.9H916.2V281.0H910.0zM948.1 277.9H951.4V281.0H948.1zM989.2 277.9H992.4V281.0H989.2zM769.4 275.0H775.6V278.2H769.4zM889.5 275.0H898.6V278.2H889.5zM910.0 275.0H916.2V278.2H910.0zM948.1 275.0H951.4V278.2H948.1zM977.4 275.0H980.7V278.2H977.4zM989.2 275.0H992.4V278.2H989.2zM772.3 272.2H775.6V275.3H772.3zM886.6 272.2H892.8V275.3H886.6zM907.1 272.2H910.3V275.3H907.1zM913.0 272.2H916.2V275.3H913.0zM948.1 272.2H951.4V275.3H948.1zM977.4 272.2H980.7V275.3H977.4zM772.3 269.3H778.5V272.5H772.3zM889.5 269.3H895.7V272.5H889.5zM910.0 269.3H913.3V272.5H910.0zM915.9 269.3H919.1V272.5H915.9zM945.2 269.3H948.4V272.5H945.2zM986.2 269.3H992.4V272.5H986.2zM892.5 266.5H898.6V269.6H892.5zM910.0 266.5H913.3V269.6H910.0zM986.2 266.5H989.5V269.6H986.2zM992.1 266.5H995.3V269.6H992.1zM769.4 263.6H775.6V266.8H769.4zM833.9 263.6H837.1V266.8H833.9zM895.4 263.6H898.6V266.8H895.4zM910.0 263.6H913.3V266.8H910.0zM945.2 263.6H951.4V266.8H945.2zM974.5 263.6H977.7V266.8H974.5zM986.2 263.6H989.5V266.8H986.2zM769.4 260.8H772.6V263.9H769.4zM833.9 260.8H837.1V263.9H833.9zM886.6 260.8H889.8V263.9H886.6zM895.4 260.8H898.6V263.9H895.4zM910.0 260.8H916.2V263.9H910.0zM769.4 258.0H772.6V261.1H769.4zM775.3 258.0H778.5V261.1H775.3zM798.7 258.0H801.9V261.1H798.7zM833.9 258.0H837.1V261.1H833.9zM860.2 258.0H863.5V261.1H860.2zM895.4 258.0H898.6V261.1H895.4zM907.1 258.0H910.3V261.1H907.1zM913.0 258.0H916.2V261.1H913.0zM980.4 258.0H983.6V261.1H980.4zM986.2 258.0H992.4V261.1H986.2zM995.0 258.0H998.2V261.1H995.0zM772.3 255.1H778.5V258.3H772.3zM833.9 255.1H837.1V258.3H833.9zM907.1 255.1H913.3V258.3H907.1zM942.3 255.1H945.5V258.3H942.3zM948.1 255.1H951.4V258.3H948.1zM980.4 255.1H983.6V258.3H980.4zM986.2 255.1H989.5V258.3H986.2zM992.1 255.1H995.3V258.3H992.1zM769.4 252.3H778.5V255.4H769.4zM913.0 252.3H916.2V255.4H913.0zM951.1 252.3H954.3V255.4H951.1zM980.4 252.3H983.6V255.4H980.4zM992.1 252.3H998.2V255.4H992.1zM754.8 249.4H758.0V252.6H754.8zM766.5 249.4H772.6V252.6H766.5zM836.8 249.4H840.0V252.6H836.8zM842.7 249.4H845.9V252.6H842.7zM754.8 246.6H760.9V249.7H754.8zM798.7 246.6H801.9V249.7H798.7zM833.9 246.6H840.0V249.7H833.9zM907.1 246.6H910.3V249.7H907.1zM951.1 246.6H954.3V249.7H951.1zM971.6 246.6H974.8V249.7H971.6zM980.4 246.6H986.5V249.7H980.4zM992.1 246.6H995.3V249.7H992.1zM997.9 246.6H1001.2V249.7H997.9zM757.7 243.8H760.9V246.9H757.7zM798.7 243.8H801.9V246.9H798.7zM833.9 243.8H840.0V246.9H833.9zM842.7 243.8H845.9V246.9H842.7zM848.5 243.8H854.7V246.9H848.5zM898.3 243.8H901.5V246.9H898.3zM951.1 243.8H954.3V246.9H951.1zM959.9 243.8H963.1V246.9H959.9zM980.4 243.8H986.5V246.9H980.4zM995.0 243.8H998.2V246.9H995.0zM778.2 240.9H781.4V244.1H778.2zM842.7 240.9H851.7V244.1H842.7zM854.4 240.9H860.5V244.1H854.4zM951.1 240.9H954.3V244.1H951.1zM956.9 240.9H960.2V244.1H956.9zM971.6 240.9H974.8V244.1H971.6zM995.0 240.9H1001.2V244.1H995.0zM751.8 238.1H755.0V241.2H751.8zM763.5 238.1H766.8V241.2H763.5zM781.1 238.1H784.4V241.2H781.1zM845.6 238.1H848.8V241.2H845.6zM851.4 238.1H857.6V241.2H851.4zM951.1 238.1H954.3V241.2H951.1zM956.9 238.1H960.2V241.2H956.9zM971.6 238.1H974.8V241.2H971.6zM980.4 238.1H983.6V241.2H980.4zM760.6 235.2H763.8V238.4H760.6zM778.2 235.2H784.4V238.4H778.2zM792.8 235.2H799.0V238.4H792.8zM845.6 235.2H848.8V238.4H845.6zM854.4 235.2H860.5V238.4H854.4zM901.2 235.2H907.4V238.4H901.2zM971.6 235.2H974.8V238.4H971.6zM751.8 232.4H755.0V235.5H751.8zM763.5 232.4H766.8V235.5H763.5zM795.8 232.4H799.0V235.5H795.8zM901.2 232.4H907.4V235.5H901.2zM748.9 229.6H752.1V232.7H748.9zM760.6 229.6H763.8V232.7H760.6zM781.1 229.6H784.4V232.7H781.1zM787.0 229.6H790.2V232.7H787.0zM792.8 229.6H796.1V232.7H792.8zM901.2 229.6H904.5V232.7H901.2zM962.8 229.6H966.0V232.7H962.8zM787.0 226.7H790.2V229.9H787.0zM901.2 226.7H907.4V229.9H901.2zM748.9 223.9H752.1V227.0H748.9zM787.0 223.9H790.2V227.0H787.0zM968.6 223.9H971.9V227.0H968.6zM746.0 215.3H749.2V218.5H746.0zM743.0 212.5H749.2V215.6H743.0zM746.0 209.7H749.2V212.8H746.0zM743.0 206.8H746.3V210.0H743.0zM746.0 201.1H749.2V204.3H746.0zM748.9 181.3H752.1V184.4H748.9zM751.8 178.4H755.0V181.6H751.8zM751.8 169.9H758.0V173.0H751.8zM754.8 164.2H758.0V167.3H754.8zM751.8 158.5H755.0V161.7H751.8zM746.0 152.8H752.1V156.0H746.0zM731.3 150.0H737.5V153.1H731.3zM731.3 147.2H734.5V150.3H731.3zM737.2 147.2H740.4V150.3H737.2z"/>
<path fill="#ae0000" d="M883.7 351.7H886.9V354.9H883.7zM924.7 337.5H933.8V340.7H924.7zM819.2 334.7H822.4V337.8H819.2zM921.8 334.7H925.0V337.8H921.8zM825.1 331.8H828.3V335.0H825.1zM866.1 331.8H869.3V335.0H866.1zM936.4 331.8H939.6V335.0H936.4zM918.8 329.0H922.1V332.1H918.8zM939.3 329.0H945.5V332.1H939.3zM804.6 326.2H807.8V329.3H804.6zM863.2 326.2H866.4V329.3H863.2zM886.6 326.2H889.8V329.3H886.6zM910.0 326.2H913.3V329.3H910.0zM877.8 323.3H881.0V326.5H877.8zM915.9 323.3H919.1V326.5H915.9zM889.5 320.5H895.7V323.6H889.5zM910.0 320.5H913.3V323.6H910.0zM772.3 317.6H775.6V320.8H772.3zM892.5 317.6H895.7V320.8H892.5zM910.0 317.6H913.3V320.8H910.0zM974.5 317.6H977.7V320.8H974.5zM801.6 314.8H804.9V317.9H801.6zM833.9 314.8H837.1V317.9H833.9zM860.2 314.8H863.5V317.9H860.2zM892.5 314.8H895.7V317.9H892.5zM977.4 314.8H980.7V317.9H977.4zM772.3 312.0H775.6V315.1H772.3zM860.2 312.0H863.5V315.1H860.2zM910.0 312.0H913.3V315.1H910.0zM948.1 312.0H951.4V315.1H948.1zM977.4 312.0H980.7V315.1H977.4zM769.4 309.1H772.6V312.3H769.4zM907.1 309.1H910.3V312.3H907.1zM986.2 309.1H992.4V312.3H986.2zM772.3 306.3H775.6V309.4H772.3zM907.1 306.3H910.3V309.4H907.1zM986.2 306.3H989.5V309.4H986.2zM992.1 306.3H995.3V309.4H992.1zM769.4 303.4H775.6V306.6H769.4zM977.4 303.4H980.7V306.6H977.4zM986.2 303.4H992.4V306.6H986.2zM895.4 300.6H898.6V303.7H895.4zM907.1 300.6H910.3V303.7H907.1zM986.2 300.6H992.4V303.7H986.2zM995.0 300.6H998.2V303.7H995.0zM769.4 297.7H775.6V300.9H769.4zM798.7 297.7H801.9V300.9H798.7zM895.4 297.7H898.6V300.9H895.4zM907.1 297.7H910.3V300.9H907.1zM989.2 297.7H995.3V300.9H989.2zM769.4 294.9H775.6V298.0H769.4zM907.1 294.9H910.3V298.0H907.1zM986.2 294.9H992.4V298.0H986.2zM995.0 294.9H998.2V298.0H995.0zM769.4 292.1H772.6V295.2H769.4zM775.3 292.1H778.5V295.2H775.3zM992.1 292.1H995.3V295.2H992.1zM769.4 289.2H772.6V292.4H769.4zM775.3 289.2H778.5V292.4H775.3zM836.8 289.2H840.0V292.4H836.8zM907.1 289.2H910.3V292.4H907.1zM983.3 289.2H995.3V292.4H983.3zM772.3 286.4H775.6V289.5H772.3zM948.1 286.4H951.4V289.5H948.1zM769.4 283.5H772.6V286.7H769.4zM798.7 283.5H801.9V286.7H798.7zM833.9 283.5H837.1V286.7H833.9zM895.4 283.5H898.6V286.7H895.4zM907.1 283.5H910.3V286.7H907.1zM986.2 283.5H989.5V286.7H986.2zM992.1 283.5H995.3V286.7H992.1zM769.4 280.7H778.5V283.8H769.4zM798.7 280.7H801.9V283.8H798.7zM833.9 280.7H837.1V283.8H833.9zM860.2 280.7H863.5V283.8H860.2zM895.4 280.7H898.6V283.8H895.4zM907.1 280.7H910.3V283.8H907.1zM913.0 280.7H916.2V283.8H913.0zM986.2 280.7H989.5V283.8H986.2zM766.5 277.9H775.6V281.0H766.5zM895.4 277.9H898.6V281.0H895.4zM986.2 277.9H989.5V281.0H986.2zM992.1 277.9H995.3V281.0H992.1zM798.7 275.0H801.9V278.2H798.7zM833.9 275.0H837.1V278.2H833.9zM860.2 275.0H863.5V278.2H860.2zM907.1 275.0H910.3V278.2H907.1zM945.2 275.0H948.4V278.2H945.2zM986.2 275.0H989.5V278.2H986.2zM757.7 272.2H760.9V275.3H757.7zM775.3 272.2H778.5V275.3H775.3zM833.9 272.2H837.1V275.3H833.9zM860.2 272.2H863.5V275.3H860.2zM986.2 272.2H992.4V275.3H986.2zM766.5 269.3H772.6V272.5H766.5zM798.7 269.3H801.9V272.5H798.7zM833.9 269.3H837.1V272.5H833.9zM860.2 269.3H863.5V272.5H860.2zM895.4 269.3H898.6V272.5H895.4zM907.1 269.3H910.3V272.5H907.1zM983.3 269.3H986.5V272.5H983.3zM995.0 269.3H998.2V272.5H995.0zM754.8 266.5H758.0V269.6H754.8zM766.5 266.5H769.7V269.6H766.5zM772.3 266.5H778.5V269.6H772.3zM860.2 266.5H863.5V269.6H860.2zM907.1 266.5H910.3V269.6H907.1zM913.0 266.5H916.2V269.6H913.0zM948.1 266.5H951.4V269.6H948.1zM860.2 263.6H863.5V266.8H860.2zM907.1 263.6H910.3V266.8H907.1zM913.0 263.6H916.2V266.8H913.0zM980.4 263.6H983.6V266.8H980.4zM995.0 263.6H998.2V266.8H995.0zM766.5 260.8H769.7V263.9H766.5zM772.3 260.8H778.5V263.9H772.3zM798.7 260.8H801.9V263.9H798.7zM907.1 260.8H910.3V263.9H907.1zM980.4 260.8H983.6V263.9H980.4zM986.2 260.8H989.5V263.9H986.2zM754.8 258.0H758.0V261.1H754.8zM766.5 258.0H769.7V261.1H766.5zM772.3 258.0H775.6V261.1H772.3zM898.3 258.0H901.5V261.1H898.3zM992.1 258.0H995.3V261.1H992.1zM836.8 255.1H845.9V258.3H836.8zM860.2 255.1H863.5V258.3H860.2zM898.3 255.1H901.5V258.3H898.3zM956.9 255.1H960.2V258.3H956.9zM754.8 252.3H760.9V255.4H754.8zM766.5 252.3H769.7V255.4H766.5zM798.7 252.3H801.9V255.4H798.7zM839.7 252.3H848.8V255.4H839.7zM854.4 252.3H857.6V255.4H854.4zM860.2 252.3H863.5V255.4H860.2zM907.1 252.3H910.3V255.4H907.1zM971.6 252.3H974.8V255.4H971.6zM983.3 252.3H986.5V255.4H983.3zM757.7 249.4H760.9V252.6H757.7zM839.7 249.4H843.0V252.6H839.7zM851.4 249.4H854.7V252.6H851.4zM951.1 249.4H954.3V252.6H951.1zM956.9 249.4H963.1V252.6H956.9zM980.4 249.4H986.5V252.6H980.4zM995.0 249.4H1001.2V252.6H995.0zM751.8 246.6H755.0V249.7H751.8zM778.2 246.6H781.4V249.7H778.2zM839.7 246.6H845.9V249.7H839.7zM848.5 246.6H854.7V249.7H848.5zM898.3 246.6H901.5V249.7H898.3zM956.9 246.6H963.1V249.7H956.9zM995.0 246.6H998.2V249.7H995.0zM751.8 243.8H758.0V246.9H751.8zM760.6 243.8H766.8V246.9H760.6zM778.2 243.8H781.4V246.9H778.2zM839.7 243.8H843.0V246.9H839.7zM845.6 243.8H848.8V246.9H845.6zM857.3 243.8H860.5V246.9H857.3zM954.0 243.8H960.2V246.9H954.0zM971.6 243.8H974.8V246.9H971.6zM997.9 243.8H1001.2V246.9H997.9zM751.8 240.9H755.0V244.1H751.8zM763.5 240.9H766.8V244.1H763.5zM784.1 240.9H787.3V244.1H784.1zM795.8 240.9H799.0V244.1H795.8zM904.2 240.9H907.4V244.1H904.2zM954.0 240.9H957.2V244.1H954.0zM959.9 240.9H966.0V244.1H959.9zM784.1 238.1H787.3V241.2H784.1zM792.8 238.1H796.1V241.2H792.8zM848.5 238.1H851.7V241.2H848.5zM857.3 238.1H860.5V241.2H857.3zM901.2 238.1H907.4V241.2H901.2zM962.8 238.1H966.0V241.2H962.8zM763.5 235.2H766.8V238.4H763.5zM784.1 235.2H790.2V238.4H784.1zM962.8 235.2H966.0V238.4H962.8zM748.9 232.4H752.1V235.5H748.9zM784.1 232.4H790.2V235.5H784.1zM857.3 232.4H860.5V235.5H857.3zM789.9 229.6H793.1V232.7H789.9zM968.6 229.6H971.9V232.7H968.6zM746.0 226.7H752.1V229.9H746.0zM965.7 226.7H971.9V229.9H965.7zM746.0 221.0H749.2V224.2H746.0zM743.0 218.2H749.2V221.3H743.0zM743.0 215.3H746.3V218.5H743.0zM743.0 209.7H746.3V212.8H743.0zM746.0 206.8H749.2V210.0H746.0zM743.0 204.0H746.3V207.1H743.0zM743.0 201.1H746.3V204.3H743.0zM746.0 198.3H749.2V201.4H746.0zM746.0 192.6H749.2V195.8H746.0zM743.0 189.8H749.2V192.9H743.0zM746.0 186.9H752.1V190.1H746.0zM748.9 184.1H752.1V187.2H748.9zM748.9 175.6H755.0V178.7H748.9zM748.9 172.7H755.0V175.9H748.9zM751.8 167.0H758.0V170.2H751.8zM751.8 164.2H755.0V167.3H751.8zM751.8 161.4H755.0V164.5H751.8zM746.0 155.7H749.2V158.8H746.0zM743.0 152.8H746.3V156.0H743.0zM737.2 150.0H743.3V153.1H737.2z"/>
<path fill="#b60000" d="M807.5 334.7H810.7V337.8H807.5zM828.0 331.8H831.2V335.0H828.0zM872.0 331.8H878.1V335.0H872.0zM880.7 331.8H884.0V335.0H880.7zM918.8 331.8H922.1V335.0H918.8zM942.3 331.8H945.5V335.0H942.3zM828.0 329.0H831.2V332.1H828.0zM813.4 326.2H816.6V329.3H813.4zM830.9 326.2H834.2V329.3H830.9zM915.9 326.2H919.1V329.3H915.9zM942.3 326.2H948.4V329.3H942.3zM889.5 323.3H895.7V326.5H889.5zM910.0 323.3H913.3V326.5H910.0zM942.3 323.3H948.4V326.5H942.3zM772.3 320.5H775.6V323.6H772.3zM833.9 320.5H837.1V323.6H833.9zM913.0 320.5H916.2V323.6H913.0zM769.4 317.6H772.6V320.8H769.4zM801.6 317.6H804.9V320.8H801.6zM833.9 317.6H837.1V320.8H833.9zM860.2 317.6H863.5V320.8H860.2zM907.1 317.6H910.3V320.8H907.1zM772.3 314.8H775.6V317.9H772.3zM907.1 314.8H910.3V317.9H907.1zM948.1 314.8H951.4V317.9H948.1zM769.4 312.0H772.6V315.1H769.4zM833.9 312.0H837.1V315.1H833.9zM895.4 312.0H898.6V315.1H895.4zM907.1 312.0H910.3V315.1H907.1zM989.2 312.0H992.4V315.1H989.2zM772.3 309.1H778.5V312.3H772.3zM795.8 309.1H799.0V312.3H795.8zM895.4 309.1H898.6V312.3H895.4zM971.6 309.1H974.8V312.3H971.6zM769.4 306.3H772.6V309.4H769.4zM798.7 306.3H801.9V309.4H798.7zM836.8 306.3H840.0V309.4H836.8zM895.4 306.3H898.6V309.4H895.4zM971.6 306.3H974.8V309.4H971.6zM997.9 306.3H1001.2V309.4H997.9zM775.3 303.4H778.5V306.6H775.3zM836.8 303.4H840.0V306.6H836.8zM857.3 303.4H860.5V306.6H857.3zM895.4 303.4H898.6V306.6H895.4zM992.1 303.4H995.3V306.6H992.1zM766.5 300.6H769.7V303.7H766.5zM775.3 300.6H778.5V303.7H775.3zM798.7 300.6H801.9V303.7H798.7zM836.8 300.6H840.0V303.7H836.8zM971.6 300.6H974.8V303.7H971.6zM775.3 297.7H778.5V300.9H775.3zM836.8 297.7H840.0V300.9H836.8zM971.6 297.7H974.8V300.9H971.6zM995.0 297.7H998.2V300.9H995.0zM775.3 294.9H778.5V298.0H775.3zM836.8 294.9H843.0V298.0H836.8zM895.4 294.9H898.6V298.0H895.4zM971.6 294.9H974.8V298.0H971.6zM992.1 294.9H995.3V298.0H992.1zM842.7 292.1H845.9V295.2H842.7zM857.3 292.1H860.5V295.2H857.3zM971.6 292.1H974.8V295.2H971.6zM983.3 292.1H989.5V295.2H983.3zM995.0 292.1H998.2V295.2H995.0zM766.5 289.2H769.7V292.4H766.5zM795.8 289.2H799.0V292.4H795.8zM839.7 289.2H843.0V292.4H839.7zM895.4 289.2H898.6V292.4H895.4zM971.6 289.2H974.8V292.4H971.6zM995.0 289.2H998.2V292.4H995.0zM766.5 286.4H769.7V289.5H766.5zM775.3 286.4H778.5V289.5H775.3zM836.8 286.4H840.0V289.5H836.8zM857.3 286.4H860.5V289.5H857.3zM895.4 286.4H898.6V289.5H895.4zM907.1 286.4H910.3V289.5H907.1zM971.6 286.4H974.8V289.5H971.6zM980.4 286.4H983.6V289.5H980.4zM992.1 286.4H998.2V289.5H992.1zM772.3 283.5H778.5V286.7H772.3zM839.7 283.5H843.0V286.7H839.7zM971.6 283.5H974.8V286.7H971.6zM980.4 283.5H983.6V286.7H980.4zM995.0 283.5H998.2V286.7H995.0zM766.5 280.7H769.7V283.8H766.5zM857.3 280.7H860.5V283.8H857.3zM980.4 280.7H983.6V283.8H980.4zM992.1 280.7H998.2V283.8H992.1zM775.3 277.9H778.5V281.0H775.3zM836.8 277.9H840.0V281.0H836.8zM907.1 277.9H910.3V281.0H907.1zM971.6 277.9H974.8V281.0H971.6zM980.4 277.9H986.5V281.0H980.4zM995.0 277.9H998.2V281.0H995.0zM754.8 275.0H758.0V278.2H754.8zM775.3 275.0H778.5V278.2H775.3zM836.8 275.0H840.0V278.2H836.8zM842.7 275.0H845.9V278.2H842.7zM951.1 275.0H954.3V278.2H951.1zM971.6 275.0H974.8V278.2H971.6zM980.4 275.0H986.5V278.2H980.4zM992.1 275.0H995.3V278.2H992.1zM754.8 272.2H758.0V275.3H754.8zM766.5 272.2H772.6V275.3H766.5zM798.7 272.2H801.9V275.3H798.7zM836.8 272.2H840.0V275.3H836.8zM895.4 272.2H898.6V275.3H895.4zM980.4 272.2H986.5V275.3H980.4zM992.1 272.2H995.3V275.3H992.1zM754.8 269.3H758.0V272.5H754.8zM836.8 269.3H840.0V272.5H836.8zM854.4 269.3H857.6V272.5H854.4zM913.0 269.3H916.2V272.5H913.0zM948.1 269.3H954.3V272.5H948.1zM971.6 269.3H974.8V272.5H971.6zM980.4 269.3H983.6V272.5H980.4zM992.1 269.3H995.3V272.5H992.1zM798.7 266.5H801.9V269.6H798.7zM833.9 266.5H837.1V269.6H833.9zM951.1 266.5H954.3V269.6H951.1zM983.3 266.5H986.5V269.6H983.3zM766.5 263.6H769.7V266.8H766.5zM775.3 263.6H778.5V266.8H775.3zM798.7 263.6H801.9V266.8H798.7zM836.8 263.6H840.0V266.8H836.8zM845.6 263.6H848.8V266.8H845.6zM992.1 263.6H995.3V266.8H992.1zM754.8 260.8H758.0V263.9H754.8zM836.8 260.8H843.0V263.9H836.8zM860.2 260.8H863.5V263.9H860.2zM959.9 260.8H963.1V263.9H959.9zM983.3 260.8H986.5V263.9H983.3zM992.1 260.8H1001.2V263.9H992.1zM836.8 258.0H843.0V261.1H836.8zM845.6 258.0H851.7V261.1H845.6zM857.3 258.0H860.5V261.1H857.3zM951.1 258.0H954.3V261.1H951.1zM956.9 258.0H963.1V261.1H956.9zM983.3 258.0H986.5V261.1H983.3zM751.8 255.1H763.8V258.3H751.8zM766.5 255.1H769.7V258.3H766.5zM778.2 255.1H781.4V258.3H778.2zM795.8 255.1H799.0V258.3H795.8zM845.6 255.1H854.7V258.3H845.6zM857.3 255.1H860.5V258.3H857.3zM951.1 255.1H957.2V258.3H951.1zM959.9 255.1H963.1V258.3H959.9zM971.6 255.1H974.8V258.3H971.6zM983.3 255.1H986.5V258.3H983.3zM995.0 255.1H1001.2V258.3H995.0zM751.8 252.3H755.0V255.4H751.8zM760.6 252.3H766.8V255.4H760.6zM778.2 252.3H784.4V255.4H778.2zM836.8 252.3H840.0V255.4H836.8zM851.4 252.3H854.7V255.4H851.4zM857.3 252.3H860.5V255.4H857.3zM898.3 252.3H901.5V255.4H898.3zM959.9 252.3H963.1V255.4H959.9zM997.9 252.3H1001.2V255.4H997.9zM751.8 249.4H755.0V252.6H751.8zM760.6 249.4H763.8V252.6H760.6zM778.2 249.4H784.4V252.6H778.2zM795.8 249.4H799.0V252.6H795.8zM845.6 249.4H851.7V252.6H845.6zM854.4 249.4H860.5V252.6H854.4zM898.3 249.4H901.5V252.6H898.3zM954.0 249.4H957.2V252.6H954.0zM971.6 249.4H974.8V252.6H971.6zM1000.9 249.4H1004.1V252.6H1000.9zM760.6 246.6H766.8V249.7H760.6zM781.1 246.6H784.4V249.7H781.1zM795.8 246.6H799.0V249.7H795.8zM845.6 246.6H848.8V249.7H845.6zM854.4 246.6H860.5V249.7H854.4zM901.2 246.6H907.4V249.7H901.2zM954.0 246.6H957.2V249.7H954.0zM784.1 243.8H787.3V246.9H784.1zM854.4 243.8H857.6V246.9H854.4zM901.2 243.8H907.4V246.9H901.2zM760.6 240.9H763.8V244.1H760.6zM781.1 240.9H784.4V244.1H781.1zM901.2 240.9H904.5V244.1H901.2zM965.7 240.9H968.9V244.1H965.7zM787.0 238.1H793.1V241.2H787.0zM795.8 238.1H799.0V241.2H795.8zM954.0 238.1H957.2V241.2H954.0zM748.9 235.2H752.1V238.4H748.9zM789.9 235.2H793.1V238.4H789.9zM968.6 235.2H971.9V238.4H968.6zM792.8 232.4H796.1V235.5H792.8zM965.7 232.4H971.9V235.5H965.7zM746.0 229.6H749.2V232.7H746.0zM965.7 229.6H968.9V232.7H965.7zM743.0 223.9H749.2V227.0H743.0zM743.0 221.0H746.3V224.2H743.0zM740.1 209.7H743.3V212.8H740.1zM740.1 198.3H746.3V201.4H740.1zM743.0 192.6H746.3V195.8H743.0zM743.0 186.9H746.3V190.1H743.0zM743.0 184.1H749.2V187.2H743.0zM746.0 181.3H749.2V184.4H746.0zM748.9 178.4H752.1V181.6H748.9zM748.9 161.4H752.1V164.5H748.9zM748.9 158.5H752.1V161.7H748.9zM737.2 152.8H743.3V156.0H737.2z"/>
<path fill="#bf0000" d="M924.7 340.4H927.9V343.5H924.7zM921.8 337.5H925.0V340.7H921.8zM933.5 337.5H936.7V340.7H933.5zM810.4 334.7H813.6V337.8H810.4zM825.1 334.7H828.3V337.8H825.1zM866.1 334.7H869.3V337.8H866.1zM936.4 334.7H939.6V337.8H936.4zM816.3 331.8H819.5V335.0H816.3zM869.0 331.8H872.2V335.0H869.0zM939.3 331.8H942.6V335.0H939.3zM804.6 329.0H807.8V332.1H804.6zM886.6 329.0H889.8V332.1H886.6zM910.0 329.0H913.3V332.1H910.0zM915.9 329.0H919.1V332.1H915.9zM945.2 329.0H948.4V332.1H945.2zM822.1 326.2H825.4V329.3H822.1zM889.5 326.2H892.8V329.3H889.5zM913.0 323.3H916.2V326.5H913.0zM974.5 323.3H980.7V326.5H974.5zM769.4 320.5H772.6V323.6H769.4zM836.8 320.5H840.0V323.6H836.8zM895.4 320.5H898.6V323.6H895.4zM907.1 320.5H910.3V323.6H907.1zM974.5 320.5H980.7V323.6H974.5zM989.2 320.5H992.4V323.6H989.2zM836.8 317.6H840.0V320.8H836.8zM948.1 317.6H951.4V320.8H948.1zM977.4 317.6H980.7V320.8H977.4zM986.2 317.6H992.4V320.8H986.2zM836.8 314.8H840.0V317.9H836.8zM971.6 314.8H974.8V317.9H971.6zM980.4 314.8H983.6V317.9H980.4zM986.2 314.8H992.4V317.9H986.2zM995.0 314.8H998.2V317.9H995.0zM775.3 312.0H778.5V315.1H775.3zM836.8 312.0H840.0V315.1H836.8zM986.2 312.0H989.5V315.1H986.2zM995.0 312.0H998.2V315.1H995.0zM766.5 309.1H769.7V312.3H766.5zM798.7 309.1H801.9V312.3H798.7zM836.8 309.1H843.0V312.3H836.8zM851.4 309.1H854.7V312.3H851.4zM857.3 309.1H860.5V312.3H857.3zM980.4 309.1H983.6V312.3H980.4zM992.1 309.1H998.2V312.3H992.1zM766.5 306.3H769.7V309.4H766.5zM775.3 306.3H778.5V309.4H775.3zM795.8 306.3H799.0V309.4H795.8zM857.3 306.3H860.5V309.4H857.3zM995.0 306.3H998.2V309.4H995.0zM754.8 303.4H758.0V306.6H754.8zM766.5 303.4H769.7V306.6H766.5zM795.8 303.4H801.9V306.6H795.8zM854.4 303.4H857.6V306.6H854.4zM971.6 303.4H974.8V306.6H971.6zM980.4 303.4H983.6V306.6H980.4zM995.0 303.4H998.2V306.6H995.0zM754.8 300.6H758.0V303.7H754.8zM854.4 300.6H860.5V303.7H854.4zM951.1 300.6H954.3V303.7H951.1zM980.4 300.6H983.6V303.7H980.4zM997.9 300.6H1001.2V303.7H997.9zM754.8 297.7H758.0V300.9H754.8zM778.2 297.7H781.4V300.9H778.2zM795.8 297.7H799.0V300.9H795.8zM839.7 297.7H843.0V300.9H839.7zM857.3 297.7H860.5V300.9H857.3zM980.4 297.7H983.6V300.9H980.4zM997.9 297.7H1001.2V300.9H997.9zM754.8 294.9H758.0V298.0H754.8zM795.8 294.9H799.0V298.0H795.8zM842.7 294.9H845.9V298.0H842.7zM857.3 294.9H860.5V298.0H857.3zM951.1 294.9H954.3V298.0H951.1zM980.4 294.9H986.5V298.0H980.4zM997.9 294.9H1001.2V298.0H997.9zM766.5 292.1H769.7V295.2H766.5zM836.8 292.1H843.0V295.2H836.8zM854.4 292.1H857.6V295.2H854.4zM951.1 292.1H954.3V295.2H951.1zM980.4 292.1H983.6V295.2H980.4zM997.9 292.1H1001.2V295.2H997.9zM754.8 289.2H758.0V292.4H754.8zM857.3 289.2H860.5V292.4H857.3zM980.4 289.2H983.6V292.4H980.4zM997.9 289.2H1001.2V292.4H997.9zM754.8 286.4H758.0V289.5H754.8zM778.2 286.4H781.4V289.5H778.2zM842.7 286.4H845.9V289.5H842.7zM983.3 286.4H986.5V289.5H983.3zM754.8 283.5H760.9V286.7H754.8zM766.5 283.5H769.7V286.7H766.5zM836.8 283.5H840.0V286.7H836.8zM848.5 283.5H851.7V286.7H848.5zM857.3 283.5H860.5V286.7H857.3zM983.3 283.5H986.5V286.7H983.3zM754.8 280.7H758.0V283.8H754.8zM836.8 280.7H843.0V283.8H836.8zM951.1 280.7H954.3V283.8H951.1zM971.6 280.7H974.8V283.8H971.6zM983.3 280.7H986.5V283.8H983.3zM997.9 280.7H1001.2V283.8H997.9zM754.8 277.9H758.0V281.0H754.8zM778.2 277.9H781.4V281.0H778.2zM842.7 277.9H845.9V281.0H842.7zM904.2 277.9H907.4V281.0H904.2zM951.1 277.9H954.3V281.0H951.1zM757.7 275.0H760.9V278.2H757.7zM766.5 275.0H769.7V278.2H766.5zM795.8 275.0H799.0V278.2H795.8zM839.7 275.0H843.0V278.2H839.7zM854.4 275.0H860.5V278.2H854.4zM898.3 275.0H901.5V278.2H898.3zM956.9 275.0H960.2V278.2H956.9zM995.0 275.0H1001.2V278.2H995.0zM751.8 272.2H755.0V275.3H751.8zM778.2 272.2H781.4V275.3H778.2zM839.7 272.2H843.0V275.3H839.7zM854.4 272.2H857.6V275.3H854.4zM951.1 272.2H954.3V275.3H951.1zM971.6 272.2H974.8V275.3H971.6zM997.9 272.2H1001.2V275.3H997.9zM760.6 269.3H766.8V272.5H760.6zM839.7 269.3H848.8V272.5H839.7zM857.3 269.3H860.5V272.5H857.3zM956.9 269.3H963.1V272.5H956.9zM757.7 266.5H760.9V269.6H757.7zM836.8 266.5H843.0V269.6H836.8zM854.4 266.5H857.6V269.6H854.4zM956.9 266.5H963.1V269.6H956.9zM971.6 266.5H974.8V269.6H971.6zM980.4 266.5H983.6V269.6H980.4zM995.0 266.5H998.2V269.6H995.0zM751.8 263.6H760.9V266.8H751.8zM763.5 263.6H766.8V266.8H763.5zM778.2 263.6H781.4V266.8H778.2zM848.5 263.6H851.7V266.8H848.5zM898.3 263.6H901.5V266.8H898.3zM951.1 263.6H954.3V266.8H951.1zM971.6 263.6H974.8V266.8H971.6zM751.8 260.8H755.0V263.9H751.8zM757.7 260.8H763.8V263.9H757.7zM778.2 260.8H781.4V263.9H778.2zM842.7 260.8H845.9V263.9H842.7zM851.4 260.8H860.5V263.9H851.4zM898.3 260.8H901.5V263.9H898.3zM951.1 260.8H954.3V263.9H951.1zM971.6 260.8H974.8V263.9H971.6zM1000.9 260.8H1004.1V263.9H1000.9zM757.7 258.0H763.8V261.1H757.7zM778.2 258.0H781.4V261.1H778.2zM795.8 258.0H799.0V261.1H795.8zM842.7 258.0H845.9V261.1H842.7zM851.4 258.0H857.6V261.1H851.4zM971.6 258.0H974.8V261.1H971.6zM997.9 258.0H1004.1V261.1H997.9zM763.5 255.1H766.8V258.3H763.5zM854.4 255.1H857.6V258.3H854.4zM962.8 255.1H966.0V258.3H962.8zM748.9 252.3H752.1V255.4H748.9zM784.1 252.3H787.3V255.4H784.1zM795.8 252.3H799.0V255.4H795.8zM848.5 252.3H851.7V255.4H848.5zM904.2 252.3H907.4V255.4H904.2zM954.0 252.3H960.2V255.4H954.0zM1000.9 252.3H1004.1V255.4H1000.9zM763.5 249.4H766.8V252.6H763.5zM784.1 249.4H790.2V252.6H784.1zM962.8 249.4H966.0V252.6H962.8zM748.9 246.6H752.1V249.7H748.9zM784.1 246.6H787.3V249.7H784.1zM968.6 246.6H971.9V249.7H968.6zM781.1 243.8H784.4V246.9H781.1zM792.8 243.8H799.0V246.9H792.8zM962.8 243.8H966.0V246.9H962.8zM968.6 243.8H971.9V246.9H968.6zM748.9 240.9H752.1V244.1H748.9zM787.0 240.9H796.1V244.1H787.0zM746.0 238.1H752.1V241.2H746.0zM968.6 238.1H971.9V241.2H968.6zM746.0 235.2H749.2V238.4H746.0zM965.7 235.2H968.9V238.4H965.7zM789.9 232.4H793.1V235.5H789.9zM743.0 229.6H746.3V232.7H743.0zM743.0 226.7H746.3V229.9H743.0zM740.1 223.9H743.3V227.0H740.1zM740.1 218.2H743.3V221.3H740.1zM740.1 215.3H743.3V218.5H740.1zM740.1 212.5H743.3V215.6H740.1zM740.1 206.8H743.3V210.0H740.1zM734.2 204.0H737.5V207.1H734.2zM740.1 204.0H743.3V207.1H740.1zM740.1 201.1H743.3V204.3H740.1zM737.2 198.3H740.4V201.4H737.2zM737.2 195.5H740.4V198.6H737.2zM743.0 195.5H746.3V198.6H743.0zM746.0 178.4H749.2V181.6H746.0zM748.9 169.9H752.1V173.0H748.9zM746.0 161.4H749.2V164.5H746.0zM746.0 158.5H749.2V161.7H746.0zM740.1 155.7H743.3V158.8H740.1zM731.3 152.8H737.5V156.0H731.3z"/>
<path fill="#c70000" d="M927.6 340.4H933.8V343.5H927.6zM915.9 331.8H919.1V335.0H915.9zM945.2 331.8H948.4V335.0H945.2zM830.9 329.0H834.2V332.1H830.9zM863.2 329.0H866.4V332.1H863.2zM769.4 326.2H772.6V329.3H769.4zM877.8 326.2H881.0V329.3H877.8zM892.5 326.2H895.7V329.3H892.5zM974.5 326.2H977.7V329.3H974.5zM769.4 323.3H775.6V326.5H769.4zM833.9 323.3H837.1V326.5H833.9zM895.4 323.3H898.6V326.5H895.4zM989.2 323.3H992.4V326.5H989.2zM860.2 320.5H863.5V323.6H860.2zM986.2 320.5H989.5V323.6H986.2zM775.3 317.6H778.5V320.8H775.3zM795.8 317.6H799.0V320.8H795.8zM854.4 317.6H860.5V320.8H854.4zM895.4 317.6H898.6V320.8H895.4zM992.1 317.6H998.2V320.8H992.1zM766.5 314.8H772.6V317.9H766.5zM775.3 314.8H778.5V317.9H775.3zM795.8 314.8H799.0V317.9H795.8zM895.4 314.8H898.6V317.9H895.4zM992.1 314.8H995.3V317.9H992.1zM757.7 312.0H760.9V315.1H757.7zM798.7 312.0H801.9V315.1H798.7zM854.4 312.0H857.6V315.1H854.4zM971.6 312.0H974.8V315.1H971.6zM980.4 312.0H983.6V315.1H980.4zM992.1 312.0H995.3V315.1H992.1zM997.9 312.0H1001.2V315.1H997.9zM854.4 309.1H857.6V312.3H854.4zM997.9 309.1H1001.2V312.3H997.9zM839.7 306.3H843.0V309.4H839.7zM980.4 306.3H983.6V309.4H980.4zM757.7 303.4H760.9V306.6H757.7zM778.2 303.4H781.4V306.6H778.2zM839.7 303.4H845.9V306.6H839.7zM851.4 303.4H854.7V306.6H851.4zM951.1 303.4H954.3V306.6H951.1zM983.3 303.4H986.5V306.6H983.3zM997.9 303.4H1001.2V306.6H997.9zM751.8 300.6H755.0V303.7H751.8zM763.5 300.6H766.8V303.7H763.5zM778.2 300.6H781.4V303.7H778.2zM795.8 300.6H799.0V303.7H795.8zM839.7 300.6H843.0V303.7H839.7zM851.4 300.6H854.7V303.7H851.4zM983.3 300.6H986.5V303.7H983.3zM751.8 297.7H755.0V300.9H751.8zM757.7 297.7H760.9V300.9H757.7zM763.5 297.7H769.7V300.9H763.5zM842.7 297.7H845.9V300.9H842.7zM854.4 297.7H857.6V300.9H854.4zM983.3 297.7H986.5V300.9H983.3zM751.8 294.9H755.0V298.0H751.8zM766.5 294.9H769.7V298.0H766.5zM845.6 294.9H848.8V298.0H845.6zM854.4 294.9H857.6V298.0H854.4zM898.3 294.9H901.5V298.0H898.3zM754.8 292.1H760.9V295.2H754.8zM763.5 292.1H766.8V295.2H763.5zM778.2 292.1H781.4V295.2H778.2zM795.8 292.1H799.0V295.2H795.8zM851.4 292.1H854.7V295.2H851.4zM751.8 289.2H755.0V292.4H751.8zM757.7 289.2H760.9V292.4H757.7zM778.2 289.2H781.4V292.4H778.2zM845.6 289.2H848.8V292.4H845.6zM851.4 289.2H854.7V292.4H851.4zM951.1 289.2H954.3V292.4H951.1zM956.9 289.2H960.2V292.4H956.9zM1000.9 289.2H1004.1V292.4H1000.9zM757.7 286.4H760.9V289.5H757.7zM795.8 286.4H799.0V289.5H795.8zM839.7 286.4H843.0V289.5H839.7zM845.6 286.4H848.8V289.5H845.6zM851.4 286.4H857.6V289.5H851.4zM898.3 286.4H901.5V289.5H898.3zM951.1 286.4H954.3V289.5H951.1zM956.9 286.4H960.2V289.5H956.9zM997.9 286.4H1001.2V289.5H997.9zM751.8 283.5H755.0V286.7H751.8zM760.6 283.5H766.8V286.7H760.6zM778.2 283.5H781.4V286.7H778.2zM795.8 283.5H799.0V286.7H795.8zM842.7 283.5H845.9V286.7H842.7zM851.4 283.5H857.6V286.7H851.4zM951.1 283.5H954.3V286.7H951.1zM956.9 283.5H963.1V286.7H956.9zM997.9 283.5H1001.2V286.7H997.9zM751.8 280.7H755.0V283.8H751.8zM760.6 280.7H763.8V283.8H760.6zM795.8 280.7H799.0V283.8H795.8zM842.7 280.7H845.9V283.8H842.7zM851.4 280.7H857.6V283.8H851.4zM898.3 280.7H901.5V283.8H898.3zM959.9 280.7H963.1V283.8H959.9zM751.8 277.9H755.0V281.0H751.8zM757.7 277.9H763.8V281.0H757.7zM795.8 277.9H799.0V281.0H795.8zM839.7 277.9H843.0V281.0H839.7zM851.4 277.9H860.5V281.0H851.4zM898.3 277.9H901.5V281.0H898.3zM956.9 277.9H963.1V281.0H956.9zM997.9 277.9H1001.2V281.0H997.9zM760.6 275.0H766.8V278.2H760.6zM845.6 275.0H851.7V278.2H845.6zM904.2 275.0H907.4V278.2H904.2zM959.9 275.0H963.1V278.2H959.9zM760.6 272.2H763.8V275.3H760.6zM795.8 272.2H799.0V275.3H795.8zM842.7 272.2H848.8V275.3H842.7zM851.4 272.2H854.7V275.3H851.4zM857.3 272.2H860.5V275.3H857.3zM898.3 272.2H901.5V275.3H898.3zM956.9 272.2H963.1V275.3H956.9zM995.0 272.2H998.2V275.3H995.0zM757.7 269.3H760.9V272.5H757.7zM795.8 269.3H799.0V272.5H795.8zM848.5 269.3H854.7V272.5H848.5zM898.3 269.3H901.5V272.5H898.3zM954.0 269.3H957.2V272.5H954.0zM997.9 269.3H1001.2V272.5H997.9zM751.8 266.5H755.0V269.6H751.8zM760.6 266.5H766.8V269.6H760.6zM795.8 266.5H799.0V269.6H795.8zM842.7 266.5H848.8V269.6H842.7zM851.4 266.5H854.7V269.6H851.4zM857.3 266.5H860.5V269.6H857.3zM898.3 266.5H901.5V269.6H898.3zM954.0 266.5H957.2V269.6H954.0zM1000.9 266.5H1004.1V269.6H1000.9zM760.6 263.6H763.8V266.8H760.6zM839.7 263.6H845.9V266.8H839.7zM851.4 263.6H860.5V266.8H851.4zM956.9 263.6H966.0V266.8H956.9zM983.3 263.6H986.5V266.8H983.3zM997.9 263.6H1001.2V266.8H997.9zM763.5 260.8H766.8V263.9H763.5zM781.1 260.8H784.4V263.9H781.1zM792.8 260.8H799.0V263.9H792.8zM845.6 260.8H851.7V263.9H845.6zM956.9 260.8H960.2V263.9H956.9zM751.8 258.0H755.0V261.1H751.8zM781.1 258.0H784.4V261.1H781.1zM904.2 258.0H907.4V261.1H904.2zM954.0 258.0H957.2V261.1H954.0zM962.8 258.0H966.0V261.1H962.8zM781.1 255.1H787.3V258.3H781.1zM904.2 255.1H907.4V258.3H904.2zM1000.9 255.1H1004.1V258.3H1000.9zM787.0 252.3H790.2V255.4H787.0zM962.8 252.3H966.0V255.4H962.8zM748.9 249.4H752.1V252.6H748.9zM792.8 249.4H796.1V252.6H792.8zM901.2 249.4H907.4V252.6H901.2zM968.6 249.4H971.9V252.6H968.6zM787.0 246.6H796.1V249.7H787.0zM746.0 243.8H752.1V246.9H746.0zM787.0 243.8H793.1V246.9H787.0zM965.7 243.8H968.9V246.9H965.7zM746.0 240.9H749.2V244.1H746.0zM968.6 240.9H971.9V244.1H968.6zM965.7 238.1H968.9V241.2H965.7zM743.0 235.2H746.3V238.4H743.0zM743.0 232.4H749.2V235.5H743.0zM740.1 226.7H743.3V229.9H740.1zM740.1 221.0H743.3V224.2H740.1zM737.2 218.2H740.4V221.3H737.2zM737.2 215.3H740.4V218.5H737.2zM734.2 212.5H740.4V215.6H734.2zM737.2 209.7H740.4V212.8H737.2zM737.2 206.8H740.4V210.0H737.2zM734.2 201.1H740.4V204.3H734.2zM734.2 198.3H737.5V201.4H734.2zM734.2 195.5H737.5V198.6H734.2zM740.1 195.5H743.3V198.6H740.1zM734.2 192.6H743.3V195.8H734.2zM740.1 189.8H743.3V192.9H740.1zM740.1 186.9H743.3V190.1H740.1zM743.0 181.3H746.3V184.4H743.0zM746.0 175.6H749.2V178.7H746.0zM746.0 172.7H749.2V175.9H746.0zM748.9 167.0H752.1V170.2H748.9zM748.9 164.2H752.1V167.3H748.9zM743.0 161.4H746.3V164.5H743.0zM734.2 158.5H737.5V161.7H734.2zM743.0 158.5H746.3V161.7H743.0zM731.3 155.7H734.5V158.8H731.3zM737.2 155.7H740.4V158.8H737.2zM743.0 155.7H746.3V158.8H743.0zM728.4 152.8H731.6V156.0H728.4z"/>
<path fill="#cf0000" d="M807.5 337.5H810.7V340.7H807.5zM819.2 337.5H822.4V340.7H819.2zM825.1 337.5H828.3V340.7H825.1zM880.7 334.7H884.0V337.8H880.7zM939.3 334.7H942.6V337.8H939.3zM830.9 331.8H834.2V335.0H830.9zM886.6 331.8H889.8V335.0H886.6zM910.0 331.8H913.3V335.0H910.0zM974.5 331.8H977.7V335.0H974.5zM892.5 329.0H895.7V332.1H892.5zM974.5 329.0H980.7V332.1H974.5zM772.3 326.2H775.6V329.3H772.3zM833.9 326.2H837.1V329.3H833.9zM895.4 326.2H898.6V329.3H895.4zM907.1 326.2H910.3V329.3H907.1zM913.0 326.2H916.2V329.3H913.0zM977.4 326.2H980.7V329.3H977.4zM907.1 323.3H910.3V326.5H907.1zM992.1 323.3H995.3V326.5H992.1zM801.6 320.5H804.9V323.6H801.6zM839.7 320.5H843.0V323.6H839.7zM857.3 320.5H860.5V323.6H857.3zM948.1 320.5H951.4V323.6H948.1zM971.6 320.5H974.8V323.6H971.6zM992.1 320.5H995.3V323.6H992.1zM766.5 317.6H769.7V320.8H766.5zM839.7 317.6H843.0V320.8H839.7zM851.4 317.6H854.7V320.8H851.4zM971.6 317.6H974.8V320.8H971.6zM751.8 314.8H755.0V317.9H751.8zM839.7 314.8H843.0V317.9H839.7zM851.4 314.8H857.6V317.9H851.4zM983.3 314.8H986.5V317.9H983.3zM766.5 312.0H769.7V315.1H766.5zM795.8 312.0H799.0V315.1H795.8zM839.7 312.0H843.0V315.1H839.7zM851.4 312.0H854.7V315.1H851.4zM857.3 312.0H860.5V315.1H857.3zM968.6 312.0H971.9V315.1H968.6zM754.8 309.1H760.9V312.3H754.8zM763.5 309.1H766.8V312.3H763.5zM778.2 309.1H781.4V312.3H778.2zM968.6 309.1H971.9V312.3H968.6zM983.3 309.1H986.5V312.3H983.3zM751.8 306.3H758.0V309.4H751.8zM763.5 306.3H766.8V309.4H763.5zM842.7 306.3H848.8V309.4H842.7zM851.4 306.3H857.6V309.4H851.4zM898.3 306.3H901.5V309.4H898.3zM951.1 306.3H960.2V309.4H951.1zM968.6 306.3H971.9V309.4H968.6zM983.3 306.3H986.5V309.4H983.3zM763.5 303.4H766.8V306.6H763.5zM845.6 303.4H851.7V306.6H845.6zM898.3 303.4H901.5V306.6H898.3zM956.9 303.4H960.2V306.6H956.9zM757.7 300.6H760.9V303.7H757.7zM842.7 300.6H848.8V303.7H842.7zM904.2 300.6H907.4V303.7H904.2zM956.9 300.6H960.2V303.7H956.9zM968.6 300.6H971.9V303.7H968.6zM1000.9 300.6H1004.1V303.7H1000.9zM760.6 297.7H763.8V300.9H760.6zM851.4 297.7H854.7V300.9H851.4zM951.1 297.7H954.3V300.9H951.1zM956.9 297.7H960.2V300.9H956.9zM757.7 294.9H763.8V298.0H757.7zM778.2 294.9H781.4V298.0H778.2zM848.5 294.9H854.7V298.0H848.5zM956.9 294.9H960.2V298.0H956.9zM1000.9 294.9H1004.1V298.0H1000.9zM751.8 292.1H755.0V295.2H751.8zM760.6 292.1H763.8V295.2H760.6zM848.5 292.1H851.7V295.2H848.5zM898.3 292.1H901.5V295.2H898.3zM904.2 292.1H907.4V295.2H904.2zM959.9 292.1H963.1V295.2H959.9zM1000.9 292.1H1004.1V295.2H1000.9zM760.6 289.2H766.8V292.4H760.6zM842.7 289.2H845.9V292.4H842.7zM848.5 289.2H851.7V292.4H848.5zM854.4 289.2H857.6V292.4H854.4zM898.3 289.2H901.5V292.4H898.3zM959.9 289.2H963.1V292.4H959.9zM968.6 289.2H971.9V292.4H968.6zM751.8 286.4H755.0V289.5H751.8zM763.5 286.4H766.8V289.5H763.5zM848.5 286.4H851.7V289.5H848.5zM845.6 283.5H848.8V286.7H845.6zM898.3 283.5H901.5V286.7H898.3zM904.2 283.5H907.4V286.7H904.2zM757.7 280.7H760.9V283.8H757.7zM763.5 280.7H766.8V283.8H763.5zM778.2 280.7H784.4V283.8H778.2zM848.5 280.7H851.7V283.8H848.5zM904.2 280.7H907.4V283.8H904.2zM968.6 280.7H971.9V283.8H968.6zM1000.9 280.7H1004.1V283.8H1000.9zM763.5 277.9H766.8V281.0H763.5zM781.1 277.9H784.4V281.0H781.1zM845.6 277.9H851.7V281.0H845.6zM954.0 277.9H957.2V281.0H954.0zM1000.9 277.9H1004.1V281.0H1000.9zM751.8 275.0H755.0V278.2H751.8zM778.2 275.0H784.4V278.2H778.2zM851.4 275.0H854.7V278.2H851.4zM954.0 275.0H957.2V278.2H954.0zM1000.9 275.0H1004.1V278.2H1000.9zM763.5 272.2H766.8V275.3H763.5zM781.1 272.2H784.4V275.3H781.1zM904.2 272.2H907.4V275.3H904.2zM954.0 272.2H957.2V275.3H954.0zM1000.9 272.2H1004.1V275.3H1000.9zM751.8 269.3H755.0V272.5H751.8zM778.2 269.3H784.4V272.5H778.2zM1000.9 269.3H1004.1V272.5H1000.9zM778.2 266.5H784.4V269.6H778.2zM848.5 266.5H851.7V269.6H848.5zM904.2 266.5H907.4V269.6H904.2zM962.8 266.5H966.0V269.6H962.8zM997.9 266.5H1001.2V269.6H997.9zM781.1 263.6H784.4V266.8H781.1zM795.8 263.6H799.0V266.8H795.8zM904.2 263.6H907.4V266.8H904.2zM954.0 263.6H957.2V266.8H954.0zM1000.9 263.6H1004.1V266.8H1000.9zM784.1 260.8H787.3V263.9H784.1zM789.9 260.8H793.1V263.9H789.9zM904.2 260.8H907.4V263.9H904.2zM954.0 260.8H957.2V263.9H954.0zM962.8 260.8H966.0V263.9H962.8zM763.5 258.0H766.8V261.1H763.5zM784.1 258.0H787.3V261.1H784.1zM792.8 258.0H796.1V261.1H792.8zM901.2 258.0H904.5V261.1H901.2zM968.6 258.0H971.9V261.1H968.6zM901.2 255.1H904.5V258.3H901.2zM968.6 255.1H971.9V258.3H968.6zM789.9 252.3H796.1V255.4H789.9zM901.2 252.3H904.5V255.4H901.2zM965.7 252.3H971.9V255.4H965.7zM746.0 249.4H749.2V252.6H746.0zM789.9 249.4H793.1V252.6H789.9zM965.7 249.4H968.9V252.6H965.7zM746.0 246.6H749.2V249.7H746.0zM962.8 246.6H968.9V249.7H962.8zM743.0 240.9H746.3V244.1H743.0zM743.0 238.1H746.3V241.2H743.0zM737.2 229.6H740.4V232.7H737.2zM734.2 223.9H740.4V227.0H734.2zM734.2 221.0H740.4V224.2H734.2zM734.2 218.2H737.5V221.3H734.2zM734.2 215.3H737.5V218.5H734.2zM734.2 209.7H737.5V212.8H734.2zM731.3 206.8H737.5V210.0H731.3zM731.3 204.0H734.5V207.1H731.3zM737.2 204.0H740.4V207.1H737.2zM731.3 201.1H734.5V204.3H731.3zM713.7 198.3H717.0V201.4H713.7zM731.3 195.5H734.5V198.6H731.3zM728.4 192.6H734.5V195.8H728.4zM731.3 189.8H734.5V192.9H731.3zM719.6 186.9H722.8V190.1H719.6zM737.2 186.9H740.4V190.1H737.2zM734.2 184.1H743.3V187.2H734.2zM740.1 181.3H743.3V184.4H740.1zM734.2 178.4H737.5V181.6H734.2zM743.0 178.4H746.3V181.6H743.0zM740.1 175.6H746.3V178.7H740.1zM743.0 172.7H746.3V175.9H743.0zM746.0 167.0H749.2V170.2H746.0zM728.4 158.5H734.5V161.7H728.4zM740.1 158.5H743.3V161.7H740.1zM728.4 155.7H731.6V158.8H728.4zM734.2 155.7H737.5V158.8H734.2z"/>
<path fill="#d80000" d="M927.6 343.2H930.9V346.3H927.6zM921.8 340.4H925.0V343.5H921.8zM866.1 337.5H869.3V340.7H866.1zM939.3 337.5H942.6V340.7H939.3zM828.0 334.7H831.2V337.8H828.0zM869.0 334.7H878.1V337.8H869.0zM942.3 334.7H945.5V337.8H942.3zM804.6 331.8H807.8V335.0H804.6zM863.2 331.8H866.4V335.0H863.2zM892.5 331.8H895.7V335.0H892.5zM769.4 329.0H775.6V332.1H769.4zM813.4 329.0H816.6V332.1H813.4zM822.1 329.0H825.4V332.1H822.1zM889.5 329.0H892.8V332.1H889.5zM895.4 329.0H898.6V332.1H895.4zM907.1 329.0H910.3V332.1H907.1zM989.2 329.0H992.4V332.1H989.2zM836.8 326.2H840.0V329.3H836.8zM989.2 326.2H995.3V329.3H989.2zM795.8 323.3H799.0V326.5H795.8zM836.8 323.3H843.0V326.5H836.8zM854.4 323.3H857.6V326.5H854.4zM860.2 323.3H863.5V326.5H860.2zM766.5 320.5H769.7V323.6H766.5zM775.3 320.5H778.5V323.6H775.3zM795.8 320.5H799.0V323.6H795.8zM995.0 320.5H1001.2V323.6H995.0zM898.3 317.6H901.5V320.8H898.3zM997.9 317.6H1001.2V320.8H997.9zM754.8 314.8H760.9V317.9H754.8zM778.2 314.8H781.4V317.9H778.2zM798.7 314.8H801.9V317.9H798.7zM857.3 314.8H860.5V317.9H857.3zM898.3 314.8H901.5V317.9H898.3zM968.6 314.8H971.9V317.9H968.6zM997.9 314.8H1001.2V317.9H997.9zM754.8 312.0H758.0V315.1H754.8zM763.5 312.0H766.8V315.1H763.5zM778.2 312.0H781.4V315.1H778.2zM904.2 312.0H907.4V315.1H904.2zM956.9 312.0H960.2V315.1H956.9zM983.3 312.0H986.5V315.1H983.3zM751.8 309.1H755.0V312.3H751.8zM760.6 309.1H763.8V312.3H760.6zM842.7 309.1H851.7V312.3H842.7zM898.3 309.1H901.5V312.3H898.3zM904.2 309.1H907.4V312.3H904.2zM956.9 309.1H960.2V312.3H956.9zM1000.9 309.1H1004.1V312.3H1000.9zM757.7 306.3H760.9V309.4H757.7zM778.2 306.3H784.4V309.4H778.2zM1000.9 306.3H1004.1V309.4H1000.9zM751.8 303.4H755.0V306.6H751.8zM760.6 303.4H763.8V306.6H760.6zM792.8 303.4H796.1V306.6H792.8zM904.2 303.4H907.4V306.6H904.2zM954.0 303.4H957.2V306.6H954.0zM959.9 303.4H966.0V306.6H959.9zM968.6 303.4H971.9V306.6H968.6zM1000.9 303.4H1004.1V306.6H1000.9zM760.6 300.6H763.8V303.7H760.6zM848.5 300.6H851.7V303.7H848.5zM954.0 300.6H957.2V303.7H954.0zM959.9 300.6H966.0V303.7H959.9zM781.1 297.7H784.4V300.9H781.1zM792.8 297.7H796.1V300.9H792.8zM845.6 297.7H851.7V300.9H845.6zM898.3 297.7H901.5V300.9H898.3zM904.2 297.7H907.4V300.9H904.2zM954.0 297.7H957.2V300.9H954.0zM968.6 297.7H971.9V300.9H968.6zM1000.9 297.7H1004.1V300.9H1000.9zM763.5 294.9H766.8V298.0H763.5zM781.1 294.9H784.4V298.0H781.1zM904.2 294.9H907.4V298.0H904.2zM959.9 294.9H963.1V298.0H959.9zM965.7 294.9H971.9V298.0H965.7zM781.1 292.1H784.4V295.2H781.1zM792.8 292.1H796.1V295.2H792.8zM845.6 292.1H848.8V295.2H845.6zM954.0 292.1H960.2V295.2H954.0zM962.8 292.1H971.9V295.2H962.8zM781.1 289.2H784.4V292.4H781.1zM792.8 289.2H796.1V292.4H792.8zM904.2 289.2H907.4V292.4H904.2zM954.0 289.2H957.2V292.4H954.0zM760.6 286.4H763.8V289.5H760.6zM792.8 286.4H796.1V289.5H792.8zM904.2 286.4H907.4V289.5H904.2zM954.0 286.4H957.2V289.5H954.0zM959.9 286.4H963.1V289.5H959.9zM968.6 286.4H971.9V289.5H968.6zM1000.9 286.4H1004.1V289.5H1000.9zM781.1 283.5H784.4V286.7H781.1zM792.8 283.5H796.1V286.7H792.8zM954.0 283.5H957.2V286.7H954.0zM962.8 283.5H966.0V286.7H962.8zM968.6 283.5H971.9V286.7H968.6zM1000.9 283.5H1004.1V286.7H1000.9zM784.1 280.7H787.3V283.8H784.1zM845.6 280.7H848.8V283.8H845.6zM954.0 280.7H960.2V283.8H954.0zM784.1 277.9H787.3V281.0H784.1zM792.8 277.9H796.1V281.0H792.8zM748.9 275.0H752.1V278.2H748.9zM968.6 275.0H971.9V278.2H968.6zM784.1 272.2H790.2V275.3H784.1zM848.5 272.2H851.7V275.3H848.5zM962.8 272.2H966.0V275.3H962.8zM1003.8 272.2H1007.0V275.3H1003.8zM784.1 269.3H787.3V272.5H784.1zM792.8 269.3H796.1V272.5H792.8zM901.2 269.3H907.4V272.5H901.2zM968.6 269.3H971.9V272.5H968.6zM748.9 266.5H752.1V269.6H748.9zM784.1 266.5H790.2V269.6H784.1zM792.8 266.5H796.1V269.6H792.8zM901.2 266.5H904.5V269.6H901.2zM965.7 266.5H968.9V269.6H965.7zM1003.8 266.5H1007.0V269.6H1003.8zM748.9 263.6H752.1V266.8H748.9zM784.1 263.6H787.3V266.8H784.1zM968.6 263.6H971.9V266.8H968.6zM901.2 260.8H904.5V263.9H901.2zM965.7 260.8H968.9V263.9H965.7zM748.9 258.0H752.1V261.1H748.9zM787.0 258.0H790.2V261.1H787.0zM965.7 258.0H968.9V261.1H965.7zM743.0 255.1H752.1V258.3H743.0zM787.0 255.1H796.1V258.3H787.0zM965.7 255.1H968.9V258.3H965.7zM746.0 252.3H749.2V255.4H746.0zM743.0 249.4H746.3V252.6H743.0zM743.0 243.8H746.3V246.9H743.0zM737.2 235.2H743.3V238.4H737.2zM737.2 232.4H743.3V235.5H737.2zM740.1 229.6H743.3V232.7H740.1zM734.2 226.7H740.4V229.9H734.2zM722.5 209.7H725.8V212.8H722.5zM731.3 209.7H734.5V212.8H731.3zM722.5 201.1H725.8V204.3H722.5zM722.5 198.3H725.8V201.4H722.5zM731.3 198.3H734.5V201.4H731.3zM719.6 195.5H722.8V198.6H719.6zM716.7 192.6H728.7V195.8H716.7zM722.5 189.8H725.8V192.9H722.5zM734.2 189.8H740.4V192.9H734.2zM728.4 186.9H737.5V190.1H728.4zM719.6 184.1H725.8V187.2H719.6zM719.6 181.3H725.8V184.4H719.6zM734.2 181.3H737.5V184.4H734.2zM737.2 178.4H740.4V181.6H737.2zM746.0 169.9H749.2V173.0H746.0zM743.0 167.0H746.3V170.2H743.0zM743.0 164.2H749.2V167.3H743.0zM740.1 161.4H743.3V164.5H740.1zM737.2 158.5H740.4V161.7H737.2z"/>
<path fill="#e00000" d="M924.7 343.2H927.9V346.3H924.7zM930.6 343.2H933.8V346.3H930.6zM933.5 340.4H936.7V343.5H933.5zM810.4 337.5H813.6V340.7H810.4zM936.4 337.5H939.6V340.7H936.4zM942.3 337.5H945.5V340.7H942.3zM816.3 334.7H819.5V337.8H816.3zM886.6 334.7H889.8V337.8H886.6zM915.9 334.7H922.1V337.8H915.9zM945.2 334.7H948.4V337.8H945.2zM769.4 331.8H775.6V335.0H769.4zM907.1 331.8H910.3V335.0H907.1zM977.4 331.8H980.7V335.0H977.4zM795.8 326.2H799.0V329.3H795.8zM986.2 326.2H989.5V329.3H986.2zM995.0 326.2H998.2V329.3H995.0zM766.5 323.3H769.7V326.5H766.5zM801.6 323.3H804.9V326.5H801.6zM986.2 323.3H989.5V326.5H986.2zM995.0 323.3H998.2V326.5H995.0zM851.4 320.5H857.6V323.6H851.4zM954.0 320.5H957.2V323.6H954.0zM968.6 320.5H971.9V323.6H968.6zM754.8 317.6H760.9V320.8H754.8zM778.2 317.6H781.4V320.8H778.2zM845.6 317.6H848.8V320.8H845.6zM904.2 317.6H907.4V320.8H904.2zM968.6 317.6H971.9V320.8H968.6zM983.3 317.6H986.5V320.8H983.3zM763.5 314.8H766.8V317.9H763.5zM792.8 314.8H796.1V317.9H792.8zM845.6 314.8H851.7V317.9H845.6zM904.2 314.8H907.4V317.9H904.2zM954.0 314.8H960.2V317.9H954.0zM1000.9 314.8H1004.1V317.9H1000.9zM751.8 312.0H755.0V315.1H751.8zM792.8 312.0H796.1V315.1H792.8zM842.7 312.0H851.7V315.1H842.7zM898.3 312.0H901.5V315.1H898.3zM951.1 312.0H957.2V315.1H951.1zM962.8 312.0H966.0V315.1H962.8zM1000.9 312.0H1004.1V315.1H1000.9zM781.1 309.1H784.4V312.3H781.1zM792.8 309.1H796.1V312.3H792.8zM951.1 309.1H957.2V312.3H951.1zM965.7 309.1H968.9V312.3H965.7zM760.6 306.3H763.8V309.4H760.6zM792.8 306.3H796.1V309.4H792.8zM848.5 306.3H851.7V309.4H848.5zM901.2 306.3H907.4V309.4H901.2zM962.8 306.3H968.9V309.4H962.8zM781.1 303.4H787.3V306.6H781.1zM965.7 303.4H968.9V306.6H965.7zM784.1 300.6H787.3V303.7H784.1zM792.8 300.6H796.1V303.7H792.8zM898.3 300.6H904.5V303.7H898.3zM965.7 300.6H968.9V303.7H965.7zM959.9 297.7H963.1V300.9H959.9zM965.7 297.7H968.9V300.9H965.7zM784.1 294.9H787.3V298.0H784.1zM792.8 294.9H796.1V298.0H792.8zM954.0 294.9H957.2V298.0H954.0zM901.2 292.1H904.5V295.2H901.2zM784.1 289.2H787.3V292.4H784.1zM962.8 289.2H966.0V292.4H962.8zM1003.8 289.2H1007.0V292.4H1003.8zM781.1 286.4H787.3V289.5H781.1zM901.2 286.4H904.5V289.5H901.2zM962.8 286.4H966.0V289.5H962.8zM748.9 283.5H752.1V286.7H748.9zM784.1 283.5H787.3V286.7H784.1zM901.2 283.5H904.5V286.7H901.2zM748.9 280.7H752.1V283.8H748.9zM787.0 280.7H790.2V283.8H787.0zM792.8 280.7H796.1V283.8H792.8zM901.2 280.7H904.5V283.8H901.2zM962.8 280.7H968.9V283.8H962.8zM901.2 277.9H904.5V281.0H901.2zM965.7 277.9H971.9V281.0H965.7zM789.9 275.0H796.1V278.2H789.9zM901.2 275.0H904.5V278.2H901.2zM962.8 275.0H966.0V278.2H962.8zM748.9 272.2H752.1V275.3H748.9zM789.9 272.2H796.1V275.3H789.9zM901.2 272.2H904.5V275.3H901.2zM968.6 272.2H971.9V275.3H968.6zM748.9 269.3H752.1V272.5H748.9zM787.0 269.3H793.1V272.5H787.0zM962.8 269.3H968.9V272.5H962.8zM1003.8 269.3H1007.0V272.5H1003.8zM789.9 266.5H793.1V269.6H789.9zM787.0 263.6H796.1V266.8H787.0zM901.2 263.6H904.5V266.8H901.2zM746.0 260.8H752.1V263.9H746.0zM787.0 260.8H790.2V263.9H787.0zM968.6 260.8H971.9V263.9H968.6zM789.9 258.0H793.1V261.1H789.9zM743.0 252.3H746.3V255.4H743.0zM740.1 249.4H743.3V252.6H740.1zM740.1 240.9H743.3V244.1H740.1zM740.1 238.1H743.3V241.2H740.1zM734.2 232.4H737.5V235.5H734.2zM734.2 229.6H737.5V232.7H734.2zM731.3 221.0H734.5V224.2H731.3zM725.5 218.2H728.7V221.3H725.5zM731.3 218.2H734.5V221.3H731.3zM731.3 215.3H734.5V218.5H731.3zM722.5 212.5H725.8V215.6H722.5zM731.3 212.5H734.5V215.6H731.3zM713.7 206.8H717.0V210.0H713.7zM725.5 206.8H728.7V210.0H725.5zM719.6 204.0H731.6V207.1H719.6zM713.7 201.1H717.0V204.3H713.7zM719.6 201.1H722.8V204.3H719.6zM725.5 201.1H728.7V204.3H725.5zM719.6 198.3H722.8V201.4H719.6zM725.5 198.3H731.6V201.4H725.5zM716.7 195.5H719.9V198.6H716.7zM722.5 195.5H725.8V198.6H722.5zM728.4 195.5H731.6V198.6H728.4zM716.7 189.8H722.8V192.9H716.7zM725.5 189.8H731.6V192.9H725.5zM716.7 186.9H719.9V190.1H716.7zM722.5 186.9H728.7V190.1H722.5zM731.3 184.1H734.5V187.2H731.3zM731.3 181.3H734.5V184.4H731.3zM737.2 181.3H740.4V184.4H737.2zM740.1 178.4H743.3V181.6H740.1zM731.3 175.6H740.4V178.7H731.3zM737.2 172.7H743.3V175.9H737.2zM734.2 169.9H737.5V173.0H734.2zM743.0 169.9H746.3V173.0H743.0zM734.2 167.0H740.4V170.2H734.2zM731.3 164.2H737.5V167.3H731.3zM725.5 161.4H728.7V164.5H725.5zM731.3 161.4H740.4V164.5H731.3z"/>
<path fill="#e80000" d="M807.5 340.4H810.7V343.5H807.5zM866.1 340.4H869.3V343.5H866.1zM772.3 334.7H775.6V337.8H772.3zM830.9 334.7H834.2V337.8H830.9zM863.2 334.7H866.4V337.8H863.2zM910.0 334.7H913.3V337.8H910.0zM977.4 334.7H980.7V337.8H977.4zM986.2 331.8H992.4V335.0H986.2zM836.8 329.0H843.0V332.1H836.8zM913.0 329.0H916.2V332.1H913.0zM986.2 329.0H989.5V332.1H986.2zM995.0 329.0H998.2V332.1H995.0zM766.5 326.2H769.7V329.3H766.5zM839.7 326.2H843.0V329.3H839.7zM854.4 326.2H857.6V329.3H854.4zM775.3 323.3H778.5V326.5H775.3zM851.4 323.3H854.7V326.5H851.4zM857.3 323.3H860.5V326.5H857.3zM948.1 323.3H951.4V326.5H948.1zM971.6 323.3H974.8V326.5H971.6zM983.3 323.3H986.5V326.5H983.3zM997.9 323.3H1001.2V326.5H997.9zM751.8 320.5H755.0V323.6H751.8zM757.7 320.5H760.9V323.6H757.7zM778.2 320.5H781.4V323.6H778.2zM848.5 320.5H851.7V323.6H848.5zM898.3 320.5H901.5V323.6H898.3zM904.2 320.5H907.4V323.6H904.2zM983.3 320.5H986.5V323.6H983.3zM751.8 317.6H755.0V320.8H751.8zM760.6 317.6H763.8V320.8H760.6zM798.7 317.6H801.9V320.8H798.7zM848.5 317.6H851.7V320.8H848.5zM956.9 317.6H960.2V320.8H956.9zM1000.9 317.6H1004.1V320.8H1000.9zM760.6 314.8H763.8V317.9H760.6zM951.1 314.8H954.3V317.9H951.1zM965.7 314.8H968.9V317.9H965.7zM760.6 312.0H763.8V315.1H760.6zM781.1 312.0H784.4V315.1H781.1zM784.1 309.1H787.3V312.3H784.1zM901.2 309.1H904.5V312.3H901.2zM962.8 309.1H966.0V312.3H962.8zM959.9 306.3H963.1V309.4H959.9zM787.0 303.4H790.2V306.6H787.0zM901.2 303.4H904.5V306.6H901.2zM1003.8 303.4H1007.0V306.6H1003.8zM781.1 300.6H784.4V303.7H781.1zM787.0 300.6H790.2V303.7H787.0zM746.0 297.7H749.2V300.9H746.0zM784.1 297.7H787.3V300.9H784.1zM962.8 297.7H966.0V300.9H962.8zM1003.8 297.7H1007.0V300.9H1003.8zM962.8 294.9H966.0V298.0H962.8zM784.1 292.1H787.3V295.2H784.1zM748.9 289.2H752.1V292.4H748.9zM787.0 289.2H790.2V292.4H787.0zM901.2 289.2H904.5V292.4H901.2zM965.7 289.2H968.9V292.4H965.7zM746.0 286.4H752.1V289.5H746.0zM965.7 286.4H968.9V289.5H965.7zM1003.8 286.4H1007.0V289.5H1003.8zM787.0 283.5H790.2V286.7H787.0zM965.7 283.5H968.9V286.7H965.7zM1003.8 283.5H1007.0V286.7H1003.8zM746.0 280.7H749.2V283.8H746.0zM746.0 277.9H752.1V281.0H746.0zM787.0 277.9H793.1V281.0H787.0zM962.8 277.9H966.0V281.0H962.8zM1003.8 277.9H1007.0V281.0H1003.8zM784.1 275.0H790.2V278.2H784.1zM965.7 275.0H968.9V278.2H965.7zM1003.8 275.0H1007.0V278.2H1003.8zM746.0 272.2H749.2V275.3H746.0zM965.7 272.2H968.9V275.3H965.7zM746.0 266.5H749.2V269.6H746.0zM968.6 266.5H971.9V269.6H968.6zM743.0 263.6H746.3V266.8H743.0zM965.7 263.6H968.9V266.8H965.7zM1003.8 263.6H1007.0V266.8H1003.8zM743.0 260.8H746.3V263.9H743.0zM734.2 246.6H737.5V249.7H734.2zM740.1 246.6H746.3V249.7H740.1zM737.2 243.8H743.3V246.9H737.2zM734.2 240.9H737.5V244.1H734.2zM734.2 238.1H740.4V241.2H734.2zM734.2 235.2H737.5V238.4H734.2zM731.3 229.6H734.5V232.7H731.3zM731.3 226.7H734.5V229.9H731.3zM731.3 223.9H734.5V227.0H731.3zM719.6 218.2H725.8V221.3H719.6zM725.5 215.3H728.7V218.5H725.5zM728.4 212.5H731.6V215.6H728.4zM725.5 209.7H728.7V212.8H725.5zM710.8 206.8H714.0V210.0H710.8zM719.6 206.8H725.8V210.0H719.6zM713.7 204.0H719.9V207.1H713.7zM716.7 201.1H719.9V204.3H716.7zM728.4 201.1H731.6V204.3H728.4zM716.7 198.3H719.9V201.4H716.7zM725.5 195.5H728.7V198.6H725.5zM725.5 184.1H731.6V187.2H725.5zM725.5 181.3H731.6V184.4H725.5zM719.6 178.4H728.7V181.6H719.6zM725.5 175.6H728.7V178.7H725.5zM722.5 172.7H728.7V175.9H722.5zM731.3 172.7H737.5V175.9H731.3zM722.5 169.9H725.8V173.0H722.5zM737.2 169.9H743.3V173.0H737.2zM737.2 164.2H743.3V167.3H737.2z"/>
<path fill="#f10000" d="M939.3 340.4H945.5V343.5H939.3zM828.0 337.5H831.2V340.7H828.0zM880.7 337.5H884.0V340.7H880.7zM886.6 337.5H889.8V340.7H886.6zM915.9 337.5H922.1V340.7H915.9zM804.6 334.7H807.8V337.8H804.6zM892.5 334.7H895.7V337.8H892.5zM907.1 334.7H910.3V337.8H907.1zM974.5 334.7H977.7V337.8H974.5zM889.5 331.8H892.8V335.0H889.5zM895.4 331.8H898.6V335.0H895.4zM992.1 331.8H995.3V335.0H992.1zM795.8 329.0H799.0V332.1H795.8zM833.9 329.0H837.1V332.1H833.9zM877.8 329.0H881.0V332.1H877.8zM992.1 329.0H995.3V332.1H992.1zM997.9 329.0H1001.2V332.1H997.9zM851.4 326.2H854.7V329.3H851.4zM860.2 326.2H863.5V329.3H860.2zM997.9 326.2H1001.2V329.3H997.9zM754.8 323.3H760.9V326.5H754.8zM898.3 323.3H901.5V326.5H898.3zM954.0 323.3H957.2V326.5H954.0zM754.8 320.5H758.0V323.6H754.8zM760.6 320.5H766.8V323.6H760.6zM792.8 320.5H796.1V323.6H792.8zM845.6 320.5H848.8V323.6H845.6zM956.9 320.5H960.2V323.6H956.9zM763.5 317.6H766.8V320.8H763.5zM781.1 317.6H784.4V320.8H781.1zM792.8 317.6H796.1V320.8H792.8zM954.0 317.6H957.2V320.8H954.0zM962.8 317.6H968.9V320.8H962.8zM1015.5 317.6H1018.8V320.8H1015.5zM781.1 314.8H787.3V317.9H781.1zM901.2 314.8H904.5V317.9H901.2zM962.8 314.8H966.0V317.9H962.8zM784.1 312.0H790.2V315.1H784.1zM965.7 312.0H968.9V315.1H965.7zM787.0 309.1H790.2V312.3H787.0zM959.9 309.1H963.1V312.3H959.9zM746.0 306.3H749.2V309.4H746.0zM784.1 306.3H787.3V309.4H784.1zM1003.8 306.3H1010.0V309.4H1003.8zM748.9 300.6H752.1V303.7H748.9zM748.9 297.7H752.1V300.9H748.9zM787.0 297.7H790.2V300.9H787.0zM901.2 297.7H904.5V300.9H901.2zM748.9 294.9H752.1V298.0H748.9zM787.0 294.9H790.2V298.0H787.0zM901.2 294.9H904.5V298.0H901.2zM1003.8 294.9H1007.0V298.0H1003.8zM1009.7 294.9H1012.9V298.0H1009.7zM746.0 292.1H752.1V295.2H746.0zM787.0 292.1H793.1V295.2H787.0zM1003.8 292.1H1007.0V295.2H1003.8zM1009.7 292.1H1012.9V295.2H1009.7zM746.0 289.2H749.2V292.4H746.0zM789.9 289.2H793.1V292.4H789.9zM787.0 286.4H790.2V289.5H787.0zM746.0 283.5H749.2V286.7H746.0zM789.9 283.5H793.1V286.7H789.9zM1003.8 280.7H1010.0V283.8H1003.8zM1006.7 277.9H1010.0V281.0H1006.7zM746.0 275.0H749.2V278.2H746.0zM743.0 269.3H749.2V272.5H743.0zM743.0 266.5H746.3V269.6H743.0zM746.0 263.6H749.2V266.8H746.0zM743.0 258.0H749.2V261.1H743.0zM740.1 252.3H743.3V255.4H740.1zM737.2 249.4H740.4V252.6H737.2zM737.2 246.6H740.4V249.7H737.2zM737.2 240.9H740.4V244.1H737.2zM731.3 232.4H734.5V235.5H731.3zM728.4 226.7H731.6V229.9H728.4zM728.4 223.9H731.6V227.0H728.4zM722.5 215.3H725.8V218.5H722.5zM710.8 212.5H714.0V215.6H710.8zM719.6 212.5H722.8V215.6H719.6zM725.5 212.5H728.7V215.6H725.5zM710.8 209.7H717.0V212.8H710.8zM719.6 209.7H722.8V212.8H719.6zM728.4 209.7H731.6V212.8H728.4zM716.7 206.8H719.9V210.0H716.7zM728.4 206.8H731.6V210.0H728.4zM728.4 178.4H734.5V181.6H728.4zM722.5 175.6H725.8V178.7H722.5zM728.4 172.7H731.6V175.9H728.4zM725.5 169.9H734.5V173.0H725.5zM740.1 167.0H743.3V170.2H740.1zM725.5 164.2H731.6V167.3H725.5zM728.4 161.4H731.6V164.5H728.4z"/>
<path fill="#f90000" d="M883.7 354.6H886.9V357.7H883.7zM921.8 343.2H925.0V346.3H921.8zM825.1 340.4H828.3V343.5H825.1zM772.3 337.5H775.6V340.7H772.3zM869.0 337.5H872.2V340.7H869.0zM910.0 337.5H913.3V340.7H910.0zM769.4 334.7H772.6V337.8H769.4zM895.4 334.7H898.6V337.8H895.4zM813.4 331.8H816.6V335.0H813.4zM836.8 331.8H843.0V335.0H836.8zM995.0 331.8H998.2V335.0H995.0zM781.1 329.0H784.4V332.1H781.1zM851.4 329.0H860.5V332.1H851.4zM980.4 329.0H983.6V332.1H980.4zM775.3 326.2H778.5V329.3H775.3zM857.3 326.2H860.5V329.3H857.3zM898.3 326.2H901.5V329.3H898.3zM904.2 326.2H907.4V329.3H904.2zM954.0 326.2H960.2V329.3H954.0zM971.6 326.2H974.8V329.3H971.6zM983.3 326.2H986.5V329.3H983.3zM751.8 323.3H755.0V326.5H751.8zM760.6 323.3H766.8V326.5H760.6zM845.6 323.3H851.7V326.5H845.6zM904.2 323.3H907.4V326.5H904.2zM968.6 323.3H971.9V326.5H968.6zM781.1 320.5H787.3V323.6H781.1zM901.2 320.5H904.5V323.6H901.2zM1000.9 320.5H1004.1V323.6H1000.9zM951.1 317.6H954.3V320.8H951.1zM787.0 314.8H790.2V317.9H787.0zM842.7 314.8H845.9V317.9H842.7zM743.0 312.0H746.3V315.1H743.0zM748.9 312.0H752.1V315.1H748.9zM901.2 312.0H904.5V315.1H901.2zM746.0 309.1H749.2V312.3H746.0zM1003.8 309.1H1007.0V312.3H1003.8zM1009.7 309.1H1012.9V312.3H1009.7zM743.0 306.3H746.3V309.4H743.0zM748.9 306.3H752.1V309.4H748.9zM787.0 306.3H790.2V309.4H787.0zM1012.6 306.3H1015.8V309.4H1012.6zM746.0 303.4H749.2V306.6H746.0zM1012.6 303.4H1015.8V306.6H1012.6zM743.0 300.6H749.2V303.7H743.0zM1003.8 300.6H1007.0V303.7H1003.8zM789.9 297.7H793.1V300.9H789.9zM1006.7 297.7H1012.9V300.9H1006.7zM743.0 294.9H749.2V298.0H743.0zM789.9 294.9H793.1V298.0H789.9zM1006.7 294.9H1010.0V298.0H1006.7zM1006.7 292.1H1010.0V295.2H1006.7zM743.0 289.2H746.3V292.4H743.0zM1006.7 289.2H1012.9V292.4H1006.7zM743.0 286.4H746.3V289.5H743.0zM789.9 286.4H793.1V289.5H789.9zM1006.7 286.4H1010.0V289.5H1006.7zM743.0 283.5H746.3V286.7H743.0zM1006.7 283.5H1010.0V286.7H1006.7zM743.0 280.7H746.3V283.8H743.0zM789.9 280.7H793.1V283.8H789.9zM743.0 277.9H746.3V281.0H743.0zM740.1 275.0H743.3V278.2H740.1zM743.0 272.2H746.3V275.3H743.0zM740.1 263.6H743.3V266.8H740.1zM740.1 260.8H743.3V263.9H740.1zM740.1 258.0H743.3V261.1H740.1zM740.1 255.1H743.3V258.3H740.1zM734.2 249.4H737.5V252.6H734.2zM734.2 243.8H737.5V246.9H734.2zM731.3 235.2H734.5V238.4H731.3zM722.5 229.6H725.8V232.7H722.5zM722.5 226.7H725.8V229.9H722.5zM725.5 223.9H728.7V227.0H725.5zM722.5 221.0H731.6V224.2H722.5zM710.8 218.2H714.0V221.3H710.8zM728.4 218.2H731.6V221.3H728.4zM710.8 215.3H717.0V218.5H710.8zM719.6 215.3H722.8V218.5H719.6zM713.7 212.5H719.9V215.6H713.7zM716.7 209.7H719.9V212.8H716.7zM728.4 175.6H731.6V178.7H728.4zM725.5 167.0H734.5V170.2H725.5z"/>
<path fill="#ff0200" d="M936.4 340.4H939.6V343.5H936.4zM892.5 337.5H895.7V340.7H892.5zM907.1 337.5H910.3V340.7H907.1zM945.2 337.5H948.4V340.7H945.2zM839.7 334.7H843.0V337.8H839.7zM889.5 334.7H892.8V337.8H889.5zM995.0 334.7H998.2V337.8H995.0zM833.9 331.8H837.1V335.0H833.9zM997.9 331.8H1001.2V335.0H997.9zM754.8 329.0H758.0V332.1H754.8zM763.5 329.0H769.7V332.1H763.5zM904.2 329.0H907.4V332.1H904.2zM956.9 329.0H960.2V332.1H956.9zM968.6 329.0H971.9V332.1H968.6zM754.8 326.2H766.8V329.3H754.8zM778.2 326.2H784.4V329.3H778.2zM948.1 326.2H951.4V329.3H948.1zM778.2 323.3H784.4V326.5H778.2zM956.9 323.3H960.2V326.5H956.9zM962.8 323.3H968.9V326.5H962.8zM1000.9 323.3H1007.0V326.5H1000.9zM798.7 320.5H801.9V323.6H798.7zM962.8 320.5H968.9V323.6H962.8zM746.0 317.6H749.2V320.8H746.0zM1003.8 317.6H1007.0V320.8H1003.8zM743.0 314.8H749.2V317.9H743.0zM959.9 314.8H963.1V317.9H959.9zM1003.8 314.8H1007.0V317.9H1003.8zM746.0 312.0H749.2V315.1H746.0zM959.9 312.0H963.1V315.1H959.9zM1003.8 312.0H1007.0V315.1H1003.8zM743.0 309.1H746.3V312.3H743.0zM1006.7 309.1H1010.0V312.3H1006.7zM1012.6 309.1H1015.8V312.3H1012.6zM1009.7 306.3H1012.9V309.4H1009.7zM743.0 303.4H746.3V306.6H743.0zM748.9 303.4H752.1V306.6H748.9zM1006.7 303.4H1012.9V306.6H1006.7zM1006.7 300.6H1010.0V303.7H1006.7zM743.0 297.7H746.3V300.9H743.0zM743.0 292.1H746.3V295.2H743.0zM737.2 275.0H740.4V278.2H737.2zM743.0 275.0H746.3V278.2H743.0zM740.1 272.2H743.3V275.3H740.1zM740.1 269.3H743.3V272.5H740.1zM737.2 263.6H740.4V266.8H737.2zM734.2 260.8H737.5V263.9H734.2zM734.2 258.0H737.5V261.1H734.2zM734.2 252.3H740.4V255.4H734.2zM731.3 246.6H734.5V249.7H731.3zM731.3 240.9H734.5V244.1H731.3zM731.3 238.1H734.5V241.2H731.3zM716.7 229.6H719.9V232.7H716.7zM728.4 229.6H731.6V232.7H728.4zM719.6 226.7H722.8V229.9H719.6zM719.6 223.9H725.8V227.0H719.6zM710.8 221.0H714.0V224.2H710.8zM716.7 221.0H719.9V224.2H716.7zM713.7 218.2H719.9V221.3H713.7zM716.7 215.3H719.9V218.5H716.7zM728.4 215.3H731.6V218.5H728.4z"/>
<path fill="#ff0b00" d="M924.7 346.0H927.9V349.2H924.7zM939.3 343.2H942.6V346.3H939.3zM819.2 340.4H822.4V343.5H819.2zM874.9 337.5H878.1V340.7H874.9zM895.4 337.5H898.6V340.7H895.4zM977.4 337.5H980.7V340.7H977.4zM836.8 334.7H840.0V337.8H836.8zM851.4 334.7H854.7V337.8H851.4zM986.2 334.7H995.3V337.8H986.2zM766.5 331.8H769.7V335.0H766.5zM795.8 331.8H799.0V335.0H795.8zM822.1 331.8H825.4V335.0H822.1zM851.4 331.8H857.6V335.0H851.4zM913.0 331.8H916.2V335.0H913.0zM954.0 331.8H960.2V335.0H954.0zM980.4 331.8H983.6V335.0H980.4zM1018.5 331.8H1021.7V335.0H1018.5zM848.5 329.0H851.7V332.1H848.5zM860.2 329.0H863.5V332.1H860.2zM898.3 329.0H901.5V332.1H898.3zM954.0 329.0H957.2V332.1H954.0zM801.6 326.2H804.9V329.3H801.6zM845.6 326.2H851.7V329.3H845.6zM962.8 326.2H971.9V329.3H962.8zM1000.9 326.2H1004.1V329.3H1000.9zM746.0 323.3H749.2V326.5H746.0zM784.1 323.3H787.3V326.5H784.1zM792.8 323.3H796.1V326.5H792.8zM746.0 320.5H749.2V323.6H746.0zM1003.8 320.5H1007.0V323.6H1003.8zM1015.5 320.5H1018.8V323.6H1015.5zM784.1 317.6H790.2V320.8H784.1zM842.7 317.6H845.9V320.8H842.7zM901.2 317.6H904.5V320.8H901.2zM1006.7 314.8H1010.0V317.9H1006.7zM740.1 312.0H743.3V315.1H740.1zM1006.7 312.0H1010.0V315.1H1006.7zM1012.6 312.0H1015.8V315.1H1012.6zM748.9 309.1H752.1V312.3H748.9zM1009.7 300.6H1012.9V303.7H1009.7zM740.1 294.9H743.3V298.0H740.1zM740.1 289.2H743.3V292.4H740.1zM740.1 286.4H743.3V289.5H740.1zM740.1 283.5H743.3V286.7H740.1zM737.2 280.7H743.3V283.8H737.2zM737.2 277.9H743.3V281.0H737.2zM734.2 269.3H737.5V272.5H734.2zM737.2 258.0H740.4V261.1H737.2zM734.2 255.1H740.4V258.3H734.2zM731.3 252.3H734.5V255.4H731.3zM731.3 243.8H734.5V246.9H731.3zM728.4 240.9H731.6V244.1H728.4zM722.5 235.2H725.8V238.4H722.5zM722.5 232.4H731.6V235.5H722.5zM716.7 226.7H719.9V229.9H716.7zM725.5 226.7H728.7V229.9H725.5zM710.8 223.9H719.9V227.0H710.8zM707.9 221.0H711.1V224.2H707.9zM713.7 221.0H717.0V224.2H713.7zM719.6 221.0H722.8V224.2H719.6zM707.9 218.2H711.1V221.3H707.9z"/>
<path fill="#ff1300" d="M927.6 346.0H933.8V349.2H927.6zM772.3 340.4H775.6V343.5H772.3zM907.1 340.4H910.3V343.5H907.1zM769.4 337.5H772.6V340.7H769.4zM839.7 337.5H843.0V340.7H839.7zM986.2 337.5H989.5V340.7H986.2zM995.0 337.5H998.2V340.7H995.0zM854.4 334.7H857.6V337.8H854.4zM980.4 334.7H983.6V337.8H980.4zM848.5 331.8H851.7V335.0H848.5zM898.3 331.8H901.5V335.0H898.3zM904.2 331.8H907.4V335.0H904.2zM751.8 329.0H755.0V332.1H751.8zM760.6 329.0H763.8V332.1H760.6zM778.2 329.0H781.4V332.1H778.2zM845.6 329.0H848.8V332.1H845.6zM962.8 329.0H968.9V332.1H962.8zM1000.9 329.0H1004.1V332.1H1000.9zM751.8 326.2H755.0V329.3H751.8zM901.2 326.2H904.5V329.3H901.2zM901.2 323.3H904.5V326.5H901.2zM1015.5 323.3H1018.8V326.5H1015.5zM787.0 320.5H790.2V323.6H787.0zM842.7 320.5H845.9V323.6H842.7zM1006.7 320.5H1010.0V323.6H1006.7zM743.0 317.6H746.3V320.8H743.0zM1006.7 317.6H1010.0V320.8H1006.7zM1009.7 314.8H1012.9V317.9H1009.7zM1009.7 312.0H1012.9V315.1H1009.7zM789.9 303.4H793.1V306.6H789.9zM789.9 300.6H793.1V303.7H789.9zM737.2 297.7H740.4V300.9H737.2zM737.2 294.9H740.4V298.0H737.2zM737.2 292.1H743.3V295.2H737.2zM737.2 286.4H740.4V289.5H737.2zM734.2 283.5H740.4V286.7H734.2zM734.2 280.7H737.5V283.8H734.2zM734.2 277.9H737.5V281.0H734.2zM734.2 275.0H737.5V278.2H734.2zM734.2 272.2H740.4V275.3H734.2zM737.2 266.5H743.3V269.6H737.2zM734.2 263.6H737.5V266.8H734.2zM731.3 249.4H734.5V252.6H731.3zM728.4 243.8H731.6V246.9H728.4zM719.6 240.9H725.8V244.1H719.6zM719.6 235.2H722.8V238.4H719.6zM725.5 235.2H728.7V238.4H725.5zM710.8 232.4H714.0V235.5H710.8zM719.6 232.4H722.8V235.5H719.6zM719.6 229.6H722.8V232.7H719.6zM725.5 229.6H728.7V232.7H725.5zM710.8 226.7H717.0V229.9H710.8zM707.9 223.9H711.1V227.0H707.9z"/>
<path fill="#ff1c00" d="M807.5 343.2H810.7V346.3H807.5zM825.1 343.2H828.3V346.3H825.1zM933.5 343.2H936.7V346.3H933.5zM942.3 343.2H945.5V346.3H942.3zM886.6 340.4H889.8V343.5H886.6zM945.2 340.4H948.4V343.5H945.2zM816.3 337.5H819.5V340.7H816.3zM872.0 337.5H875.2V340.7H872.0zM974.5 337.5H977.7V340.7H974.5zM980.4 337.5H983.6V340.7H980.4zM992.1 337.5H995.3V340.7H992.1zM766.5 334.7H769.7V337.8H766.5zM751.8 331.8H755.0V335.0H751.8zM757.7 331.8H763.8V335.0H757.7zM781.1 331.8H784.4V335.0H781.1zM877.8 331.8H881.0V335.0H877.8zM757.7 329.0H760.9V332.1H757.7zM901.2 329.0H904.5V332.1H901.2zM971.6 329.0H974.8V332.1H971.6zM1015.5 329.0H1018.8V332.1H1015.5zM1015.5 326.2H1018.8V329.3H1015.5zM787.0 323.3H790.2V326.5H787.0zM951.1 320.5H954.3V323.6H951.1zM1012.6 320.5H1015.8V323.6H1012.6zM959.9 317.6H963.1V320.8H959.9zM1012.6 317.6H1015.8V320.8H1012.6zM748.9 314.8H752.1V317.9H748.9zM1012.6 314.8H1015.8V317.9H1012.6zM740.1 309.1H743.3V312.3H740.1zM737.2 306.3H743.3V309.4H737.2zM740.1 303.4H743.3V306.6H740.1zM740.1 300.6H743.3V303.7H740.1zM734.2 297.7H737.5V300.9H734.2zM740.1 297.7H743.3V300.9H740.1zM737.2 289.2H740.4V292.4H737.2zM737.2 269.3H740.4V272.5H737.2zM734.2 266.5H737.5V269.6H734.2zM731.3 263.6H734.5V266.8H731.3zM731.3 260.8H734.5V263.9H731.3zM737.2 260.8H740.4V263.9H737.2zM731.3 258.0H734.5V261.1H731.3zM731.3 255.1H734.5V258.3H731.3zM725.5 243.8H728.7V246.9H725.5zM725.5 240.9H728.7V244.1H725.5zM728.4 238.1H731.6V241.2H728.4zM728.4 235.2H731.6V238.4H728.4zM707.9 229.6H714.0V232.7H707.9zM707.9 226.7H711.1V229.9H707.9z"/>
<path fill="#ff2400" d="M772.3 343.2H775.6V346.3H772.3zM810.4 340.4H813.6V343.5H810.4zM828.0 340.4H831.2V343.5H828.0zM895.4 340.4H898.6V343.5H895.4zM915.9 340.4H922.1V343.5H915.9zM763.5 337.5H766.8V340.7H763.5zM851.4 337.5H854.7V340.7H851.4zM863.2 337.5H866.4V340.7H863.2zM904.2 337.5H907.4V340.7H904.2zM989.2 337.5H992.4V340.7H989.2zM751.8 334.7H755.0V337.8H751.8zM898.3 334.7H901.5V337.8H898.3zM913.0 334.7H916.2V337.8H913.0zM968.6 334.7H971.9V337.8H968.6zM997.9 334.7H1001.2V337.8H997.9zM754.8 331.8H758.0V335.0H754.8zM763.5 331.8H766.8V335.0H763.5zM857.3 331.8H860.5V335.0H857.3zM901.2 331.8H904.5V335.0H901.2zM968.6 331.8H971.9V335.0H968.6zM1000.9 331.8H1004.1V335.0H1000.9zM1015.5 331.8H1018.8V335.0H1015.5zM775.3 329.0H778.5V332.1H775.3zM948.1 329.0H951.4V332.1H948.1zM746.0 326.2H749.2V329.3H746.0zM784.1 326.2H787.3V329.3H784.1zM792.8 326.2H796.1V329.3H792.8zM1003.8 326.2H1007.0V329.3H1003.8zM1012.6 323.3H1015.8V326.5H1012.6zM743.0 320.5H746.3V323.6H743.0zM1009.7 317.6H1012.9V320.8H1009.7zM740.1 314.8H743.3V317.9H740.1zM789.9 309.1H793.1V312.3H789.9zM734.2 306.3H737.5V309.4H734.2zM789.9 306.3H793.1V309.4H789.9zM737.2 303.4H740.4V306.6H737.2zM737.2 300.6H740.4V303.7H737.2zM734.2 294.9H737.5V298.0H734.2zM734.2 292.1H737.5V295.2H734.2zM734.2 289.2H737.5V292.4H734.2zM734.2 286.4H737.5V289.5H734.2zM722.5 246.6H725.8V249.7H722.5zM722.5 243.8H725.8V246.9H722.5zM719.6 238.1H728.7V241.2H719.6zM710.8 235.2H714.0V238.4H710.8zM713.7 232.4H719.9V235.5H713.7zM704.9 229.6H708.2V232.7H704.9zM713.7 229.6H717.0V232.7H713.7zM704.9 226.7H708.2V229.9H704.9z"/>
<path fill="#ff2c00" d="M1021.4 346.0H1024.6V349.2H1021.4zM907.1 343.2H910.3V346.3H907.1zM769.4 340.4H772.6V343.5H769.4zM869.0 340.4H872.2V343.5H869.0zM880.7 340.4H884.0V343.5H880.7zM977.4 340.4H980.7V343.5H977.4zM1018.5 340.4H1021.7V343.5H1018.5zM804.6 337.5H807.8V340.7H804.6zM830.9 337.5H834.2V340.7H830.9zM836.8 337.5H840.0V340.7H836.8zM854.4 337.5H857.6V340.7H854.4zM997.9 337.5H1001.2V340.7H997.9zM757.7 334.7H763.8V337.8H757.7zM795.8 334.7H799.0V337.8H795.8zM822.1 334.7H825.4V337.8H822.1zM833.9 334.7H837.1V337.8H833.9zM901.2 334.7H907.4V337.8H901.2zM954.0 334.7H960.2V337.8H954.0zM1018.5 334.7H1021.7V337.8H1018.5zM860.2 331.8H863.5V335.0H860.2zM962.8 331.8H966.0V335.0H962.8zM971.6 331.8H974.8V335.0H971.6zM784.1 329.0H787.3V332.1H784.1zM1003.8 329.0H1007.0V332.1H1003.8zM743.0 326.2H746.3V329.3H743.0zM740.1 323.3H743.3V326.5H740.1zM1006.7 323.3H1010.0V326.5H1006.7zM740.1 320.5H743.3V323.6H740.1zM740.1 317.6H743.3V320.8H740.1zM734.2 314.8H737.5V317.9H734.2zM734.2 309.1H737.5V312.3H734.2zM734.2 303.4H737.5V306.6H734.2zM734.2 300.6H737.5V303.7H734.2zM731.3 269.3H734.5V272.5H731.3zM731.3 266.5H734.5V269.6H731.3zM719.6 255.1H725.8V258.3H719.6zM728.4 255.1H731.6V258.3H728.4zM728.4 252.3H731.6V255.4H728.4zM722.5 249.4H731.6V252.6H722.5zM719.6 246.6H722.8V249.7H719.6zM725.5 246.6H731.6V249.7H725.5zM713.7 243.8H717.0V246.9H713.7zM707.9 238.1H711.1V241.2H707.9zM716.7 238.1H719.9V241.2H716.7zM707.9 235.2H711.1V238.4H707.9zM716.7 235.2H719.9V238.4H716.7zM704.9 232.4H711.1V235.5H704.9z"/>
<path fill="#ff3500" d="M939.3 346.0H942.6V349.2H939.3zM769.4 343.2H772.6V346.3H769.4zM866.1 343.2H869.3V346.3H866.1zM915.9 343.2H919.1V346.3H915.9zM851.4 340.4H854.7V343.5H851.4zM892.5 340.4H895.7V343.5H892.5zM910.0 340.4H913.3V343.5H910.0zM986.2 340.4H989.5V343.5H986.2zM997.9 340.4H1001.2V343.5H997.9zM848.5 337.5H851.7V340.7H848.5zM962.8 337.5H966.0V340.7H962.8zM763.5 334.7H766.8V337.8H763.5zM781.1 334.7H784.4V337.8H781.1zM813.4 334.7H816.6V337.8H813.4zM848.5 334.7H851.7V337.8H848.5zM965.7 334.7H968.9V337.8H965.7zM965.7 331.8H968.9V335.0H965.7zM746.0 329.0H749.2V332.1H746.0zM801.6 329.0H804.9V332.1H801.6zM787.0 326.2H790.2V329.3H787.0zM743.0 323.3H746.3V326.5H743.0zM798.7 323.3H801.9V326.5H798.7zM1009.7 323.3H1012.9V326.5H1009.7zM959.9 320.5H963.1V323.6H959.9zM1009.7 320.5H1012.9V323.6H1009.7zM734.2 312.0H737.5V315.1H734.2zM731.3 300.6H734.5V303.7H731.3zM731.3 292.1H734.5V295.2H731.3zM731.3 286.4H734.5V289.5H731.3zM722.5 280.7H725.8V283.8H722.5zM731.3 280.7H734.5V283.8H731.3zM731.3 277.9H734.5V281.0H731.3zM731.3 275.0H734.5V278.2H731.3zM731.3 272.2H734.5V275.3H731.3zM722.5 266.5H725.8V269.6H722.5zM725.5 252.3H728.7V255.4H725.5zM719.6 249.4H722.8V252.6H719.6zM710.8 246.6H717.0V249.7H710.8zM710.8 243.8H714.0V246.9H710.8zM716.7 243.8H719.9V246.9H716.7zM704.9 240.9H708.2V244.1H704.9zM710.8 240.9H714.0V244.1H710.8zM716.7 240.9H719.9V244.1H716.7zM713.7 238.1H717.0V241.2H713.7zM704.9 235.2H708.2V238.4H704.9zM713.7 235.2H717.0V238.4H713.7z"/>
<path fill="#ff3d00" d="M819.2 343.2H822.4V346.3H819.2zM936.4 343.2H939.6V346.3H936.4zM874.9 340.4H878.1V343.5H874.9zM974.5 340.4H977.7V343.5H974.5zM989.2 340.4H995.3V343.5H989.2zM757.7 337.5H760.9V340.7H757.7zM795.8 337.5H799.0V340.7H795.8zM898.3 337.5H904.5V340.7H898.3zM965.7 337.5H968.9V340.7H965.7zM1018.5 337.5H1021.7V340.7H1018.5zM962.8 334.7H966.0V337.8H962.8zM1000.9 334.7H1004.1V337.8H1000.9zM743.0 331.8H746.3V335.0H743.0zM778.2 331.8H781.4V335.0H778.2zM845.6 331.8H848.8V335.0H845.6zM1003.8 331.8H1007.0V335.0H1003.8zM743.0 329.0H746.3V332.1H743.0zM787.0 329.0H790.2V332.1H787.0zM1006.7 329.0H1010.0V332.1H1006.7zM740.1 326.2H743.3V329.3H740.1zM1006.7 326.2H1010.0V329.3H1006.7zM842.7 323.3H845.9V326.5H842.7zM951.1 323.3H954.3V326.5H951.1zM748.9 320.5H752.1V323.6H748.9zM734.2 317.6H740.4V320.8H734.2zM748.9 317.6H752.1V320.8H748.9zM737.2 309.1H740.4V312.3H737.2zM731.3 294.9H734.5V298.0H731.3zM731.3 289.2H734.5V292.4H731.3zM731.3 283.5H734.5V286.7H731.3zM722.5 275.0H725.8V278.2H722.5zM722.5 272.2H725.8V275.3H722.5zM722.5 263.6H725.8V266.8H722.5zM719.6 260.8H725.8V263.9H719.6zM728.4 260.8H731.6V263.9H728.4zM713.7 258.0H719.9V261.1H713.7zM725.5 258.0H731.6V261.1H725.5zM710.8 255.1H714.0V258.3H710.8zM722.5 252.3H725.8V255.4H722.5zM702.0 243.8H711.1V246.9H702.0zM719.6 243.8H722.8V246.9H719.6zM707.9 240.9H711.1V244.1H707.9zM713.7 240.9H717.0V244.1H713.7zM702.0 238.1H708.2V241.2H702.0zM710.8 238.1H714.0V241.2H710.8z"/>
<path fill="#ff4500" d="M1021.4 351.7H1024.6V354.9H1021.4zM1021.4 348.9H1024.6V352.0H1021.4zM921.8 346.0H925.0V349.2H921.8zM851.4 343.2H854.7V346.3H851.4zM839.7 340.4H843.0V343.5H839.7zM904.2 340.4H907.4V343.5H904.2zM995.0 340.4H998.2V343.5H995.0zM751.8 337.5H755.0V340.7H751.8zM766.5 337.5H769.7V340.7H766.5zM889.5 337.5H892.8V340.7H889.5zM954.0 337.5H960.2V340.7H954.0zM754.8 334.7H758.0V337.8H754.8zM971.6 334.7H974.8V337.8H971.6zM1003.8 334.7H1007.0V337.8H1003.8zM1015.5 334.7H1018.8V337.8H1015.5zM746.0 331.8H749.2V335.0H746.0zM784.1 331.8H787.3V335.0H784.1zM792.8 329.0H796.1V332.1H792.8zM1012.6 326.2H1015.8V329.3H1012.6zM734.2 320.5H737.5V323.6H734.2zM737.2 314.8H740.4V317.9H737.2zM731.3 312.0H734.5V315.1H731.3zM737.2 312.0H740.4V315.1H737.2zM789.9 312.0H793.1V315.1H789.9zM731.3 309.1H734.5V312.3H731.3zM731.3 306.3H734.5V309.4H731.3zM731.3 303.4H734.5V306.6H731.3zM731.3 297.7H734.5V300.9H731.3zM710.8 286.4H714.0V289.5H710.8zM722.5 277.9H725.8V281.0H722.5zM728.4 277.9H731.6V281.0H728.4zM722.5 269.3H725.8V272.5H722.5zM728.4 266.5H731.6V269.6H728.4zM728.4 263.6H731.6V266.8H728.4zM719.6 258.0H725.8V261.1H719.6zM702.0 255.1H705.2V258.3H702.0zM713.7 255.1H717.0V258.3H713.7zM707.9 252.3H714.0V255.4H707.9zM719.6 252.3H722.8V255.4H719.6zM704.9 249.4H714.0V252.6H704.9zM716.7 249.4H719.9V252.6H716.7zM707.9 246.6H711.1V249.7H707.9zM702.0 240.9H705.2V244.1H702.0z"/>
<path fill="#ff4e00" d="M942.3 346.0H945.5V349.2H942.3zM895.4 343.2H898.6V346.3H895.4zM945.2 343.2H948.4V346.3H945.2zM1018.5 343.2H1021.7V346.3H1018.5zM763.5 340.4H766.8V343.5H763.5zM830.9 340.4H834.2V343.5H830.9zM848.5 340.4H851.7V343.5H848.5zM854.4 340.4H857.6V343.5H854.4zM980.4 340.4H983.6V343.5H980.4zM760.6 337.5H763.8V340.7H760.6zM833.9 337.5H837.1V340.7H833.9zM968.6 337.5H971.9V340.7H968.6zM743.0 334.7H746.3V337.8H743.0zM857.3 334.7H860.5V337.8H857.3zM775.3 331.8H778.5V335.0H775.3zM1006.7 331.8H1010.0V335.0H1006.7zM789.9 314.8H793.1V317.9H789.9zM716.7 294.9H719.9V298.0H716.7zM722.5 292.1H725.8V295.2H722.5zM716.7 283.5H719.9V286.7H716.7zM728.4 283.5H731.6V286.7H728.4zM719.6 280.7H722.8V283.8H719.6zM728.4 280.7H731.6V283.8H728.4zM713.7 275.0H717.0V278.2H713.7zM719.6 272.2H722.8V275.3H719.6zM719.6 269.3H722.8V272.5H719.6zM728.4 269.3H731.6V272.5H728.4zM719.6 263.6H722.8V266.8H719.6zM725.5 263.6H728.7V266.8H725.5zM702.0 260.8H705.2V263.9H702.0zM710.8 260.8H714.0V263.9H710.8zM716.7 260.8H719.9V263.9H716.7zM725.5 260.8H728.7V263.9H725.5zM702.0 258.0H705.2V261.1H702.0zM710.8 258.0H714.0V261.1H710.8zM716.7 255.1H719.9V258.3H716.7zM725.5 255.1H728.7V258.3H725.5zM702.0 252.3H708.2V255.4H702.0zM713.7 252.3H719.9V255.4H713.7zM713.7 249.4H717.0V252.6H713.7zM699.1 246.6H702.3V249.7H699.1zM704.9 246.6H708.2V249.7H704.9z"/>
<path fill="#ff5600" d="M927.6 348.9H930.9V352.0H927.6zM1018.5 346.0H1021.7V349.2H1018.5zM986.2 343.2H989.5V346.3H986.2zM836.8 340.4H840.0V343.5H836.8zM872.0 340.4H875.2V343.5H872.0zM956.9 340.4H960.2V343.5H956.9zM965.7 340.4H968.9V343.5H965.7zM781.1 337.5H784.4V340.7H781.1zM913.0 337.5H916.2V340.7H913.0zM1015.5 337.5H1018.8V340.7H1015.5zM845.6 334.7H848.8V337.8H845.6zM877.8 334.7H881.0V337.8H877.8zM948.1 331.8H951.4V335.0H948.1zM740.1 329.0H743.3V332.1H740.1zM798.7 326.2H801.9V329.3H798.7zM734.2 323.3H737.5V326.5H734.2zM959.9 323.3H963.1V326.5H959.9zM728.4 312.0H731.6V315.1H728.4zM728.4 306.3H731.6V309.4H728.4zM722.5 297.7H725.8V300.9H722.5zM710.8 292.1H714.0V295.2H710.8zM719.6 292.1H722.8V295.2H719.6zM719.6 289.2H722.8V292.4H719.6zM725.5 289.2H731.6V292.4H725.5zM722.5 286.4H725.8V289.5H722.5zM719.6 283.5H728.7V286.7H719.6zM713.7 280.7H717.0V283.8H713.7zM725.5 280.7H728.7V283.8H725.5zM719.6 277.9H722.8V281.0H719.6zM725.5 277.9H728.7V281.0H725.5zM710.8 275.0H714.0V278.2H710.8zM719.6 275.0H722.8V278.2H719.6zM725.5 275.0H728.7V278.2H725.5zM710.8 272.2H714.0V275.3H710.8zM728.4 272.2H731.6V275.3H728.4zM725.5 269.3H728.7V272.5H725.5zM702.0 266.5H705.2V269.6H702.0zM719.6 266.5H722.8V269.6H719.6zM725.5 266.5H728.7V269.6H725.5zM710.8 263.6H714.0V266.8H710.8zM716.7 263.6H719.9V266.8H716.7zM713.7 260.8H717.0V263.9H713.7zM707.9 255.1H711.1V258.3H707.9zM702.0 249.4H705.2V252.6H702.0zM702.0 246.6H705.2V249.7H702.0zM716.7 246.6H719.9V249.7H716.7z"/>
<path fill="#ff5e00" d="M807.5 346.0H810.7V349.2H807.5zM907.1 346.0H910.3V349.2H907.1zM763.5 343.2H766.8V346.3H763.5zM839.7 343.2H843.0V346.3H839.7zM886.6 343.2H889.8V346.3H886.6zM977.4 343.2H980.7V346.3H977.4zM989.2 343.2H992.4V346.3H989.2zM1015.5 343.2H1018.8V346.3H1015.5zM757.7 340.4H763.8V343.5H757.7zM962.8 340.4H966.0V343.5H962.8zM746.0 334.7H749.2V337.8H746.0zM778.2 334.7H781.4V337.8H778.2zM1006.7 334.7H1010.0V337.8H1006.7zM1012.6 329.0H1015.8V332.1H1012.6zM734.2 326.2H737.5V329.3H734.2zM842.7 326.2H845.9V329.3H842.7zM1009.7 326.2H1012.9V329.3H1009.7zM731.3 320.5H734.5V323.6H731.3zM737.2 320.5H740.4V323.6H737.2zM731.3 317.6H734.5V320.8H731.3zM728.4 303.4H731.6V306.6H728.4zM719.6 300.6H725.8V303.7H719.6zM728.4 300.6H731.6V303.7H728.4zM719.6 297.7H722.8V300.9H719.6zM713.7 294.9H717.0V298.0H713.7zM719.6 294.9H725.8V298.0H719.6zM728.4 292.1H731.6V295.2H728.4zM713.7 289.2H717.0V292.4H713.7zM722.5 289.2H725.8V292.4H722.5zM728.4 286.4H731.6V289.5H728.4zM707.9 283.5H717.0V286.7H707.9zM699.1 280.7H702.3V283.8H699.1zM716.7 280.7H719.9V283.8H716.7zM707.9 277.9H719.9V281.0H707.9zM707.9 275.0H711.1V278.2H707.9zM728.4 275.0H731.6V278.2H728.4zM707.9 272.2H711.1V275.3H707.9zM716.7 272.2H719.9V275.3H716.7zM725.5 272.2H728.7V275.3H725.5zM704.9 269.3H708.2V272.5H704.9zM710.8 269.3H714.0V272.5H710.8zM704.9 266.5H708.2V269.6H704.9zM710.8 266.5H717.0V269.6H710.8zM707.9 263.6H711.1V266.8H707.9zM713.7 263.6H717.0V266.8H713.7zM704.9 260.8H708.2V263.9H704.9zM699.1 258.0H702.3V261.1H699.1zM699.1 255.1H702.3V258.3H699.1zM699.1 249.4H702.3V252.6H699.1z"/>
<path fill="#ff6700" d="M1018.5 351.7H1021.7V354.9H1018.5zM924.7 348.9H927.9V352.0H924.7zM1018.5 348.9H1021.7V352.0H1018.5zM772.3 346.0H775.6V349.2H772.3zM825.1 346.0H828.3V349.2H825.1zM933.5 346.0H936.7V349.2H933.5zM760.6 343.2H763.8V346.3H760.6zM810.4 343.2H813.6V346.3H810.4zM848.5 343.2H851.7V346.3H848.5zM880.7 343.2H884.0V346.3H880.7zM904.2 343.2H907.4V346.3H904.2zM980.4 343.2H983.6V346.3H980.4zM751.8 340.4H755.0V343.5H751.8zM781.1 340.4H784.4V343.5H781.1zM795.8 340.4H799.0V343.5H795.8zM816.3 340.4H819.5V343.5H816.3zM863.2 340.4H866.4V343.5H863.2zM898.3 340.4H904.5V343.5H898.3zM954.0 340.4H957.2V343.5H954.0zM1015.5 340.4H1018.8V343.5H1015.5zM813.4 337.5H816.6V340.7H813.4zM1000.9 337.5H1004.1V340.7H1000.9zM775.3 334.7H778.5V337.8H775.3zM784.1 334.7H790.2V337.8H784.1zM740.1 331.8H743.3V335.0H740.1zM787.0 331.8H790.2V335.0H787.0zM719.6 312.0H722.8V315.1H719.6zM710.8 309.1H714.0V312.3H710.8zM719.6 309.1H722.8V312.3H719.6zM710.8 306.3H717.0V309.4H710.8zM719.6 306.3H725.8V309.4H719.6zM710.8 303.4H714.0V306.6H710.8zM719.6 303.4H725.8V306.6H719.6zM716.7 300.6H719.9V303.7H716.7zM707.9 297.7H719.9V300.9H707.9zM710.8 294.9H714.0V298.0H710.8zM704.9 292.1H711.1V295.2H704.9zM713.7 292.1H717.0V295.2H713.7zM702.0 289.2H705.2V292.4H702.0zM710.8 289.2H714.0V292.4H710.8zM707.9 286.4H711.1V289.5H707.9zM713.7 286.4H717.0V289.5H713.7zM704.9 275.0H708.2V278.2H704.9zM707.9 269.3H711.1V272.5H707.9zM716.7 269.3H719.9V272.5H716.7zM716.7 266.5H719.9V269.6H716.7zM702.0 263.6H705.2V266.8H702.0zM707.9 260.8H711.1V263.9H707.9zM704.9 258.0H711.1V261.1H704.9zM704.9 255.1H708.2V258.3H704.9zM699.1 252.3H702.3V255.4H699.1z"/>
<path fill="#ff6f00" d="M1015.5 348.9H1018.8V352.0H1015.5zM769.4 346.0H772.6V349.2H769.4zM828.0 343.2H831.2V346.3H828.0zM910.0 343.2H913.3V346.3H910.0zM889.5 340.4H892.8V343.5H889.5zM968.6 340.4H971.9V343.5H968.6zM1003.8 337.5H1010.0V340.7H1003.8zM734.2 331.8H737.5V335.0H734.2zM801.6 331.8H804.9V335.0H801.6zM1009.7 329.0H1012.9V332.1H1009.7zM951.1 326.2H954.3V329.3H951.1zM731.3 323.3H734.5V326.5H731.3zM789.9 317.6H793.1V320.8H789.9zM719.6 314.8H722.8V317.9H719.6zM731.3 314.8H734.5V317.9H731.3zM713.7 309.1H719.9V312.3H713.7zM716.7 306.3H719.9V309.4H716.7zM716.7 303.4H719.9V306.6H716.7zM710.8 300.6H714.0V303.7H710.8zM728.4 297.7H731.6V300.9H728.4zM728.4 294.9H731.6V298.0H728.4zM716.7 292.1H719.9V295.2H716.7zM716.7 289.2H719.9V292.4H716.7zM702.0 286.4H705.2V289.5H702.0zM716.7 286.4H722.8V289.5H716.7zM699.1 283.5H702.3V286.7H699.1zM702.0 280.7H714.0V283.8H702.0zM702.0 277.9H705.2V281.0H702.0zM702.0 275.0H705.2V278.2H702.0zM716.7 275.0H719.9V278.2H716.7zM702.0 272.2H705.2V275.3H702.0zM713.7 272.2H717.0V275.3H713.7zM702.0 269.3H705.2V272.5H702.0zM713.7 269.3H717.0V272.5H713.7zM699.1 266.5H702.3V269.6H699.1zM707.9 266.5H711.1V269.6H707.9zM699.1 260.8H702.3V263.9H699.1zM696.2 258.0H699.4V261.1H696.2z"/>
<path fill="#ff7800" d="M1021.4 354.6H1024.6V357.7H1021.4zM986.2 346.0H989.5V349.2H986.2zM1015.5 346.0H1018.8V349.2H1015.5zM892.5 343.2H895.7V346.3H892.5zM901.2 343.2H904.5V346.3H901.2zM918.8 343.2H922.1V346.3H918.8zM995.0 343.2H1001.2V346.3H995.0zM804.6 340.4H807.8V343.5H804.6zM1003.8 340.4H1007.0V343.5H1003.8zM754.8 337.5H758.0V340.7H754.8zM784.1 337.5H787.3V340.7H784.1zM948.1 334.7H951.4V337.8H948.1zM734.2 329.0H737.5V332.1H734.2zM748.9 323.3H752.1V326.5H748.9zM713.7 317.6H717.0V320.8H713.7zM728.4 317.6H731.6V320.8H728.4zM722.5 309.1H725.8V312.3H722.5zM707.9 306.3H711.1V309.4H707.9zM707.9 303.4H711.1V306.6H707.9zM713.7 303.4H717.0V306.6H713.7zM704.9 297.7H708.2V300.9H704.9zM702.0 294.9H708.2V298.0H702.0zM725.5 294.9H728.7V298.0H725.5zM704.9 289.2H708.2V292.4H704.9zM699.1 286.4H702.3V289.5H699.1zM704.9 286.4H708.2V289.5H704.9zM725.5 286.4H728.7V289.5H725.5zM704.9 277.9H708.2V281.0H704.9zM699.1 272.2H702.3V275.3H699.1zM696.2 269.3H702.3V272.5H696.2zM696.2 266.5H699.4V269.6H696.2zM699.1 263.6H702.3V266.8H699.1zM704.9 263.6H708.2V266.8H704.9z"/>
<path fill="#ff8000" d="M1015.5 351.7H1018.8V354.9H1015.5zM866.1 346.0H869.3V349.2H866.1zM757.7 343.2H760.9V346.3H757.7zM854.4 343.2H857.6V346.3H854.4zM869.0 343.2H872.2V346.3H869.0zM965.7 343.2H968.9V346.3H965.7zM974.5 343.2H977.7V346.3H974.5zM992.1 343.2H995.3V346.3H992.1zM766.5 340.4H769.7V343.5H766.5zM743.0 337.5H749.2V340.7H743.0zM822.1 337.5H825.4V340.7H822.1zM740.1 334.7H743.3V337.8H740.1zM792.8 331.8H796.1V335.0H792.8zM798.7 329.0H801.9V332.1H798.7zM731.3 326.2H734.5V329.3H731.3zM748.9 326.2H752.1V329.3H748.9zM713.7 314.8H719.9V317.9H713.7zM710.8 312.0H717.0V315.1H710.8zM728.4 309.1H731.6V312.3H728.4zM702.0 300.6H711.1V303.7H702.0zM702.0 297.7H705.2V300.9H702.0zM707.9 294.9H711.1V298.0H707.9zM702.0 292.1H705.2V295.2H702.0zM699.1 289.2H702.3V292.4H699.1zM707.9 289.2H711.1V292.4H707.9zM696.2 286.4H699.4V289.5H696.2zM702.0 283.5H708.2V286.7H702.0zM699.1 277.9H702.3V281.0H699.1zM696.2 275.0H702.3V278.2H696.2zM693.2 266.5H696.5V269.6H693.2zM696.2 255.1H699.4V258.3H696.2z"/>
<path fill="#ff8800" d="M851.4 346.0H854.7V349.2H851.4zM915.9 346.0H919.1V349.2H915.9zM980.4 346.0H983.6V349.2H980.4zM751.8 343.2H755.0V346.3H751.8zM830.9 343.2H834.2V346.3H830.9zM833.9 340.4H837.1V343.5H833.9zM845.6 337.5H848.8V340.7H845.6zM857.3 337.5H860.5V340.7H857.3zM860.2 334.7H863.5V337.8H860.2zM731.3 329.0H734.5V332.1H731.3zM842.7 329.0H845.9V332.1H842.7zM737.2 323.3H740.4V326.5H737.2zM719.6 320.5H722.8V323.6H719.6zM699.1 317.6H702.3V320.8H699.1zM719.6 317.6H722.8V320.8H719.6zM707.9 314.8H711.1V317.9H707.9zM728.4 314.8H731.6V317.9H728.4zM707.9 312.0H711.1V315.1H707.9zM716.7 312.0H719.9V315.1H716.7zM704.9 303.4H708.2V306.6H704.9zM699.1 300.6H702.3V303.7H699.1zM713.7 300.6H717.0V303.7H713.7zM725.5 300.6H728.7V303.7H725.5zM699.1 297.7H702.3V300.9H699.1zM725.5 297.7H728.7V300.9H725.5zM699.1 294.9H702.3V298.0H699.1zM725.5 292.1H728.7V295.2H725.5zM693.2 280.7H699.4V283.8H693.2zM696.2 272.2H699.4V275.3H696.2zM704.9 272.2H708.2V275.3H704.9zM696.2 260.8H699.4V263.9H696.2z"/>
<path fill="#ff9100" d="M930.6 348.9H933.8V352.0H930.6zM942.3 348.9H945.5V352.0H942.3zM763.5 346.0H766.8V349.2H763.5zM819.2 346.0H822.4V349.2H819.2zM895.4 346.0H898.6V349.2H895.4zM936.4 346.0H939.6V349.2H936.4zM965.7 346.0H968.9V349.2H965.7zM781.1 343.2H784.4V346.3H781.1zM962.8 343.2H966.0V346.3H962.8zM968.6 343.2H971.9V346.3H968.6zM743.0 340.4H746.3V343.5H743.0zM1000.9 340.4H1004.1V343.5H1000.9zM971.6 337.5H974.8V340.7H971.6zM734.2 334.7H737.5V337.8H734.2zM731.3 331.8H734.5V335.0H731.3zM1012.6 331.8H1015.8V335.0H1012.6zM951.1 329.0H954.3V332.1H951.1zM719.6 326.2H722.8V329.3H719.6zM959.9 326.2H963.1V329.3H959.9zM713.7 323.3H722.8V326.5H713.7zM713.7 320.5H717.0V323.6H713.7zM789.9 320.5H793.1V323.6H789.9zM710.8 317.6H714.0V320.8H710.8zM722.5 317.6H725.8V320.8H722.5zM710.8 314.8H714.0V317.9H710.8zM722.5 314.8H725.8V317.9H722.5zM722.5 312.0H725.8V315.1H722.5zM704.9 309.1H711.1V312.3H704.9zM699.1 306.3H702.3V309.4H699.1zM699.1 303.4H702.3V306.6H699.1zM693.2 294.9H696.5V298.0H693.2zM696.2 292.1H702.3V295.2H696.2zM696.2 283.5H699.4V286.7H696.2zM693.2 272.2H696.5V275.3H693.2zM693.2 269.3H696.5V272.5H693.2zM696.2 263.6H699.4V266.8H696.2z"/>
<path fill="#ff9900" d="M904.2 346.0H907.4V349.2H904.2zM795.8 343.2H799.0V346.3H795.8zM836.8 343.2H840.0V346.3H836.8zM746.0 340.4H749.2V343.5H746.0zM913.0 340.4H916.2V343.5H913.0zM740.1 337.5H743.3V340.7H740.1zM778.2 337.5H781.4V340.7H778.2zM728.4 326.2H731.6V329.3H728.4zM710.8 323.3H714.0V326.5H710.8zM728.4 323.3H731.6V326.5H728.4zM716.7 320.5H719.9V323.6H716.7zM728.4 320.5H731.6V323.6H728.4zM707.9 317.6H711.1V320.8H707.9zM716.7 317.6H719.9V320.8H716.7zM699.1 314.8H702.3V317.9H699.1zM699.1 312.0H702.3V315.1H699.1zM704.9 306.3H708.2V309.4H704.9zM696.2 289.2H699.4V292.4H696.2zM690.3 277.9H693.5V281.0H690.3zM696.2 277.9H699.4V281.0H696.2z"/>
<path fill="#ffa100" d="M921.8 348.9H925.0V352.0H921.8zM939.3 348.9H942.6V352.0H939.3zM945.2 346.0H948.4V349.2H945.2zM977.4 346.0H980.7V349.2H977.4zM954.0 343.2H960.2V346.3H954.0zM754.8 340.4H758.0V343.5H754.8zM845.6 340.4H848.8V343.5H845.6zM857.3 340.4H860.5V343.5H857.3zM792.8 334.7H796.1V337.8H792.8zM719.6 331.8H722.8V335.0H719.6zM1009.7 331.8H1012.9V335.0H1009.7zM710.8 326.2H714.0V329.3H710.8zM696.2 306.3H699.4V309.4H696.2zM702.0 306.3H705.2V309.4H702.0zM696.2 303.4H699.4V306.6H696.2zM725.5 303.4H728.7V306.6H725.5zM696.2 297.7H699.4V300.9H696.2zM696.2 294.9H699.4V298.0H696.2zM693.2 286.4H696.5V289.5H693.2zM690.3 275.0H696.5V278.2H690.3z"/>
<path fill="#ffaa00" d="M1018.5 354.6H1021.7V357.7H1018.5zM907.1 348.9H910.3V352.0H907.1zM760.6 346.0H763.8V349.2H760.6zM886.6 346.0H889.8V349.2H886.6zM892.5 346.0H895.7V349.2H892.5zM746.0 343.2H749.2V346.3H746.0zM1003.8 343.2H1007.0V346.3H1003.8zM740.1 340.4H743.3V343.5H740.1zM784.1 340.4H787.3V343.5H784.1zM1006.7 340.4H1010.0V343.5H1006.7zM775.3 337.5H778.5V340.7H775.3zM787.0 337.5H790.2V340.7H787.0zM877.8 337.5H881.0V340.7H877.8zM731.3 334.7H734.5V337.8H731.3zM1012.6 334.7H1015.8V337.8H1012.6zM707.9 331.8H711.1V335.0H707.9zM951.1 331.8H954.3V335.0H951.1zM719.6 329.0H722.8V332.1H719.6zM707.9 326.2H711.1V329.3H707.9zM716.7 326.2H719.9V329.3H716.7zM737.2 326.2H740.4V329.3H737.2zM704.9 320.5H708.2V323.6H704.9zM710.8 320.5H714.0V323.6H710.8zM722.5 320.5H725.8V323.6H722.5zM704.9 317.6H708.2V320.8H704.9zM704.9 314.8H708.2V317.9H704.9zM699.1 309.1H702.3V312.3H699.1zM725.5 306.3H728.7V309.4H725.5zM702.0 303.4H705.2V306.6H702.0zM696.2 300.6H699.4V303.7H696.2zM693.2 292.1H696.5V295.2H693.2zM693.2 289.2H696.5V292.4H693.2zM690.3 286.4H693.5V289.5H690.3zM693.2 283.5H696.5V286.7H693.2zM690.3 280.7H693.5V283.8H690.3z"/>
<path fill="#ffb200" d="M910.0 346.0H913.3V349.2H910.0zM898.3 343.2H901.5V346.3H898.3zM860.2 337.5H863.5V340.7H860.2zM719.6 334.7H722.8V337.8H719.6zM1009.7 334.7H1012.9V337.8H1009.7zM728.4 331.8H731.6V335.0H728.4zM798.7 331.8H801.9V335.0H798.7zM716.7 329.0H719.9V332.1H716.7zM728.4 329.0H731.6V332.1H728.4zM699.1 323.3H702.3V326.5H699.1zM707.9 320.5H711.1V323.6H707.9zM693.2 312.0H699.4V315.1H693.2zM704.9 312.0H708.2V315.1H704.9zM696.2 309.1H699.4V312.3H696.2zM702.0 309.1H705.2V312.3H702.0zM725.5 309.1H728.7V312.3H725.5zM684.4 306.3H687.7V309.4H684.4zM690.3 300.6H693.5V303.7H690.3zM693.2 297.7H696.5V300.9H693.2zM690.3 292.1H693.5V295.2H690.3zM690.3 283.5H693.5V286.7H690.3zM693.2 277.9H696.5V281.0H693.2z"/>
<path fill="#ffbb00" d="M772.3 348.9H775.6V352.0H772.3zM989.2 346.0H992.4V349.2H989.2zM995.0 346.0H1001.2V349.2H995.0zM766.5 343.2H769.7V346.3H766.5zM816.3 343.2H819.5V346.3H816.3zM874.9 343.2H878.1V346.3H874.9zM731.3 337.5H737.5V340.7H731.3zM801.6 334.7H804.9V337.8H801.6zM748.9 329.0H752.1V332.1H748.9zM707.9 323.3H711.1V326.5H707.9zM696.2 314.8H699.4V317.9H696.2zM693.2 309.1H696.5V312.3H693.2zM687.4 306.3H690.6V309.4H687.4zM687.4 303.4H690.6V306.6H687.4zM693.2 303.4H696.5V306.6H693.2z"/>
<path fill="#ffc300" d="M1015.5 354.6H1018.8V357.7H1015.5zM769.4 348.9H772.6V352.0H769.4zM839.7 346.0H843.0V349.2H839.7zM848.5 346.0H851.7V349.2H848.5zM901.2 346.0H904.5V349.2H901.2zM1006.7 343.2H1010.0V346.3H1006.7zM716.7 331.8H719.9V335.0H716.7zM710.8 329.0H714.0V332.1H710.8zM737.2 329.0H740.4V332.1H737.2zM959.9 329.0H963.1V332.1H959.9zM713.7 326.2H717.0V329.3H713.7zM789.9 323.3H793.1V326.5H789.9zM699.1 320.5H702.3V323.6H699.1zM693.2 317.6H699.4V320.8H693.2zM702.0 314.8H705.2V317.9H702.0zM725.5 312.0H728.7V315.1H725.5zM690.3 309.1H693.5V312.3H690.3zM693.2 306.3H696.5V309.4H693.2zM690.3 303.4H693.5V306.6H690.3zM693.2 300.6H696.5V303.7H693.2zM690.3 297.7H693.5V300.9H690.3zM687.4 294.9H693.5V298.0H687.4zM690.3 289.2H693.5V292.4H690.3zM687.4 286.4H690.6V289.5H687.4zM687.4 283.5H690.6V286.7H687.4z"/>
<path fill="#ffcb00" d="M751.8 346.0H755.0V349.2H751.8zM757.7 346.0H760.9V349.2H757.7zM828.0 346.0H831.2V349.2H828.0zM918.8 346.0H922.1V349.2H918.8zM956.9 346.0H960.2V349.2H956.9zM992.1 346.0H995.3V349.2H992.1zM1003.8 346.0H1007.0V349.2H1003.8zM743.0 343.2H746.3V346.3H743.0zM804.6 343.2H807.8V346.3H804.6zM863.2 343.2H866.4V346.3H863.2zM1000.9 343.2H1004.1V346.3H1000.9zM787.0 340.4H790.2V343.5H787.0zM719.6 337.5H722.8V340.7H719.6zM948.1 337.5H951.4V340.7H948.1zM728.4 334.7H731.6V337.8H728.4zM842.7 331.8H845.9V335.0H842.7zM707.9 329.0H711.1V332.1H707.9zM699.1 326.2H702.3V329.3H699.1zM687.4 309.1H690.6V312.3H687.4zM687.4 300.6H690.6V303.7H687.4zM684.4 297.7H687.7V300.9H684.4zM687.4 289.2H690.6V292.4H687.4z"/>
<path fill="#ffd400" d="M983.3 348.9H986.5V352.0H983.3zM854.4 346.0H857.6V349.2H854.4zM974.5 346.0H977.7V349.2H974.5zM872.0 343.2H875.2V346.3H872.0zM778.2 340.4H781.4V343.5H778.2zM813.4 340.4H816.6V343.5H813.4zM1012.6 337.5H1015.8V340.7H1012.6zM707.9 334.7H711.1V337.8H707.9zM842.7 334.7H845.9V337.8H842.7zM713.7 329.0H717.0V332.1H713.7zM704.9 323.3H708.2V326.5H704.9zM722.5 323.3H725.8V326.5H722.5zM693.2 320.5H696.5V323.6H693.2zM687.4 317.6H690.6V320.8H687.4zM690.3 314.8H696.5V317.9H690.3zM702.0 312.0H705.2V315.1H702.0zM690.3 306.3H693.5V309.4H690.3zM687.4 297.7H690.6V300.9H687.4zM687.4 292.1H690.6V295.2H687.4z"/>
<path fill="#ffdc00" d="M763.5 348.9H766.8V352.0H763.5zM980.4 348.9H983.6V352.0H980.4zM781.1 346.0H784.4V349.2H781.1zM731.3 340.4H734.5V343.5H731.3zM792.8 337.5H796.1V340.7H792.8zM696.2 326.2H699.4V329.3H696.2zM693.2 323.3H696.5V326.5H693.2zM690.3 317.6H693.5V320.8H690.3zM681.5 314.8H687.7V317.9H681.5zM684.4 300.6H687.7V303.7H684.4zM684.4 294.9H687.7V298.0H684.4z"/>
<path fill="#ffe400" d="M895.4 348.9H898.6V352.0H895.4zM904.2 348.9H907.4V352.0H904.2zM933.5 348.9H936.7V352.0H933.5zM986.2 348.9H989.5V352.0H986.2zM754.8 343.2H758.0V346.3H754.8zM719.6 340.4H722.8V343.5H719.6zM971.6 340.4H974.8V343.5H971.6zM710.8 331.8H714.0V335.0H710.8zM959.9 331.8H963.1V335.0H959.9zM704.9 326.2H708.2V329.3H704.9zM681.5 320.5H684.7V323.6H681.5zM690.3 320.5H693.5V323.6H690.3zM702.0 317.6H705.2V320.8H702.0zM725.5 314.8H728.7V317.9H725.5zM681.5 312.0H687.7V315.1H681.5zM690.3 312.0H693.5V315.1H690.3zM684.4 303.4H687.7V306.6H684.4z"/>
<path fill="#ffed00" d="M807.5 348.9H810.7V352.0H807.5zM851.4 348.9H854.7V352.0H851.4zM901.2 348.9H904.5V352.0H901.2zM965.7 348.9H968.9V352.0H965.7zM830.9 346.0H834.2V349.2H830.9zM898.3 346.0H901.5V349.2H898.3zM968.6 346.0H971.9V349.2H968.6zM740.1 343.2H743.3V346.3H740.1zM784.1 343.2H787.3V346.3H784.1zM889.5 343.2H892.8V346.3H889.5zM734.2 340.4H737.5V343.5H734.2zM822.1 340.4H825.4V343.5H822.1zM798.7 334.7H801.9V337.8H798.7zM713.7 331.8H717.0V335.0H713.7zM789.9 326.2H793.1V329.3H789.9zM684.4 323.3H687.7V326.5H684.4zM684.4 320.5H690.6V323.6H684.4zM696.2 320.5H699.4V323.6H696.2zM681.5 317.6H684.7V320.8H681.5zM687.4 312.0H690.6V315.1H687.4zM681.5 309.1H684.7V312.3H681.5z"/>
<path fill="#fff500" d="M760.6 348.9H763.8V352.0H760.6zM825.1 348.9H828.3V352.0H825.1zM945.2 348.9H948.4V352.0H945.2zM795.8 346.0H799.0V349.2H795.8zM954.0 346.0H957.2V349.2H954.0zM1006.7 346.0H1010.0V349.2H1006.7zM833.9 343.2H837.1V346.3H833.9zM845.6 343.2H848.8V346.3H845.6zM857.3 343.2H860.5V346.3H857.3zM860.2 340.4H863.5V343.5H860.2zM801.6 337.5H804.9V340.7H801.6zM1009.7 337.5H1012.9V340.7H1009.7zM737.2 331.8H740.4V335.0H737.2zM748.9 331.8H752.1V335.0H748.9zM699.1 329.0H702.3V332.1H699.1zM704.9 329.0H708.2V332.1H704.9zM696.2 323.3H699.4V326.5H696.2zM702.0 320.5H705.2V323.6H702.0zM684.4 317.6H687.7V320.8H684.4zM725.5 317.6H728.7V320.8H725.5zM684.4 309.1H687.7V312.3H684.4z"/>
<path fill="#fffd00" d="M743.0 346.0H746.3V349.2H743.0zM766.5 346.0H769.7V349.2H766.5zM836.8 346.0H840.0V349.2H836.8zM869.0 346.0H872.2V349.2H869.0zM728.4 340.4H731.6V343.5H728.4zM707.9 337.5H711.1V340.7H707.9zM951.1 334.7H954.3V337.8H951.1zM699.1 331.8H702.3V335.0H699.1zM704.9 331.8H708.2V335.0H704.9zM690.3 326.2H693.5V329.3H690.3zM722.5 326.2H725.8V329.3H722.5zM687.4 314.8H690.6V317.9H687.4z"/>
<path fill="#ffff0a" d="M880.7 346.0H884.0V349.2H880.7zM913.0 343.2H916.2V346.3H913.0zM728.4 337.5H731.6V340.7H728.4zM710.8 334.7H714.0V337.8H710.8zM681.5 326.2H684.7V329.3H681.5z"/>
<path fill="#ffff17" d="M995.0 348.9H998.2V352.0H995.0zM746.0 346.0H749.2V349.2H746.0zM810.4 346.0H813.6V349.2H810.4zM1000.9 346.0H1004.1V349.2H1000.9zM731.3 343.2H734.5V346.3H731.3zM775.3 340.4H778.5V343.5H775.3zM713.7 337.5H717.0V340.7H713.7zM713.7 334.7H717.0V337.8H713.7zM696.2 329.0H699.4V332.1H696.2zM687.4 323.3H690.6V326.5H687.4z"/>
<path fill="#ffff23" d="M751.8 348.9H755.0V352.0H751.8zM839.7 348.9H843.0V352.0H839.7zM866.1 348.9H869.3V352.0H866.1zM977.4 348.9H980.7V352.0H977.4zM997.9 348.9H1001.2V352.0H997.9zM719.6 343.2H722.8V346.3H719.6zM1009.7 340.4H1015.8V343.5H1009.7zM699.1 334.7H702.3V337.8H699.1zM704.9 334.7H708.2V337.8H704.9zM696.2 331.8H699.4V335.0H696.2zM687.4 329.0H690.6V332.1H687.4zM693.2 329.0H696.5V332.1H693.2zM684.4 326.2H687.7V329.3H684.4zM678.6 323.3H681.8V326.5H678.6zM725.5 320.5H728.7V323.6H725.5z"/>
<path fill="#ffff30" d="M819.2 348.9H822.4V352.0H819.2zM915.9 348.9H919.1V352.0H915.9zM707.9 340.4H711.1V343.5H707.9zM877.8 340.4H881.0V343.5H877.8zM948.1 340.4H951.4V343.5H948.1zM737.2 334.7H740.4V337.8H737.2zM959.9 334.7H963.1V337.8H959.9zM690.3 331.8H693.5V335.0H690.3zM690.3 329.0H693.5V332.1H690.3zM687.4 326.2H690.6V329.3H687.4zM681.5 323.3H684.7V326.5H681.5zM690.3 323.3H693.5V326.5H690.3zM702.0 323.3H705.2V326.5H702.0zM678.6 320.5H681.8V323.6H678.6z"/>
<path fill="#ffff3c" d="M924.7 351.7H927.9V354.9H924.7zM936.4 348.9H939.6V352.0H936.4zM740.1 346.0H743.3V349.2H740.1zM707.9 343.2H711.1V346.3H707.9zM792.8 340.4H796.1V343.5H792.8zM687.4 331.8H690.6V335.0H687.4zM693.2 331.8H696.5V335.0H693.2zM681.5 329.0H684.7V332.1H681.5zM675.6 326.2H678.9V329.3H675.6z"/>
<path fill="#ffff49" d="M757.7 348.9H760.9V352.0H757.7zM848.5 348.9H851.7V352.0H848.5zM989.2 348.9H995.3V352.0H989.2zM1006.7 348.9H1010.0V352.0H1006.7zM734.2 343.2H737.5V346.3H734.2zM687.4 334.7H690.6V337.8H687.4zM716.7 334.7H719.9V337.8H716.7zM748.9 334.7H752.1V337.8H748.9zM684.4 331.8H687.7V335.0H684.4zM789.9 329.0H793.1V332.1H789.9zM678.6 326.2H681.8V329.3H678.6z"/>
<path fill="#ffff56" d="M927.6 351.7H930.9V354.9H927.6zM956.9 348.9H960.2V352.0H956.9zM731.3 346.0H734.5V349.2H731.3zM728.4 343.2H731.6V346.3H728.4zM778.2 343.2H781.4V346.3H778.2zM787.0 343.2H790.2V346.3H787.0zM681.5 337.5H684.7V340.7H681.5zM704.9 337.5H708.2V340.7H704.9zM710.8 337.5H714.0V340.7H710.8zM716.7 337.5H719.9V340.7H716.7zM684.4 334.7H687.7V337.8H684.4zM722.5 331.8H725.8V335.0H722.5zM684.4 329.0H687.7V332.1H684.4zM693.2 326.2H696.5V329.3H693.2zM702.0 326.2H705.2V329.3H702.0z"/>
<path fill="#ffff62" d="M743.0 348.9H746.3V352.0H743.0zM971.6 343.2H974.8V346.3H971.6zM687.4 337.5H693.5V340.7H687.4zM842.7 337.5H845.9V340.7H842.7zM690.3 334.7H699.4V337.8H690.3zM681.5 331.8H684.7V335.0H681.5zM722.5 329.0H725.8V332.1H722.5z"/>
<path fill="#ffff6f" d="M883.7 360.3H886.9V363.4H883.7zM930.6 351.7H933.8V354.9H930.6zM942.3 351.7H945.5V354.9H942.3zM781.1 348.9H784.4V352.0H781.1zM886.6 348.9H889.8V352.0H886.6zM910.0 348.9H913.3V352.0H910.0zM754.8 346.0H758.0V349.2H754.8zM699.1 337.5H702.3V340.7H699.1zM678.6 334.7H684.7V337.8H678.6zM678.6 331.8H681.8V335.0H678.6z"/>
<path fill="#ffff7b" d="M980.4 351.7H983.6V354.9H980.4zM892.5 348.9H895.7V352.0H892.5zM1003.8 348.9H1007.0V352.0H1003.8zM719.6 346.0H722.8V349.2H719.6zM874.9 346.0H878.1V349.2H874.9zM713.7 340.4H717.0V343.5H713.7zM684.4 337.5H687.7V340.7H684.4zM678.6 329.0H681.8V332.1H678.6zM725.5 323.3H728.7V326.5H725.5z"/>
<path fill="#ffff88" d="M904.2 351.7H907.4V354.9H904.2zM983.3 351.7H986.5V354.9H983.3zM854.4 348.9H857.6V352.0H854.4zM968.6 348.9H971.9V352.0H968.6zM845.6 346.0H848.8V349.2H845.6zM863.2 346.0H866.4V349.2H863.2zM872.0 346.0H875.2V349.2H872.0zM684.4 340.4H693.5V343.5H684.4zM716.7 340.4H719.9V343.5H716.7zM675.6 329.0H678.9V332.1H675.6z"/>
<path fill="#ffff94" d="M883.7 357.4H886.9V360.6H883.7zM772.3 351.7H775.6V354.9H772.3zM907.1 351.7H910.3V354.9H907.1zM939.3 351.7H942.6V354.9H939.3zM828.0 348.9H831.2V352.0H828.0zM954.0 348.9H957.2V352.0H954.0zM734.2 346.0H737.5V349.2H734.2zM784.1 346.0H787.3V349.2H784.1zM804.6 346.0H807.8V349.2H804.6zM702.0 329.0H705.2V332.1H702.0z"/>
<path fill="#ffffa1" d="M746.0 348.9H749.2V352.0H746.0zM918.8 348.9H922.1V352.0H918.8zM816.3 346.0H819.5V349.2H816.3zM889.5 346.0H892.8V349.2H889.5zM690.3 343.2H693.5V346.3H690.3zM1012.6 343.2H1015.8V346.3H1012.6zM693.2 337.5H699.4V340.7H693.2zM675.6 331.8H678.9V335.0H675.6z"/>
<path fill="#ffffad" d="M740.1 348.9H743.3V352.0H740.1zM898.3 348.9H901.5V352.0H898.3zM707.9 346.0H711.1V349.2H707.9zM681.5 343.2H684.7V346.3H681.5zM696.2 340.4H702.3V343.5H696.2zM704.9 340.4H708.2V343.5H704.9z"/>
<path fill="#ffffba" d="M763.5 351.7H766.8V354.9H763.5zM687.4 346.0H690.6V349.2H687.4zM687.4 343.2H690.6V346.3H687.4zM681.5 340.4H684.7V343.5H681.5zM710.8 340.4H714.0V343.5H710.8zM678.6 337.5H681.8V340.7H678.6z"/>
<path fill="#ffffc7" d="M1015.5 357.4H1018.8V360.6H1015.5zM760.6 351.7H763.8V354.9H760.6zM851.4 351.7H854.7V354.9H851.4zM965.7 351.7H968.9V354.9H965.7zM795.8 348.9H799.0V352.0H795.8zM974.5 348.9H977.7V352.0H974.5zM737.2 337.5H740.4V340.7H737.2zM672.7 334.7H678.9V337.8H672.7zM722.5 334.7H725.8V337.8H722.5z"/>
<path fill="#ffffd3" d="M678.6 348.9H681.8V352.0H678.6zM833.9 346.0H837.1V349.2H833.9zM669.8 343.2H673.0V346.3H669.8zM696.2 343.2H699.4V346.3H696.2zM716.7 343.2H719.9V346.3H716.7zM813.4 343.2H816.6V346.3H813.4z"/>
<path fill="#ffffe0" d="M1018.5 357.4H1021.7V360.6H1018.5zM731.3 348.9H734.5V352.0H731.3zM684.4 346.0H687.7V349.2H684.4zM728.4 346.0H731.6V349.2H728.4zM857.3 346.0H860.5V349.2H857.3zM672.7 337.5H675.9V340.7H672.7zM951.1 337.5H954.3V340.7H951.1z"/>
<path fill="#ffffec" d="M901.2 351.7H904.5V354.9H901.2zM921.8 351.7H925.0V354.9H921.8zM986.2 351.7H989.5V354.9H986.2zM675.6 343.2H678.9V346.3H675.6zM684.4 343.2H687.7V346.3H684.4zM672.7 340.4H675.9V343.5H672.7zM678.6 340.4H681.8V343.5H678.6zM675.6 337.5H678.9V340.7H675.6z"/>
<path fill="#fffff9" d="M678.6 351.7H681.8V354.9H678.6zM684.4 351.7H687.7V354.9H684.4zM769.4 351.7H772.6V354.9H769.4zM684.4 348.9H687.7V352.0H684.4zM681.5 346.0H684.7V349.2H681.5zM713.7 343.2H717.0V346.3H713.7z"/>
</g>
<rect x="653.7" y="36.35" width="381.8" height="340.95" fill="none" stroke="#000" stroke-width="1"/>
<path d="M701.3 377.3v-3.2M701.3 36.35v3.2M759.7 377.3v-3.2M759.7 36.35v3.2M818.2 377.3v-3.2M876.6 377.3v-3.2M935.0 377.3v-3.2M993.5 377.3v-3.2M993.5 36.35v3.2M653.7 377.3h3.2M1035.5 377.3h-3.2M653.7 320.5h3.2M1035.5 320.5h-3.2M653.7 263.6h3.2M1035.5 263.6h-3.2M653.7 206.8h3.2M1035.5 206.8h-3.2M653.7 150.0h3.2M1035.5 150.0h-3.2M653.7 93.2h3.2M1035.5 93.2h-3.2M653.7 36.4h3.2M1035.5 36.4h-3.2" stroke="#000" stroke-width="1" fill="none"/>
<path d="M818.2 36.85v3M876.6 36.85v3M935.0 36.85v3" stroke="#566" stroke-width="1" fill="none"/>
<defs><linearGradient id="hotg" x1="0" y1="1" x2="0" y2="0"><stop offset="0" stop-color="#0b0000"/><stop offset="0.365" stop-color="#ff0000"/><stop offset="0.746" stop-color="#ffff00"/><stop offset="1" stop-color="#ffffff"/></linearGradient></defs>
<rect x="1049.5" y="36.35" width="26.0" height="340.95" fill="url(#hotg)" stroke="#000" stroke-width="1"/>
<path d="M1075.5 377.3h-3.2M1075.5 309.1h-3.2M1075.5 240.9h-3.2M1075.5 172.7h-3.2M1075.5 104.5h-3.2M1075.5 36.4h-3.2" stroke="#000" stroke-width="1" fill="none"/>
<g font-family="'DejaVu Sans', 'Liberation Sans', sans-serif" fill="#1a1a1a" font-size="12.8">
<text x="1081.4" y="381.7" font-size="12">0</text>
<text x="1081.4" y="313.5" font-size="12">50</text>
<text x="1081.4" y="245.3" font-size="12">100</text>
<text x="1081.4" y="177.1" font-size="12">150</text>
<text x="1081.4" y="108.9" font-size="12">200</text>
<text x="1081.4" y="40.8" font-size="12">250</text>
<text x="701.7" y="395.7" text-anchor="middle">-3</text>
<text x="760.1" y="395.7" text-anchor="middle">-2</text>
<text x="818.6" y="395.7" text-anchor="middle">-1</text>
<text x="877.0" y="395.7" text-anchor="middle">0</text>
<text x="935.4" y="395.7" text-anchor="middle">1</text>
<text x="993.9" y="395.7" text-anchor="middle">2</text>
<text x="647.2" y="381.8" text-anchor="end">0</text>
<text x="647.2" y="325.0" text-anchor="end">10</text>
<text x="647.2" y="268.1" text-anchor="end">20</text>
<text x="647.2" y="211.3" text-anchor="end">30</text>
<text x="647.2" y="154.5" text-anchor="end">40</text>
<text x="647.2" y="97.7" text-anchor="end">50</text>
<text x="647.2" y="40.9" text-anchor="end">60</text>
<text x="844.7" y="28.7" font-size="14.9" text-anchor="middle" fill="#000">QE slice</text>
<text x="845.2" y="415.4" font-size="15.3" text-anchor="middle" fill="#000">(-h,h,0) (r.l.u.)</text>
<text transform="translate(623.3 207.7) rotate(-90)" font-size="14.85" text-anchor="middle" fill="#000">Energy (meV)</text>
</g></g>
</svg>
</body>
</html>
